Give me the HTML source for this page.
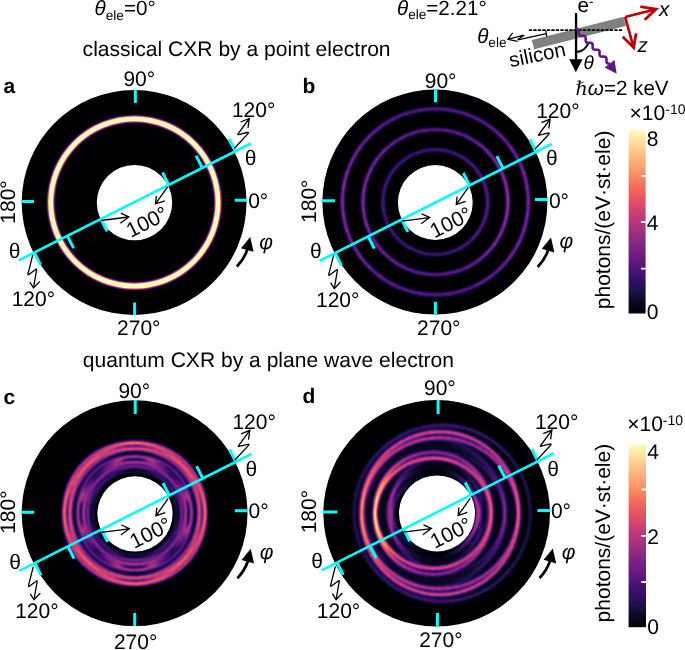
<!DOCTYPE html>
<html lang="en"><head><meta charset="utf-8"><title>CXR figure</title>
<style>html,body{margin:0;padding:0;background:#fff;overflow:hidden}svg{display:block}text{font-family:"Liberation Sans",sans-serif;fill:#000;text-rendering:geometricPrecision}</style></head><body>
<svg width="685" height="650" viewBox="0 0 685 650">
<defs>
<filter id="ma" filterUnits="userSpaceOnUse" x="13.7" y="82.1" width="240.8" height="240.8" color-interpolation-filters="sRGB">
<feGaussianBlur stdDeviation="0.85"/>
<feComponentTransfer><feFuncR type="table" tableValues="0.001 0.022 0.065 0.118 0.185 0.265 0.335 0.403 0.470 0.538 0.614 0.684 0.755 0.823 0.885 0.937 0.968 0.985 0.993 0.997 0.997 0.994 0.990 0.987 0.987 0.987 0.987 0.987 0.987 0.987 0.987 0.987 0.987"/><feFuncG type="table" tableValues="0.000 0.018 0.047 0.066 0.066 0.060 0.078 0.105 0.132 0.157 0.182 0.204 0.229 0.259 0.301 0.365 0.440 0.521 0.602 0.683 0.770 0.849 0.927 0.991 0.991 0.991 0.991 0.991 0.991 0.991 0.991 0.991 0.991"/><feFuncB type="table" tableValues="0.014 0.093 0.185 0.286 0.388 0.462 0.491 0.503 0.508 0.507 0.499 0.484 0.463 0.434 0.400 0.369 0.360 0.377 0.414 0.467 0.535 0.606 0.683 0.750 0.750 0.750 0.750 0.750 0.750 0.750 0.750 0.750 0.750"/></feComponentTransfer></filter>
<clipPath id="clipa"><path clip-rule="evenodd" d="M21.7,202.5a112.4,112.4 0 1,0 224.8,0a112.4,112.4 0 1,0 -224.8,0Z M96.8,202.6a37.7,37.7 0 1,0 75.4,0a37.7,37.7 0 1,0 -75.4,0Z"/></clipPath>
<filter id="mb" filterUnits="userSpaceOnUse" x="314.4" y="81.5" width="241" height="241" color-interpolation-filters="sRGB">
<feGaussianBlur stdDeviation="1.3"/>
<feComponentTransfer><feFuncR type="table" tableValues="0.001 0.014 0.040 0.074 0.113 0.159 0.212 0.265 0.317 0.366 0.415 0.464 0.513 0.563 0.614 0.665 0.716 0.767 0.817 0.863 0.904 0.937 0.961 0.977 0.987 0.993 0.996 0.997 0.997 0.995 0.992 0.989 0.987"/><feFuncG type="table" tableValues="0.000 0.012 0.031 0.052 0.065 0.068 0.062 0.060 0.072 0.090 0.110 0.130 0.148 0.165 0.182 0.198 0.215 0.234 0.256 0.284 0.320 0.365 0.418 0.476 0.536 0.595 0.654 0.712 0.770 0.827 0.884 0.941 0.991"/><feFuncB type="table" tableValues="0.014 0.069 0.134 0.203 0.277 0.353 0.419 0.462 0.485 0.498 0.505 0.508 0.508 0.505 0.499 0.489 0.475 0.458 0.436 0.412 0.388 0.369 0.360 0.364 0.382 0.410 0.446 0.488 0.535 0.586 0.640 0.698 0.750"/></feComponentTransfer></filter>
<clipPath id="clipb"><path clip-rule="evenodd" d="M322.4,202a112.5,112.5 0 1,0 225,0a112.5,112.5 0 1,0 -225,0Z M397.9,202.5a37.4,37.4 0 1,0 74.8,0a37.4,37.4 0 1,0 -74.8,0Z"/></clipPath>
<filter id="mc" filterUnits="userSpaceOnUse" x="13.7" y="392.25" width="241.8" height="241.8" color-interpolation-filters="sRGB">
<feGaussianBlur stdDeviation="1.3"/>
<feComponentTransfer><feFuncR type="table" tableValues="0.001 0.014 0.040 0.074 0.113 0.159 0.212 0.265 0.317 0.366 0.415 0.464 0.513 0.563 0.614 0.665 0.716 0.767 0.817 0.863 0.904 0.937 0.961 0.977 0.987 0.993 0.996 0.997 0.997 0.995 0.992 0.989 0.987"/><feFuncG type="table" tableValues="0.000 0.012 0.031 0.052 0.065 0.068 0.062 0.060 0.072 0.090 0.110 0.130 0.148 0.165 0.182 0.198 0.215 0.234 0.256 0.284 0.320 0.365 0.418 0.476 0.536 0.595 0.654 0.712 0.770 0.827 0.884 0.941 0.991"/><feFuncB type="table" tableValues="0.014 0.069 0.134 0.203 0.277 0.353 0.419 0.462 0.485 0.498 0.505 0.508 0.508 0.505 0.499 0.489 0.475 0.458 0.436 0.412 0.388 0.369 0.360 0.364 0.382 0.410 0.446 0.488 0.535 0.586 0.640 0.698 0.750"/></feComponentTransfer></filter>
<clipPath id="clipc"><path clip-rule="evenodd" d="M21.7,513.15a112.9,112.9 0 1,0 225.8,0a112.9,112.9 0 1,0 -225.8,0Z M97.4,513.9a37.6,37.6 0 1,0 75.2,0a37.6,37.6 0 1,0 -75.2,0Z"/></clipPath>
<filter id="md" filterUnits="userSpaceOnUse" x="315.35" y="391.95" width="242.6" height="242.6" color-interpolation-filters="sRGB">
<feGaussianBlur stdDeviation="1.3"/>
<feComponentTransfer><feFuncR type="table" tableValues="0.001 0.014 0.040 0.074 0.113 0.159 0.212 0.265 0.317 0.366 0.415 0.464 0.513 0.563 0.614 0.665 0.716 0.767 0.817 0.863 0.904 0.937 0.961 0.977 0.987 0.993 0.996 0.997 0.997 0.995 0.992 0.989 0.987"/><feFuncG type="table" tableValues="0.000 0.012 0.031 0.052 0.065 0.068 0.062 0.060 0.072 0.090 0.110 0.130 0.148 0.165 0.182 0.198 0.215 0.234 0.256 0.284 0.320 0.365 0.418 0.476 0.536 0.595 0.654 0.712 0.770 0.827 0.884 0.941 0.991"/><feFuncB type="table" tableValues="0.014 0.069 0.134 0.203 0.277 0.353 0.419 0.462 0.485 0.498 0.505 0.508 0.508 0.505 0.499 0.489 0.475 0.458 0.436 0.412 0.388 0.369 0.360 0.364 0.382 0.410 0.446 0.488 0.535 0.586 0.640 0.698 0.750"/></feComponentTransfer></filter>
<clipPath id="clipd"><path clip-rule="evenodd" d="M323.35,513.25a113.3,113.3 0 1,0 226.6,0a113.3,113.3 0 1,0 -226.6,0Z M399,513.4a38,38 0 1,0 76,0a38,38 0 1,0 -76,0Z"/></clipPath>
<linearGradient id="cb" x1="0" y1="0" x2="0" y2="1"><stop offset="0" stop-color="#fcfdbf"/><stop offset="0.06" stop-color="#fde2a3"/><stop offset="0.12" stop-color="#fec488"/><stop offset="0.19" stop-color="#fea772"/><stop offset="0.25" stop-color="#fc8961"/><stop offset="0.31" stop-color="#f56b5c"/><stop offset="0.38" stop-color="#e75263"/><stop offset="0.44" stop-color="#d0416f"/><stop offset="0.5" stop-color="#b73779"/><stop offset="0.56" stop-color="#9c2e7f"/><stop offset="0.62" stop-color="#832681"/><stop offset="0.69" stop-color="#6a1c81"/><stop offset="0.75" stop-color="#51127c"/><stop offset="0.81" stop-color="#36106b"/><stop offset="0.88" stop-color="#1d1147"/><stop offset="0.94" stop-color="#0a0822"/><stop offset="1" stop-color="#000004"/></linearGradient>
<linearGradient id="gb1" x1="0" y1="0" x2="1" y2="0"><stop offset="0" stop-color="#fff" stop-opacity="0.50"/><stop offset="0.5" stop-color="#fff" stop-opacity="0.36"/><stop offset="1" stop-color="#fff" stop-opacity="0.50"/></linearGradient>
<linearGradient id="gb2" x1="0" y1="0" x2="1" y2="0"><stop offset="0" stop-color="#fff" stop-opacity="0.46"/><stop offset="0.5" stop-color="#fff" stop-opacity="0.36"/><stop offset="1" stop-color="#fff" stop-opacity="0.56"/></linearGradient>
<linearGradient id="gb3" x1="0" y1="0" x2="1" y2="0"><stop offset="0" stop-color="#fff" stop-opacity="0.33"/><stop offset="0.5" stop-color="#fff" stop-opacity="0.28"/><stop offset="1" stop-color="#fff" stop-opacity="0.33"/></linearGradient>
<linearGradient id="gdl" x1="0" y1="0" x2="1" y2="0"><stop offset="0" stop-color="#fff" stop-opacity="1"/><stop offset="0.5" stop-color="#fff" stop-opacity="0.55"/><stop offset="1" stop-color="#fff" stop-opacity="0.35"/></linearGradient>
<linearGradient id="gdr" x1="0" y1="0" x2="1" y2="0"><stop offset="0" stop-color="#fff" stop-opacity="0.35"/><stop offset="0.5" stop-color="#fff" stop-opacity="0.55"/><stop offset="1" stop-color="#fff" stop-opacity="1"/></linearGradient>
</defs>
<rect width="685" height="650" fill="#fff"/>
<g clip-path="url(#clipa)"><g filter="url(#ma)">
<rect x="11.7" y="80.1" width="244.8" height="244.8" fill="#000"/>
<circle cx="134.4" cy="202.5" r="83.65" fill="none" stroke="#fff" stroke-width="5.2" stroke-opacity="1"/>
</g></g>
<g clip-path="url(#clipb)"><g filter="url(#mb)">
<rect x="312.4" y="79.5" width="245" height="245" fill="#000"/>
<g fill="none" stroke="#fff" stroke-width="3.2">
<path d="M528.35,202.04A92.95,92.95 0 0,0 527.17,187.02" stroke-opacity="0.41"/>
<path d="M527.24,187.5A92.95,92.95 0 0,0 523.73,172.85" stroke-opacity="0.41"/>
<path d="M523.88,173.31A92.95,92.95 0 0,0 518.11,159.38" stroke-opacity="0.39"/>
<path d="M518.33,159.82A92.95,92.95 0 0,0 510.45,146.97" stroke-opacity="0.38"/>
<path d="M510.74,147.36A92.95,92.95 0 0,0 500.95,135.9" stroke-opacity="0.36"/>
<path d="M501.3,136.25A92.95,92.95 0 0,0 489.84,126.46" stroke-opacity="0.34"/>
<path d="M490.23,126.75A92.95,92.95 0 0,0 477.38,118.87" stroke-opacity="0.33"/>
<path d="M477.82,119.09A92.95,92.95 0 0,0 463.89,113.32" stroke-opacity="0.31"/>
<path d="M464.35,113.47A92.95,92.95 0 0,0 449.7,109.96" stroke-opacity="0.3"/>
<path d="M450.18,110.03A92.95,92.95 0 0,0 435.16,108.85" stroke-opacity="0.3"/>
<path d="M435.64,108.85A92.95,92.95 0 0,0 420.62,110.03" stroke-opacity="0.3"/>
<path d="M421.1,109.96A92.95,92.95 0 0,0 406.45,113.47" stroke-opacity="0.3"/>
<path d="M406.91,113.32A92.95,92.95 0 0,0 392.98,119.09" stroke-opacity="0.31"/>
<path d="M393.42,118.87A92.95,92.95 0 0,0 380.57,126.75" stroke-opacity="0.33"/>
<path d="M380.96,126.46A92.95,92.95 0 0,0 369.5,136.25" stroke-opacity="0.35"/>
<path d="M369.85,135.9A92.95,92.95 0 0,0 360.06,147.36" stroke-opacity="0.37"/>
<path d="M360.35,146.97A92.95,92.95 0 0,0 352.47,159.82" stroke-opacity="0.39"/>
<path d="M352.69,159.38A92.95,92.95 0 0,0 346.92,173.31" stroke-opacity="0.4"/>
<path d="M347.07,172.85A92.95,92.95 0 0,0 343.56,187.5" stroke-opacity="0.42"/>
<path d="M343.63,187.02A92.95,92.95 0 0,0 342.45,202.04" stroke-opacity="0.42"/>
<path d="M342.45,201.56A92.95,92.95 0 0,0 343.63,216.58" stroke-opacity="0.42"/>
<path d="M343.56,216.1A92.95,92.95 0 0,0 347.07,230.75" stroke-opacity="0.42"/>
<path d="M346.92,230.29A92.95,92.95 0 0,0 352.69,244.22" stroke-opacity="0.4"/>
<path d="M352.47,243.78A92.95,92.95 0 0,0 360.35,256.63" stroke-opacity="0.39"/>
<path d="M360.06,256.24A92.95,92.95 0 0,0 369.85,267.7" stroke-opacity="0.37"/>
<path d="M369.5,267.35A92.95,92.95 0 0,0 380.96,277.14" stroke-opacity="0.35"/>
<path d="M380.57,276.85A92.95,92.95 0 0,0 393.42,284.73" stroke-opacity="0.33"/>
<path d="M392.98,284.51A92.95,92.95 0 0,0 406.91,290.28" stroke-opacity="0.31"/>
<path d="M406.45,290.13A92.95,92.95 0 0,0 421.1,293.64" stroke-opacity="0.3"/>
<path d="M420.62,293.57A92.95,92.95 0 0,0 435.64,294.75" stroke-opacity="0.3"/>
<path d="M435.16,294.75A92.95,92.95 0 0,0 450.18,293.57" stroke-opacity="0.3"/>
<path d="M449.7,293.64A92.95,92.95 0 0,0 464.35,290.13" stroke-opacity="0.3"/>
<path d="M463.89,290.28A92.95,92.95 0 0,0 477.82,284.51" stroke-opacity="0.31"/>
<path d="M477.38,284.73A92.95,92.95 0 0,0 490.23,276.85" stroke-opacity="0.33"/>
<path d="M489.84,277.14A92.95,92.95 0 0,0 501.3,267.35" stroke-opacity="0.34"/>
<path d="M500.95,267.7A92.95,92.95 0 0,0 510.74,256.24" stroke-opacity="0.36"/>
<path d="M510.45,256.63A92.95,92.95 0 0,0 518.33,243.78" stroke-opacity="0.38"/>
<path d="M518.11,244.22A92.95,92.95 0 0,0 523.88,230.29" stroke-opacity="0.39"/>
<path d="M523.73,230.75A92.95,92.95 0 0,0 527.24,216.1" stroke-opacity="0.41"/>
<path d="M527.17,216.58A92.95,92.95 0 0,0 528.35,201.56" stroke-opacity="0.41"/>
</g>
<g fill="none" stroke="#fff" stroke-width="3.2">
<path d="M508,202.24A72.5,72.5 0 0,0 507.08,190.52" stroke-opacity="0.47"/>
<path d="M507.14,190.9A72.5,72.5 0 0,0 504.39,179.47" stroke-opacity="0.46"/>
<path d="M504.51,179.83A72.5,72.5 0 0,0 500.01,168.97" stroke-opacity="0.44"/>
<path d="M500.18,169.3A72.5,72.5 0 0,0 494.04,159.28" stroke-opacity="0.42"/>
<path d="M494.27,159.59A72.5,72.5 0 0,0 486.63,150.65" stroke-opacity="0.4"/>
<path d="M486.9,150.92A72.5,72.5 0 0,0 477.96,143.28" stroke-opacity="0.38"/>
<path d="M478.27,143.51A72.5,72.5 0 0,0 468.25,137.37" stroke-opacity="0.35"/>
<path d="M468.58,137.54A72.5,72.5 0 0,0 457.72,133.04" stroke-opacity="0.33"/>
<path d="M458.08,133.16A72.5,72.5 0 0,0 446.65,130.41" stroke-opacity="0.32"/>
<path d="M447.03,130.47A72.5,72.5 0 0,0 435.31,129.55" stroke-opacity="0.31"/>
<path d="M435.69,129.55A72.5,72.5 0 0,0 423.97,130.47" stroke-opacity="0.31"/>
<path d="M424.35,130.41A72.5,72.5 0 0,0 412.92,133.16" stroke-opacity="0.32"/>
<path d="M413.28,133.04A72.5,72.5 0 0,0 402.42,137.54" stroke-opacity="0.33"/>
<path d="M402.75,137.37A72.5,72.5 0 0,0 392.73,143.51" stroke-opacity="0.34"/>
<path d="M393.04,143.28A72.5,72.5 0 0,0 384.1,150.92" stroke-opacity="0.36"/>
<path d="M384.37,150.65A72.5,72.5 0 0,0 376.73,159.59" stroke-opacity="0.38"/>
<path d="M376.96,159.28A72.5,72.5 0 0,0 370.82,169.3" stroke-opacity="0.39"/>
<path d="M370.99,168.97A72.5,72.5 0 0,0 366.49,179.83" stroke-opacity="0.41"/>
<path d="M366.61,179.47A72.5,72.5 0 0,0 363.86,190.9" stroke-opacity="0.42"/>
<path d="M363.92,190.52A72.5,72.5 0 0,0 363,202.24" stroke-opacity="0.42"/>
<path d="M363,201.86A72.5,72.5 0 0,0 363.92,213.58" stroke-opacity="0.42"/>
<path d="M363.86,213.2A72.5,72.5 0 0,0 366.61,224.63" stroke-opacity="0.42"/>
<path d="M366.49,224.27A72.5,72.5 0 0,0 370.99,235.13" stroke-opacity="0.41"/>
<path d="M370.82,234.8A72.5,72.5 0 0,0 376.96,244.82" stroke-opacity="0.39"/>
<path d="M376.73,244.51A72.5,72.5 0 0,0 384.37,253.45" stroke-opacity="0.38"/>
<path d="M384.1,253.18A72.5,72.5 0 0,0 393.04,260.82" stroke-opacity="0.36"/>
<path d="M392.73,260.59A72.5,72.5 0 0,0 402.75,266.73" stroke-opacity="0.34"/>
<path d="M402.42,266.56A72.5,72.5 0 0,0 413.28,271.06" stroke-opacity="0.33"/>
<path d="M412.92,270.94A72.5,72.5 0 0,0 424.35,273.69" stroke-opacity="0.32"/>
<path d="M423.97,273.63A72.5,72.5 0 0,0 435.69,274.55" stroke-opacity="0.31"/>
<path d="M435.31,274.55A72.5,72.5 0 0,0 447.03,273.63" stroke-opacity="0.31"/>
<path d="M446.65,273.69A72.5,72.5 0 0,0 458.08,270.94" stroke-opacity="0.32"/>
<path d="M457.72,271.06A72.5,72.5 0 0,0 468.58,266.56" stroke-opacity="0.33"/>
<path d="M468.25,266.73A72.5,72.5 0 0,0 478.27,260.59" stroke-opacity="0.35"/>
<path d="M477.96,260.82A72.5,72.5 0 0,0 486.9,253.18" stroke-opacity="0.38"/>
<path d="M486.63,253.45A72.5,72.5 0 0,0 494.27,244.51" stroke-opacity="0.4"/>
<path d="M494.04,244.82A72.5,72.5 0 0,0 500.18,234.8" stroke-opacity="0.42"/>
<path d="M500.01,235.13A72.5,72.5 0 0,0 504.51,224.27" stroke-opacity="0.44"/>
<path d="M504.39,224.63A72.5,72.5 0 0,0 507.14,213.2" stroke-opacity="0.46"/>
<path d="M507.08,213.58A72.5,72.5 0 0,0 508,201.86" stroke-opacity="0.47"/>
</g>
<g fill="none" stroke="#fff" stroke-width="3.2">
<path d="M487.7,202.19A52.4,52.4 0 0,0 487.03,193.72" stroke-opacity="0.31"/>
<path d="M487.08,193.99A52.4,52.4 0 0,0 485.09,185.73" stroke-opacity="0.31"/>
<path d="M485.18,185.99A52.4,52.4 0 0,0 481.93,178.14" stroke-opacity="0.3"/>
<path d="M482.05,178.38A52.4,52.4 0 0,0 477.61,171.14" stroke-opacity="0.29"/>
<path d="M477.77,171.36A52.4,52.4 0 0,0 472.26,164.9" stroke-opacity="0.28"/>
<path d="M472.45,165.09A52.4,52.4 0 0,0 465.99,159.58" stroke-opacity="0.27"/>
<path d="M466.21,159.74A52.4,52.4 0 0,0 458.97,155.3" stroke-opacity="0.26"/>
<path d="M459.21,155.42A52.4,52.4 0 0,0 451.36,152.17" stroke-opacity="0.25"/>
<path d="M451.62,152.26A52.4,52.4 0 0,0 443.36,150.27" stroke-opacity="0.24"/>
<path d="M443.63,150.32A52.4,52.4 0 0,0 435.16,149.65" stroke-opacity="0.23"/>
<path d="M435.44,149.65A52.4,52.4 0 0,0 426.97,150.32" stroke-opacity="0.23"/>
<path d="M427.24,150.27A52.4,52.4 0 0,0 418.98,152.26" stroke-opacity="0.23"/>
<path d="M419.24,152.17A52.4,52.4 0 0,0 411.39,155.42" stroke-opacity="0.24"/>
<path d="M411.63,155.3A52.4,52.4 0 0,0 404.39,159.74" stroke-opacity="0.24"/>
<path d="M404.61,159.58A52.4,52.4 0 0,0 398.15,165.09" stroke-opacity="0.24"/>
<path d="M398.34,164.9A52.4,52.4 0 0,0 392.83,171.36" stroke-opacity="0.25"/>
<path d="M392.99,171.14A52.4,52.4 0 0,0 388.55,178.38" stroke-opacity="0.25"/>
<path d="M388.67,178.14A52.4,52.4 0 0,0 385.42,185.99" stroke-opacity="0.25"/>
<path d="M385.51,185.73A52.4,52.4 0 0,0 383.52,193.99" stroke-opacity="0.25"/>
<path d="M383.57,193.72A52.4,52.4 0 0,0 382.9,202.19" stroke-opacity="0.26"/>
<path d="M382.9,201.91A52.4,52.4 0 0,0 383.57,210.38" stroke-opacity="0.26"/>
<path d="M383.52,210.11A52.4,52.4 0 0,0 385.51,218.37" stroke-opacity="0.25"/>
<path d="M385.42,218.11A52.4,52.4 0 0,0 388.67,225.96" stroke-opacity="0.25"/>
<path d="M388.55,225.72A52.4,52.4 0 0,0 392.99,232.96" stroke-opacity="0.25"/>
<path d="M392.83,232.74A52.4,52.4 0 0,0 398.34,239.2" stroke-opacity="0.25"/>
<path d="M398.15,239.01A52.4,52.4 0 0,0 404.61,244.52" stroke-opacity="0.24"/>
<path d="M404.39,244.36A52.4,52.4 0 0,0 411.63,248.8" stroke-opacity="0.24"/>
<path d="M411.39,248.68A52.4,52.4 0 0,0 419.24,251.93" stroke-opacity="0.24"/>
<path d="M418.98,251.84A52.4,52.4 0 0,0 427.24,253.83" stroke-opacity="0.23"/>
<path d="M426.97,253.78A52.4,52.4 0 0,0 435.44,254.45" stroke-opacity="0.23"/>
<path d="M435.16,254.45A52.4,52.4 0 0,0 443.63,253.78" stroke-opacity="0.23"/>
<path d="M443.36,253.83A52.4,52.4 0 0,0 451.62,251.84" stroke-opacity="0.24"/>
<path d="M451.36,251.93A52.4,52.4 0 0,0 459.21,248.68" stroke-opacity="0.25"/>
<path d="M458.97,248.8A52.4,52.4 0 0,0 466.21,244.36" stroke-opacity="0.26"/>
<path d="M465.99,244.52A52.4,52.4 0 0,0 472.45,239.01" stroke-opacity="0.27"/>
<path d="M472.26,239.2A52.4,52.4 0 0,0 477.77,232.74" stroke-opacity="0.28"/>
<path d="M477.61,232.96A52.4,52.4 0 0,0 482.05,225.72" stroke-opacity="0.29"/>
<path d="M481.93,225.96A52.4,52.4 0 0,0 485.18,218.11" stroke-opacity="0.3"/>
<path d="M485.09,218.37A52.4,52.4 0 0,0 487.08,210.11" stroke-opacity="0.31"/>
<path d="M487.03,210.38A52.4,52.4 0 0,0 487.7,201.91" stroke-opacity="0.31"/>
</g>
</g></g>
<g clip-path="url(#clipc)"><g filter="url(#mc)">
<rect x="11.7" y="390.25" width="245.8" height="245.8" fill="#000"/>
<circle cx="134.7" cy="513.3" r="57" fill="none" stroke="#fff" stroke-width="32" stroke-opacity="0.035"/>
<g fill="none" stroke="#fff" stroke-width="3.6">
<path d="M205.13,510.65A67.6,67.6 0 0,0 204.53,501.47" stroke-opacity="0.47"/>
<path d="M204.57,501.82A67.6,67.6 0 0,0 202.78,492.8" stroke-opacity="0.48"/>
<path d="M202.87,493.15A67.6,67.6 0 0,0 199.91,484.44" stroke-opacity="0.48"/>
<path d="M200.05,484.77A67.6,67.6 0 0,0 195.98,476.52" stroke-opacity="0.48"/>
<path d="M196.16,476.82A67.6,67.6 0 0,0 191.05,469.18" stroke-opacity="0.48"/>
<path d="M191.27,469.46A67.6,67.6 0 0,0 185.2,462.55" stroke-opacity="0.49"/>
<path d="M185.45,462.8A67.6,67.6 0 0,0 178.54,456.73" stroke-opacity="0.49"/>
<path d="M178.82,456.95A67.6,67.6 0 0,0 171.18,451.84" stroke-opacity="0.48"/>
<path d="M171.48,452.02A67.6,67.6 0 0,0 163.23,447.95" stroke-opacity="0.48"/>
<path d="M163.56,448.09A67.6,67.6 0 0,0 154.85,445.13" stroke-opacity="0.48"/>
<path d="M155.2,445.22A67.6,67.6 0 0,0 146.18,443.43" stroke-opacity="0.48"/>
<path d="M146.53,443.47A67.6,67.6 0 0,0 137.35,442.87" stroke-opacity="0.47"/>
<path d="M137.71,442.87A67.6,67.6 0 0,0 128.53,443.47" stroke-opacity="0.47"/>
<path d="M128.88,443.43A67.6,67.6 0 0,0 119.86,445.22" stroke-opacity="0.46"/>
<path d="M120.2,445.13A67.6,67.6 0 0,0 111.5,448.09" stroke-opacity="0.46"/>
<path d="M111.82,447.95A67.6,67.6 0 0,0 103.58,452.02" stroke-opacity="0.45"/>
<path d="M103.88,451.84A67.6,67.6 0 0,0 96.24,456.95" stroke-opacity="0.44"/>
<path d="M96.52,456.73A67.6,67.6 0 0,0 89.6,462.8" stroke-opacity="0.44"/>
<path d="M89.85,462.55A67.6,67.6 0 0,0 83.79,469.46" stroke-opacity="0.43"/>
<path d="M84.01,469.18A67.6,67.6 0 0,0 78.9,476.82" stroke-opacity="0.42"/>
<path d="M79.07,476.52A67.6,67.6 0 0,0 75.01,484.77" stroke-opacity="0.41"/>
<path d="M75.14,484.44A67.6,67.6 0 0,0 72.19,493.15" stroke-opacity="0.41"/>
<path d="M72.28,492.8A67.6,67.6 0 0,0 70.48,501.82" stroke-opacity="0.4"/>
<path d="M70.53,501.47A67.6,67.6 0 0,0 69.93,510.65" stroke-opacity="0.4"/>
<path d="M69.93,510.29A67.6,67.6 0 0,0 70.53,519.47" stroke-opacity="0.39"/>
<path d="M70.48,519.12A67.6,67.6 0 0,0 72.28,528.14" stroke-opacity="0.39"/>
<path d="M72.19,527.8A67.6,67.6 0 0,0 75.14,536.5" stroke-opacity="0.38"/>
<path d="M75.01,536.18A67.6,67.6 0 0,0 79.07,544.42" stroke-opacity="0.38"/>
<path d="M78.9,544.12A67.6,67.6 0 0,0 84.01,551.76" stroke-opacity="0.38"/>
<path d="M83.79,551.48A67.6,67.6 0 0,0 89.85,558.4" stroke-opacity="0.38"/>
<path d="M89.6,558.15A67.6,67.6 0 0,0 96.52,564.21" stroke-opacity="0.38"/>
<path d="M96.24,563.99A67.6,67.6 0 0,0 103.88,569.1" stroke-opacity="0.38"/>
<path d="M103.58,568.93A67.6,67.6 0 0,0 111.82,572.99" stroke-opacity="0.38"/>
<path d="M111.5,572.86A67.6,67.6 0 0,0 120.2,575.81" stroke-opacity="0.38"/>
<path d="M119.86,575.72A67.6,67.6 0 0,0 128.88,577.52" stroke-opacity="0.39"/>
<path d="M128.53,577.47A67.6,67.6 0 0,0 137.71,578.07" stroke-opacity="0.39"/>
<path d="M137.35,578.07A67.6,67.6 0 0,0 146.53,577.47" stroke-opacity="0.4"/>
<path d="M146.18,577.52A67.6,67.6 0 0,0 155.2,575.72" stroke-opacity="0.4"/>
<path d="M154.85,575.81A67.6,67.6 0 0,0 163.56,572.86" stroke-opacity="0.41"/>
<path d="M163.23,572.99A67.6,67.6 0 0,0 171.48,568.93" stroke-opacity="0.41"/>
<path d="M171.18,569.1A67.6,67.6 0 0,0 178.82,563.99" stroke-opacity="0.42"/>
<path d="M178.54,564.21A67.6,67.6 0 0,0 185.45,558.15" stroke-opacity="0.43"/>
<path d="M185.2,558.4A67.6,67.6 0 0,0 191.27,551.48" stroke-opacity="0.44"/>
<path d="M191.05,551.76A67.6,67.6 0 0,0 196.16,544.12" stroke-opacity="0.44"/>
<path d="M195.98,544.42A67.6,67.6 0 0,0 200.05,536.18" stroke-opacity="0.45"/>
<path d="M199.91,536.5A67.6,67.6 0 0,0 202.87,527.8" stroke-opacity="0.46"/>
<path d="M202.78,528.14A67.6,67.6 0 0,0 204.57,519.12" stroke-opacity="0.46"/>
<path d="M204.53,519.47A67.6,67.6 0 0,0 205.13,510.29" stroke-opacity="0.47"/>
</g>
<g fill="none" stroke="#fff" stroke-width="2.6">
<path d="M191.53,510.61A54,54 0 0,0 191.22,504.69" stroke-opacity="0.33"/>
<path d="M191.25,504.97A54,54 0 0,0 190.32,499.11" stroke-opacity="0.33"/>
<path d="M190.38,499.38A54,54 0 0,0 188.84,493.65" stroke-opacity="0.33"/>
<path d="M188.93,493.92A54,54 0 0,0 186.8,488.38" stroke-opacity="0.33"/>
<path d="M186.92,488.64A54,54 0 0,0 184.22,483.35" stroke-opacity="0.33"/>
<path d="M184.36,483.59A54,54 0 0,0 181.13,478.62" stroke-opacity="0.33"/>
<path d="M181.3,478.85A54,54 0 0,0 177.56,474.23" stroke-opacity="0.33"/>
<path d="M177.75,474.44A54,54 0 0,0 173.56,470.25" stroke-opacity="0.33"/>
<path d="M173.77,470.44A54,54 0 0,0 169.15,466.7" stroke-opacity="0.33"/>
<path d="M169.38,466.87A54,54 0 0,0 164.41,463.64" stroke-opacity="0.33"/>
<path d="M164.65,463.78A54,54 0 0,0 159.36,461.08" stroke-opacity="0.33"/>
<path d="M159.62,461.2A54,54 0 0,0 154.08,459.07" stroke-opacity="0.33"/>
<path d="M154.35,459.16A54,54 0 0,0 148.62,457.62" stroke-opacity="0.33"/>
<path d="M148.89,457.68A54,54 0 0,0 143.03,456.75" stroke-opacity="0.33"/>
<path d="M143.31,456.78A54,54 0 0,0 137.39,456.47" stroke-opacity="0.33"/>
<path d="M137.67,456.47A54,54 0 0,0 131.74,456.78" stroke-opacity="0.33"/>
<path d="M132.02,456.75A54,54 0 0,0 126.16,457.68" stroke-opacity="0.33"/>
<path d="M126.44,457.62A54,54 0 0,0 120.71,459.16" stroke-opacity="0.33"/>
<path d="M120.98,459.07A54,54 0 0,0 115.44,461.2" stroke-opacity="0.32"/>
<path d="M115.69,461.08A54,54 0 0,0 110.41,463.78" stroke-opacity="0.29"/>
<path d="M110.65,463.64A54,54 0 0,0 105.67,466.87" stroke-opacity="0.21"/>
<path d="M105.9,466.7A54,54 0 0,0 101.29,470.44" stroke-opacity="0.1"/>
<path d="M101.5,470.25A54,54 0 0,0 97.3,474.44" stroke-opacity="0.05"/>
<path d="M97.49,474.23A54,54 0 0,0 93.76,478.85" stroke-opacity="0.1"/>
<path d="M93.92,478.62A54,54 0 0,0 90.69,483.59" stroke-opacity="0.21"/>
<path d="M90.83,483.35A54,54 0 0,0 88.14,488.64" stroke-opacity="0.29"/>
<path d="M88.25,488.38A54,54 0 0,0 86.13,493.92" stroke-opacity="0.32"/>
<path d="M86.22,493.65A54,54 0 0,0 84.68,499.38" stroke-opacity="0.33"/>
<path d="M84.74,499.11A54,54 0 0,0 83.81,504.97" stroke-opacity="0.33"/>
<path d="M83.84,504.69A54,54 0 0,0 83.53,510.61" stroke-opacity="0.33"/>
<path d="M83.53,510.33A54,54 0 0,0 83.84,516.26" stroke-opacity="0.33"/>
<path d="M83.81,515.98A54,54 0 0,0 84.74,521.84" stroke-opacity="0.33"/>
<path d="M84.68,521.56A54,54 0 0,0 86.22,527.29" stroke-opacity="0.33"/>
<path d="M86.13,527.02A54,54 0 0,0 88.25,532.56" stroke-opacity="0.33"/>
<path d="M88.14,532.31A54,54 0 0,0 90.83,537.59" stroke-opacity="0.33"/>
<path d="M90.69,537.35A54,54 0 0,0 93.92,542.33" stroke-opacity="0.33"/>
<path d="M93.76,542.1A54,54 0 0,0 97.49,546.71" stroke-opacity="0.33"/>
<path d="M97.3,546.5A54,54 0 0,0 101.5,550.7" stroke-opacity="0.33"/>
<path d="M101.29,550.51A54,54 0 0,0 105.9,554.24" stroke-opacity="0.33"/>
<path d="M105.67,554.08A54,54 0 0,0 110.65,557.31" stroke-opacity="0.33"/>
<path d="M110.41,557.17A54,54 0 0,0 115.69,559.86" stroke-opacity="0.33"/>
<path d="M115.44,559.75A54,54 0 0,0 120.98,561.87" stroke-opacity="0.33"/>
<path d="M120.71,561.78A54,54 0 0,0 126.44,563.32" stroke-opacity="0.33"/>
<path d="M126.16,563.26A54,54 0 0,0 132.02,564.19" stroke-opacity="0.33"/>
<path d="M131.74,564.16A54,54 0 0,0 137.67,564.47" stroke-opacity="0.33"/>
<path d="M137.39,564.47A54,54 0 0,0 143.31,564.16" stroke-opacity="0.33"/>
<path d="M143.03,564.19A54,54 0 0,0 148.89,563.26" stroke-opacity="0.33"/>
<path d="M148.62,563.32A54,54 0 0,0 154.35,561.78" stroke-opacity="0.33"/>
<path d="M154.08,561.87A54,54 0 0,0 159.62,559.75" stroke-opacity="0.32"/>
<path d="M159.36,559.86A54,54 0 0,0 164.65,557.17" stroke-opacity="0.29"/>
<path d="M164.41,557.31A54,54 0 0,0 169.38,554.08" stroke-opacity="0.21"/>
<path d="M169.15,554.24A54,54 0 0,0 173.77,550.51" stroke-opacity="0.1"/>
<path d="M173.56,550.7A54,54 0 0,0 177.75,546.5" stroke-opacity="0.05"/>
<path d="M177.56,546.71A54,54 0 0,0 181.3,542.1" stroke-opacity="0.1"/>
<path d="M181.13,542.33A54,54 0 0,0 184.36,537.35" stroke-opacity="0.21"/>
<path d="M184.22,537.59A54,54 0 0,0 186.92,532.31" stroke-opacity="0.29"/>
<path d="M186.8,532.56A54,54 0 0,0 188.93,527.02" stroke-opacity="0.32"/>
<path d="M188.84,527.29A54,54 0 0,0 190.38,521.56" stroke-opacity="0.33"/>
<path d="M190.32,521.84A54,54 0 0,0 191.25,515.98" stroke-opacity="0.33"/>
<path d="M191.22,516.26A54,54 0 0,0 191.53,510.33" stroke-opacity="0.33"/>
</g>
<g fill="none" stroke="#fff" stroke-width="2.6">
<path d="M181.73,510.59A44.2,44.2 0 0,0 181.04,502.68" stroke-opacity="0.24"/>
<path d="M181.08,502.91A44.2,44.2 0 0,0 179.02,495.25" stroke-opacity="0.25"/>
<path d="M179.1,495.46A44.2,44.2 0 0,0 175.75,488.27" stroke-opacity="0.26"/>
<path d="M175.86,488.47A44.2,44.2 0 0,0 171.31,481.97" stroke-opacity="0.26"/>
<path d="M171.46,482.15A44.2,44.2 0 0,0 165.85,476.54" stroke-opacity="0.26"/>
<path d="M166.03,476.69A44.2,44.2 0 0,0 159.53,472.14" stroke-opacity="0.26"/>
<path d="M159.73,472.25A44.2,44.2 0 0,0 152.54,468.9" stroke-opacity="0.26"/>
<path d="M152.75,468.98A44.2,44.2 0 0,0 145.09,466.92" stroke-opacity="0.25"/>
<path d="M145.32,466.96A44.2,44.2 0 0,0 137.41,466.27" stroke-opacity="0.24"/>
<path d="M137.64,466.27A44.2,44.2 0 0,0 129.74,466.96" stroke-opacity="0.22"/>
<path d="M129.97,466.92A44.2,44.2 0 0,0 122.3,468.98" stroke-opacity="0.2"/>
<path d="M122.52,468.9A44.2,44.2 0 0,0 115.33,472.25" stroke-opacity="0.19"/>
<path d="M115.53,472.14A44.2,44.2 0 0,0 109.03,476.69" stroke-opacity="0.17"/>
<path d="M109.21,476.54A44.2,44.2 0 0,0 103.59,482.15" stroke-opacity="0.14"/>
<path d="M103.74,481.97A44.2,44.2 0 0,0 99.19,488.47" stroke-opacity="0.12"/>
<path d="M99.31,488.27A44.2,44.2 0 0,0 95.95,495.46" stroke-opacity="0.1"/>
<path d="M96.03,495.25A44.2,44.2 0 0,0 93.98,502.91" stroke-opacity="0.09"/>
<path d="M94.02,502.68A44.2,44.2 0 0,0 93.33,510.59" stroke-opacity="0.07"/>
<path d="M93.33,510.36A44.2,44.2 0 0,0 94.02,518.26" stroke-opacity="0.05"/>
<path d="M93.98,518.03A44.2,44.2 0 0,0 96.03,525.7" stroke-opacity="0.04"/>
<path d="M95.95,525.48A44.2,44.2 0 0,0 99.31,532.67" stroke-opacity="0.03"/>
<path d="M99.19,532.47A44.2,44.2 0 0,0 103.74,538.97" stroke-opacity="0.03"/>
<path d="M103.59,538.79A44.2,44.2 0 0,0 109.21,544.41" stroke-opacity="0.03"/>
<path d="M109.03,544.26A44.2,44.2 0 0,0 115.53,548.81" stroke-opacity="0.03"/>
<path d="M115.33,548.69A44.2,44.2 0 0,0 122.52,552.05" stroke-opacity="0.03"/>
<path d="M122.3,551.97A44.2,44.2 0 0,0 129.97,554.02" stroke-opacity="0.04"/>
<path d="M129.74,553.98A44.2,44.2 0 0,0 137.64,554.67" stroke-opacity="0.05"/>
<path d="M137.41,554.67A44.2,44.2 0 0,0 145.32,553.98" stroke-opacity="0.07"/>
<path d="M145.09,554.02A44.2,44.2 0 0,0 152.75,551.97" stroke-opacity="0.09"/>
<path d="M152.54,552.05A44.2,44.2 0 0,0 159.73,548.69" stroke-opacity="0.1"/>
<path d="M159.53,548.81A44.2,44.2 0 0,0 166.03,544.26" stroke-opacity="0.12"/>
<path d="M165.85,544.41A44.2,44.2 0 0,0 171.46,538.79" stroke-opacity="0.14"/>
<path d="M171.31,538.97A44.2,44.2 0 0,0 175.86,532.47" stroke-opacity="0.17"/>
<path d="M175.75,532.67A44.2,44.2 0 0,0 179.1,525.48" stroke-opacity="0.19"/>
<path d="M179.02,525.7A44.2,44.2 0 0,0 181.08,518.03" stroke-opacity="0.2"/>
<path d="M181.04,518.26A44.2,44.2 0 0,0 181.73,510.36" stroke-opacity="0.22"/>
</g>
<g fill="none" stroke="#fff" stroke-width="3.6">
<path d="M199.47,510.65A67.6,67.6 0 0,0 198.87,501.47" stroke-opacity="0.4"/>
<path d="M198.92,501.82A67.6,67.6 0 0,0 197.12,492.8" stroke-opacity="0.4"/>
<path d="M197.21,493.15A67.6,67.6 0 0,0 194.26,484.44" stroke-opacity="0.41"/>
<path d="M194.39,484.77A67.6,67.6 0 0,0 190.33,476.52" stroke-opacity="0.41"/>
<path d="M190.5,476.82A67.6,67.6 0 0,0 185.39,469.18" stroke-opacity="0.42"/>
<path d="M185.61,469.46A67.6,67.6 0 0,0 179.55,462.55" stroke-opacity="0.43"/>
<path d="M179.8,462.8A67.6,67.6 0 0,0 172.88,456.73" stroke-opacity="0.44"/>
<path d="M173.16,456.95A67.6,67.6 0 0,0 165.52,451.84" stroke-opacity="0.44"/>
<path d="M165.82,452.02A67.6,67.6 0 0,0 157.58,447.95" stroke-opacity="0.45"/>
<path d="M157.9,448.09A67.6,67.6 0 0,0 149.2,445.13" stroke-opacity="0.46"/>
<path d="M149.54,445.22A67.6,67.6 0 0,0 140.52,443.43" stroke-opacity="0.46"/>
<path d="M140.87,443.47A67.6,67.6 0 0,0 131.69,442.87" stroke-opacity="0.47"/>
<path d="M132.05,442.87A67.6,67.6 0 0,0 122.87,443.47" stroke-opacity="0.47"/>
<path d="M123.22,443.43A67.6,67.6 0 0,0 114.2,445.22" stroke-opacity="0.48"/>
<path d="M114.55,445.13A67.6,67.6 0 0,0 105.84,448.09" stroke-opacity="0.48"/>
<path d="M106.17,447.95A67.6,67.6 0 0,0 97.92,452.02" stroke-opacity="0.48"/>
<path d="M98.22,451.84A67.6,67.6 0 0,0 90.58,456.95" stroke-opacity="0.48"/>
<path d="M90.86,456.73A67.6,67.6 0 0,0 83.95,462.8" stroke-opacity="0.49"/>
<path d="M84.2,462.55A67.6,67.6 0 0,0 78.13,469.46" stroke-opacity="0.49"/>
<path d="M78.35,469.18A67.6,67.6 0 0,0 73.24,476.82" stroke-opacity="0.48"/>
<path d="M73.42,476.52A67.6,67.6 0 0,0 69.35,484.77" stroke-opacity="0.48"/>
<path d="M69.49,484.44A67.6,67.6 0 0,0 66.53,493.15" stroke-opacity="0.48"/>
<path d="M66.62,492.8A67.6,67.6 0 0,0 64.83,501.82" stroke-opacity="0.48"/>
<path d="M64.87,501.47A67.6,67.6 0 0,0 64.27,510.65" stroke-opacity="0.47"/>
<path d="M64.27,510.29A67.6,67.6 0 0,0 64.87,519.47" stroke-opacity="0.47"/>
<path d="M64.83,519.12A67.6,67.6 0 0,0 66.62,528.14" stroke-opacity="0.46"/>
<path d="M66.53,527.8A67.6,67.6 0 0,0 69.49,536.5" stroke-opacity="0.46"/>
<path d="M69.35,536.18A67.6,67.6 0 0,0 73.42,544.42" stroke-opacity="0.45"/>
<path d="M73.24,544.12A67.6,67.6 0 0,0 78.35,551.76" stroke-opacity="0.44"/>
<path d="M78.13,551.48A67.6,67.6 0 0,0 84.2,558.4" stroke-opacity="0.44"/>
<path d="M83.95,558.15A67.6,67.6 0 0,0 90.86,564.21" stroke-opacity="0.43"/>
<path d="M90.58,563.99A67.6,67.6 0 0,0 98.22,569.1" stroke-opacity="0.42"/>
<path d="M97.92,568.93A67.6,67.6 0 0,0 106.17,572.99" stroke-opacity="0.41"/>
<path d="M105.84,572.86A67.6,67.6 0 0,0 114.55,575.81" stroke-opacity="0.41"/>
<path d="M114.2,575.72A67.6,67.6 0 0,0 123.22,577.52" stroke-opacity="0.4"/>
<path d="M122.87,577.47A67.6,67.6 0 0,0 132.05,578.07" stroke-opacity="0.4"/>
<path d="M131.69,578.07A67.6,67.6 0 0,0 140.87,577.47" stroke-opacity="0.39"/>
<path d="M140.52,577.52A67.6,67.6 0 0,0 149.54,575.72" stroke-opacity="0.39"/>
<path d="M149.2,575.81A67.6,67.6 0 0,0 157.9,572.86" stroke-opacity="0.38"/>
<path d="M157.58,572.99A67.6,67.6 0 0,0 165.82,568.93" stroke-opacity="0.38"/>
<path d="M165.52,569.1A67.6,67.6 0 0,0 173.16,563.99" stroke-opacity="0.38"/>
<path d="M172.88,564.21A67.6,67.6 0 0,0 179.8,558.15" stroke-opacity="0.38"/>
<path d="M179.55,558.4A67.6,67.6 0 0,0 185.61,551.48" stroke-opacity="0.38"/>
<path d="M185.39,551.76A67.6,67.6 0 0,0 190.5,544.12" stroke-opacity="0.38"/>
<path d="M190.33,544.42A67.6,67.6 0 0,0 194.39,536.18" stroke-opacity="0.38"/>
<path d="M194.26,536.5A67.6,67.6 0 0,0 197.21,527.8" stroke-opacity="0.38"/>
<path d="M197.12,528.14A67.6,67.6 0 0,0 198.92,519.12" stroke-opacity="0.39"/>
<path d="M198.87,519.47A67.6,67.6 0 0,0 199.47,510.29" stroke-opacity="0.39"/>
</g>
<g fill="none" stroke="#fff" stroke-width="2.6">
<path d="M185.87,510.61A54,54 0 0,0 185.56,504.69" stroke-opacity="0.33"/>
<path d="M185.59,504.97A54,54 0 0,0 184.66,499.11" stroke-opacity="0.33"/>
<path d="M184.72,499.38A54,54 0 0,0 183.18,493.65" stroke-opacity="0.33"/>
<path d="M183.27,493.92A54,54 0 0,0 181.15,488.38" stroke-opacity="0.32"/>
<path d="M181.26,488.64A54,54 0 0,0 178.57,483.35" stroke-opacity="0.29"/>
<path d="M178.71,483.59A54,54 0 0,0 175.48,478.62" stroke-opacity="0.21"/>
<path d="M175.64,478.85A54,54 0 0,0 171.91,474.23" stroke-opacity="0.1"/>
<path d="M172.1,474.44A54,54 0 0,0 167.9,470.25" stroke-opacity="0.05"/>
<path d="M168.11,470.44A54,54 0 0,0 163.5,466.7" stroke-opacity="0.1"/>
<path d="M163.73,466.87A54,54 0 0,0 158.75,463.64" stroke-opacity="0.21"/>
<path d="M158.99,463.78A54,54 0 0,0 153.71,461.08" stroke-opacity="0.29"/>
<path d="M153.96,461.2A54,54 0 0,0 148.42,459.07" stroke-opacity="0.32"/>
<path d="M148.69,459.16A54,54 0 0,0 142.96,457.62" stroke-opacity="0.33"/>
<path d="M143.24,457.68A54,54 0 0,0 137.38,456.75" stroke-opacity="0.33"/>
<path d="M137.66,456.78A54,54 0 0,0 131.73,456.47" stroke-opacity="0.33"/>
<path d="M132.01,456.47A54,54 0 0,0 126.09,456.78" stroke-opacity="0.33"/>
<path d="M126.37,456.75A54,54 0 0,0 120.51,457.68" stroke-opacity="0.33"/>
<path d="M120.78,457.62A54,54 0 0,0 115.05,459.16" stroke-opacity="0.33"/>
<path d="M115.32,459.07A54,54 0 0,0 109.78,461.2" stroke-opacity="0.33"/>
<path d="M110.04,461.08A54,54 0 0,0 104.75,463.78" stroke-opacity="0.33"/>
<path d="M104.99,463.64A54,54 0 0,0 100.02,466.87" stroke-opacity="0.33"/>
<path d="M100.25,466.7A54,54 0 0,0 95.63,470.44" stroke-opacity="0.33"/>
<path d="M95.84,470.25A54,54 0 0,0 91.65,474.44" stroke-opacity="0.33"/>
<path d="M91.84,474.23A54,54 0 0,0 88.1,478.85" stroke-opacity="0.33"/>
<path d="M88.27,478.62A54,54 0 0,0 85.04,483.59" stroke-opacity="0.33"/>
<path d="M85.18,483.35A54,54 0 0,0 82.48,488.64" stroke-opacity="0.33"/>
<path d="M82.6,488.38A54,54 0 0,0 80.47,493.92" stroke-opacity="0.33"/>
<path d="M80.56,493.65A54,54 0 0,0 79.02,499.38" stroke-opacity="0.33"/>
<path d="M79.08,499.11A54,54 0 0,0 78.15,504.97" stroke-opacity="0.33"/>
<path d="M78.18,504.69A54,54 0 0,0 77.87,510.61" stroke-opacity="0.33"/>
<path d="M77.87,510.33A54,54 0 0,0 78.18,516.26" stroke-opacity="0.33"/>
<path d="M78.15,515.98A54,54 0 0,0 79.08,521.84" stroke-opacity="0.33"/>
<path d="M79.02,521.56A54,54 0 0,0 80.56,527.29" stroke-opacity="0.33"/>
<path d="M80.47,527.02A54,54 0 0,0 82.6,532.56" stroke-opacity="0.32"/>
<path d="M82.48,532.31A54,54 0 0,0 85.18,537.59" stroke-opacity="0.29"/>
<path d="M85.04,537.35A54,54 0 0,0 88.27,542.33" stroke-opacity="0.21"/>
<path d="M88.1,542.1A54,54 0 0,0 91.84,546.71" stroke-opacity="0.1"/>
<path d="M91.65,546.5A54,54 0 0,0 95.84,550.7" stroke-opacity="0.05"/>
<path d="M95.63,550.51A54,54 0 0,0 100.25,554.24" stroke-opacity="0.1"/>
<path d="M100.02,554.08A54,54 0 0,0 104.99,557.31" stroke-opacity="0.21"/>
<path d="M104.75,557.17A54,54 0 0,0 110.04,559.86" stroke-opacity="0.29"/>
<path d="M109.78,559.75A54,54 0 0,0 115.32,561.87" stroke-opacity="0.32"/>
<path d="M115.05,561.78A54,54 0 0,0 120.78,563.32" stroke-opacity="0.33"/>
<path d="M120.51,563.26A54,54 0 0,0 126.37,564.19" stroke-opacity="0.33"/>
<path d="M126.09,564.16A54,54 0 0,0 132.01,564.47" stroke-opacity="0.33"/>
<path d="M131.73,564.47A54,54 0 0,0 137.66,564.16" stroke-opacity="0.33"/>
<path d="M137.38,564.19A54,54 0 0,0 143.24,563.26" stroke-opacity="0.33"/>
<path d="M142.96,563.32A54,54 0 0,0 148.69,561.78" stroke-opacity="0.33"/>
<path d="M148.42,561.87A54,54 0 0,0 153.96,559.75" stroke-opacity="0.33"/>
<path d="M153.71,559.86A54,54 0 0,0 158.99,557.17" stroke-opacity="0.33"/>
<path d="M158.75,557.31A54,54 0 0,0 163.73,554.08" stroke-opacity="0.33"/>
<path d="M163.5,554.24A54,54 0 0,0 168.11,550.51" stroke-opacity="0.33"/>
<path d="M167.9,550.7A54,54 0 0,0 172.1,546.5" stroke-opacity="0.33"/>
<path d="M171.91,546.71A54,54 0 0,0 175.64,542.1" stroke-opacity="0.33"/>
<path d="M175.48,542.33A54,54 0 0,0 178.71,537.35" stroke-opacity="0.33"/>
<path d="M178.57,537.59A54,54 0 0,0 181.26,532.31" stroke-opacity="0.33"/>
<path d="M181.15,532.56A54,54 0 0,0 183.27,527.02" stroke-opacity="0.33"/>
<path d="M183.18,527.29A54,54 0 0,0 184.72,521.56" stroke-opacity="0.33"/>
<path d="M184.66,521.84A54,54 0 0,0 185.59,515.98" stroke-opacity="0.33"/>
<path d="M185.56,516.26A54,54 0 0,0 185.87,510.33" stroke-opacity="0.33"/>
</g>
<g fill="none" stroke="#fff" stroke-width="2.6">
<path d="M176.07,510.59A44.2,44.2 0 0,0 175.38,502.68" stroke-opacity="0.07"/>
<path d="M175.42,502.91A44.2,44.2 0 0,0 173.37,495.25" stroke-opacity="0.09"/>
<path d="M173.45,495.46A44.2,44.2 0 0,0 170.09,488.27" stroke-opacity="0.1"/>
<path d="M170.21,488.47A44.2,44.2 0 0,0 165.66,481.97" stroke-opacity="0.12"/>
<path d="M165.81,482.15A44.2,44.2 0 0,0 160.19,476.54" stroke-opacity="0.14"/>
<path d="M160.37,476.69A44.2,44.2 0 0,0 153.87,472.14" stroke-opacity="0.17"/>
<path d="M154.07,472.25A44.2,44.2 0 0,0 146.88,468.9" stroke-opacity="0.19"/>
<path d="M147.1,468.98A44.2,44.2 0 0,0 139.43,466.92" stroke-opacity="0.2"/>
<path d="M139.66,466.96A44.2,44.2 0 0,0 131.76,466.27" stroke-opacity="0.22"/>
<path d="M131.99,466.27A44.2,44.2 0 0,0 124.08,466.96" stroke-opacity="0.24"/>
<path d="M124.31,466.92A44.2,44.2 0 0,0 116.65,468.98" stroke-opacity="0.25"/>
<path d="M116.86,468.9A44.2,44.2 0 0,0 109.67,472.25" stroke-opacity="0.26"/>
<path d="M109.87,472.14A44.2,44.2 0 0,0 103.37,476.69" stroke-opacity="0.26"/>
<path d="M103.55,476.54A44.2,44.2 0 0,0 97.94,482.15" stroke-opacity="0.26"/>
<path d="M98.09,481.97A44.2,44.2 0 0,0 93.54,488.47" stroke-opacity="0.26"/>
<path d="M93.65,488.27A44.2,44.2 0 0,0 90.3,495.46" stroke-opacity="0.26"/>
<path d="M90.38,495.25A44.2,44.2 0 0,0 88.32,502.91" stroke-opacity="0.25"/>
<path d="M88.36,502.68A44.2,44.2 0 0,0 87.67,510.59" stroke-opacity="0.24"/>
<path d="M87.67,510.36A44.2,44.2 0 0,0 88.36,518.26" stroke-opacity="0.22"/>
<path d="M88.32,518.03A44.2,44.2 0 0,0 90.38,525.7" stroke-opacity="0.2"/>
<path d="M90.3,525.48A44.2,44.2 0 0,0 93.65,532.67" stroke-opacity="0.19"/>
<path d="M93.54,532.47A44.2,44.2 0 0,0 98.09,538.97" stroke-opacity="0.17"/>
<path d="M97.94,538.79A44.2,44.2 0 0,0 103.55,544.41" stroke-opacity="0.14"/>
<path d="M103.37,544.26A44.2,44.2 0 0,0 109.87,548.81" stroke-opacity="0.12"/>
<path d="M109.67,548.69A44.2,44.2 0 0,0 116.86,552.05" stroke-opacity="0.1"/>
<path d="M116.65,551.97A44.2,44.2 0 0,0 124.31,554.02" stroke-opacity="0.09"/>
<path d="M124.08,553.98A44.2,44.2 0 0,0 131.99,554.67" stroke-opacity="0.07"/>
<path d="M131.76,554.67A44.2,44.2 0 0,0 139.66,553.98" stroke-opacity="0.05"/>
<path d="M139.43,554.02A44.2,44.2 0 0,0 147.1,551.97" stroke-opacity="0.04"/>
<path d="M146.88,552.05A44.2,44.2 0 0,0 154.07,548.69" stroke-opacity="0.03"/>
<path d="M153.87,548.81A44.2,44.2 0 0,0 160.37,544.26" stroke-opacity="0.03"/>
<path d="M160.19,544.41A44.2,44.2 0 0,0 165.81,538.79" stroke-opacity="0.03"/>
<path d="M165.66,538.97A44.2,44.2 0 0,0 170.21,532.47" stroke-opacity="0.03"/>
<path d="M170.09,532.67A44.2,44.2 0 0,0 173.45,525.48" stroke-opacity="0.03"/>
<path d="M173.37,525.7A44.2,44.2 0 0,0 175.42,518.03" stroke-opacity="0.04"/>
<path d="M175.38,518.26A44.2,44.2 0 0,0 176.07,510.36" stroke-opacity="0.05"/>
</g>
<g fill="none" stroke="#fff" stroke-width="3.6">
<path d="M199.47,516.31A67.6,67.6 0 0,0 198.87,507.13" stroke-opacity="0.39"/>
<path d="M198.92,507.48A67.6,67.6 0 0,0 197.12,498.46" stroke-opacity="0.39"/>
<path d="M197.21,498.8A67.6,67.6 0 0,0 194.26,490.1" stroke-opacity="0.38"/>
<path d="M194.39,490.42A67.6,67.6 0 0,0 190.33,482.18" stroke-opacity="0.38"/>
<path d="M190.5,482.48A67.6,67.6 0 0,0 185.39,474.84" stroke-opacity="0.38"/>
<path d="M185.61,475.12A67.6,67.6 0 0,0 179.55,468.2" stroke-opacity="0.38"/>
<path d="M179.8,468.45A67.6,67.6 0 0,0 172.88,462.39" stroke-opacity="0.38"/>
<path d="M173.16,462.61A67.6,67.6 0 0,0 165.52,457.5" stroke-opacity="0.38"/>
<path d="M165.82,457.67A67.6,67.6 0 0,0 157.58,453.61" stroke-opacity="0.38"/>
<path d="M157.9,453.74A67.6,67.6 0 0,0 149.2,450.79" stroke-opacity="0.38"/>
<path d="M149.54,450.88A67.6,67.6 0 0,0 140.52,449.08" stroke-opacity="0.39"/>
<path d="M140.87,449.13A67.6,67.6 0 0,0 131.69,448.53" stroke-opacity="0.39"/>
<path d="M132.05,448.53A67.6,67.6 0 0,0 122.87,449.13" stroke-opacity="0.4"/>
<path d="M123.22,449.08A67.6,67.6 0 0,0 114.2,450.88" stroke-opacity="0.4"/>
<path d="M114.55,450.79A67.6,67.6 0 0,0 105.84,453.74" stroke-opacity="0.41"/>
<path d="M106.17,453.61A67.6,67.6 0 0,0 97.92,457.67" stroke-opacity="0.41"/>
<path d="M98.22,457.5A67.6,67.6 0 0,0 90.58,462.61" stroke-opacity="0.42"/>
<path d="M90.86,462.39A67.6,67.6 0 0,0 83.95,468.45" stroke-opacity="0.43"/>
<path d="M84.2,468.2A67.6,67.6 0 0,0 78.13,475.12" stroke-opacity="0.44"/>
<path d="M78.35,474.84A67.6,67.6 0 0,0 73.24,482.48" stroke-opacity="0.44"/>
<path d="M73.42,482.18A67.6,67.6 0 0,0 69.35,490.42" stroke-opacity="0.45"/>
<path d="M69.49,490.1A67.6,67.6 0 0,0 66.53,498.8" stroke-opacity="0.46"/>
<path d="M66.62,498.46A67.6,67.6 0 0,0 64.83,507.48" stroke-opacity="0.46"/>
<path d="M64.87,507.13A67.6,67.6 0 0,0 64.27,516.31" stroke-opacity="0.47"/>
<path d="M64.27,515.95A67.6,67.6 0 0,0 64.87,525.13" stroke-opacity="0.47"/>
<path d="M64.83,524.78A67.6,67.6 0 0,0 66.62,533.8" stroke-opacity="0.48"/>
<path d="M66.53,533.45A67.6,67.6 0 0,0 69.49,542.16" stroke-opacity="0.48"/>
<path d="M69.35,541.83A67.6,67.6 0 0,0 73.42,550.08" stroke-opacity="0.48"/>
<path d="M73.24,549.78A67.6,67.6 0 0,0 78.35,557.42" stroke-opacity="0.48"/>
<path d="M78.13,557.14A67.6,67.6 0 0,0 84.2,564.05" stroke-opacity="0.49"/>
<path d="M83.95,563.8A67.6,67.6 0 0,0 90.86,569.87" stroke-opacity="0.49"/>
<path d="M90.58,569.65A67.6,67.6 0 0,0 98.22,574.76" stroke-opacity="0.48"/>
<path d="M97.92,574.58A67.6,67.6 0 0,0 106.17,578.65" stroke-opacity="0.48"/>
<path d="M105.84,578.51A67.6,67.6 0 0,0 114.55,581.47" stroke-opacity="0.48"/>
<path d="M114.2,581.38A67.6,67.6 0 0,0 123.22,583.17" stroke-opacity="0.48"/>
<path d="M122.87,583.13A67.6,67.6 0 0,0 132.05,583.73" stroke-opacity="0.47"/>
<path d="M131.69,583.73A67.6,67.6 0 0,0 140.87,583.13" stroke-opacity="0.47"/>
<path d="M140.52,583.17A67.6,67.6 0 0,0 149.54,581.38" stroke-opacity="0.46"/>
<path d="M149.2,581.47A67.6,67.6 0 0,0 157.9,578.51" stroke-opacity="0.46"/>
<path d="M157.58,578.65A67.6,67.6 0 0,0 165.82,574.58" stroke-opacity="0.45"/>
<path d="M165.52,574.76A67.6,67.6 0 0,0 173.16,569.65" stroke-opacity="0.44"/>
<path d="M172.88,569.87A67.6,67.6 0 0,0 179.8,563.8" stroke-opacity="0.44"/>
<path d="M179.55,564.05A67.6,67.6 0 0,0 185.61,557.14" stroke-opacity="0.43"/>
<path d="M185.39,557.42A67.6,67.6 0 0,0 190.5,549.78" stroke-opacity="0.42"/>
<path d="M190.33,550.08A67.6,67.6 0 0,0 194.39,541.83" stroke-opacity="0.41"/>
<path d="M194.26,542.16A67.6,67.6 0 0,0 197.21,533.45" stroke-opacity="0.41"/>
<path d="M197.12,533.8A67.6,67.6 0 0,0 198.92,524.78" stroke-opacity="0.4"/>
<path d="M198.87,525.13A67.6,67.6 0 0,0 199.47,515.95" stroke-opacity="0.4"/>
</g>
<g fill="none" stroke="#fff" stroke-width="2.6">
<path d="M185.87,516.27A54,54 0 0,0 185.56,510.34" stroke-opacity="0.33"/>
<path d="M185.59,510.62A54,54 0 0,0 184.66,504.76" stroke-opacity="0.33"/>
<path d="M184.72,505.04A54,54 0 0,0 183.18,499.31" stroke-opacity="0.33"/>
<path d="M183.27,499.58A54,54 0 0,0 181.15,494.04" stroke-opacity="0.33"/>
<path d="M181.26,494.29A54,54 0 0,0 178.57,489.01" stroke-opacity="0.33"/>
<path d="M178.71,489.25A54,54 0 0,0 175.48,484.27" stroke-opacity="0.33"/>
<path d="M175.64,484.5A54,54 0 0,0 171.91,479.89" stroke-opacity="0.33"/>
<path d="M172.1,480.1A54,54 0 0,0 167.9,475.9" stroke-opacity="0.33"/>
<path d="M168.11,476.09A54,54 0 0,0 163.5,472.36" stroke-opacity="0.33"/>
<path d="M163.73,472.52A54,54 0 0,0 158.75,469.29" stroke-opacity="0.33"/>
<path d="M158.99,469.43A54,54 0 0,0 153.71,466.74" stroke-opacity="0.33"/>
<path d="M153.96,466.85A54,54 0 0,0 148.42,464.73" stroke-opacity="0.33"/>
<path d="M148.69,464.82A54,54 0 0,0 142.96,463.28" stroke-opacity="0.33"/>
<path d="M143.24,463.34A54,54 0 0,0 137.38,462.41" stroke-opacity="0.33"/>
<path d="M137.66,462.44A54,54 0 0,0 131.73,462.13" stroke-opacity="0.33"/>
<path d="M132.01,462.13A54,54 0 0,0 126.09,462.44" stroke-opacity="0.33"/>
<path d="M126.37,462.41A54,54 0 0,0 120.51,463.34" stroke-opacity="0.33"/>
<path d="M120.78,463.28A54,54 0 0,0 115.05,464.82" stroke-opacity="0.33"/>
<path d="M115.32,464.73A54,54 0 0,0 109.78,466.85" stroke-opacity="0.32"/>
<path d="M110.04,466.74A54,54 0 0,0 104.75,469.43" stroke-opacity="0.29"/>
<path d="M104.99,469.29A54,54 0 0,0 100.02,472.52" stroke-opacity="0.21"/>
<path d="M100.25,472.36A54,54 0 0,0 95.63,476.09" stroke-opacity="0.1"/>
<path d="M95.84,475.9A54,54 0 0,0 91.65,480.1" stroke-opacity="0.05"/>
<path d="M91.84,479.89A54,54 0 0,0 88.1,484.5" stroke-opacity="0.1"/>
<path d="M88.27,484.27A54,54 0 0,0 85.04,489.25" stroke-opacity="0.21"/>
<path d="M85.18,489.01A54,54 0 0,0 82.48,494.29" stroke-opacity="0.29"/>
<path d="M82.6,494.04A54,54 0 0,0 80.47,499.58" stroke-opacity="0.32"/>
<path d="M80.56,499.31A54,54 0 0,0 79.02,505.04" stroke-opacity="0.33"/>
<path d="M79.08,504.76A54,54 0 0,0 78.15,510.62" stroke-opacity="0.33"/>
<path d="M78.18,510.34A54,54 0 0,0 77.87,516.27" stroke-opacity="0.33"/>
<path d="M77.87,515.99A54,54 0 0,0 78.18,521.91" stroke-opacity="0.33"/>
<path d="M78.15,521.63A54,54 0 0,0 79.08,527.49" stroke-opacity="0.33"/>
<path d="M79.02,527.22A54,54 0 0,0 80.56,532.95" stroke-opacity="0.33"/>
<path d="M80.47,532.68A54,54 0 0,0 82.6,538.22" stroke-opacity="0.33"/>
<path d="M82.48,537.96A54,54 0 0,0 85.18,543.25" stroke-opacity="0.33"/>
<path d="M85.04,543.01A54,54 0 0,0 88.27,547.98" stroke-opacity="0.33"/>
<path d="M88.1,547.75A54,54 0 0,0 91.84,552.37" stroke-opacity="0.33"/>
<path d="M91.65,552.16A54,54 0 0,0 95.84,556.35" stroke-opacity="0.33"/>
<path d="M95.63,556.16A54,54 0 0,0 100.25,559.9" stroke-opacity="0.33"/>
<path d="M100.02,559.73A54,54 0 0,0 104.99,562.96" stroke-opacity="0.33"/>
<path d="M104.75,562.82A54,54 0 0,0 110.04,565.52" stroke-opacity="0.33"/>
<path d="M109.78,565.4A54,54 0 0,0 115.32,567.53" stroke-opacity="0.33"/>
<path d="M115.05,567.44A54,54 0 0,0 120.78,568.98" stroke-opacity="0.33"/>
<path d="M120.51,568.92A54,54 0 0,0 126.37,569.85" stroke-opacity="0.33"/>
<path d="M126.09,569.82A54,54 0 0,0 132.01,570.13" stroke-opacity="0.33"/>
<path d="M131.73,570.13A54,54 0 0,0 137.66,569.82" stroke-opacity="0.33"/>
<path d="M137.38,569.85A54,54 0 0,0 143.24,568.92" stroke-opacity="0.33"/>
<path d="M142.96,568.98A54,54 0 0,0 148.69,567.44" stroke-opacity="0.33"/>
<path d="M148.42,567.53A54,54 0 0,0 153.96,565.4" stroke-opacity="0.32"/>
<path d="M153.71,565.52A54,54 0 0,0 158.99,562.82" stroke-opacity="0.29"/>
<path d="M158.75,562.96A54,54 0 0,0 163.73,559.73" stroke-opacity="0.21"/>
<path d="M163.5,559.9A54,54 0 0,0 168.11,556.16" stroke-opacity="0.1"/>
<path d="M167.9,556.35A54,54 0 0,0 172.1,552.16" stroke-opacity="0.05"/>
<path d="M171.91,552.37A54,54 0 0,0 175.64,547.75" stroke-opacity="0.1"/>
<path d="M175.48,547.98A54,54 0 0,0 178.71,543.01" stroke-opacity="0.21"/>
<path d="M178.57,543.25A54,54 0 0,0 181.26,537.96" stroke-opacity="0.29"/>
<path d="M181.15,538.22A54,54 0 0,0 183.27,532.68" stroke-opacity="0.32"/>
<path d="M183.18,532.95A54,54 0 0,0 184.72,527.22" stroke-opacity="0.33"/>
<path d="M184.66,527.49A54,54 0 0,0 185.59,521.63" stroke-opacity="0.33"/>
<path d="M185.56,521.91A54,54 0 0,0 185.87,515.99" stroke-opacity="0.33"/>
</g>
<g fill="none" stroke="#fff" stroke-width="2.6">
<path d="M176.07,516.24A44.2,44.2 0 0,0 175.38,508.34" stroke-opacity="0.05"/>
<path d="M175.42,508.57A44.2,44.2 0 0,0 173.37,500.9" stroke-opacity="0.04"/>
<path d="M173.45,501.12A44.2,44.2 0 0,0 170.09,493.93" stroke-opacity="0.03"/>
<path d="M170.21,494.13A44.2,44.2 0 0,0 165.66,487.63" stroke-opacity="0.03"/>
<path d="M165.81,487.81A44.2,44.2 0 0,0 160.19,482.19" stroke-opacity="0.03"/>
<path d="M160.37,482.34A44.2,44.2 0 0,0 153.87,477.79" stroke-opacity="0.03"/>
<path d="M154.07,477.91A44.2,44.2 0 0,0 146.88,474.55" stroke-opacity="0.03"/>
<path d="M147.1,474.63A44.2,44.2 0 0,0 139.43,472.58" stroke-opacity="0.04"/>
<path d="M139.66,472.62A44.2,44.2 0 0,0 131.76,471.93" stroke-opacity="0.05"/>
<path d="M131.99,471.93A44.2,44.2 0 0,0 124.08,472.62" stroke-opacity="0.07"/>
<path d="M124.31,472.58A44.2,44.2 0 0,0 116.65,474.63" stroke-opacity="0.09"/>
<path d="M116.86,474.55A44.2,44.2 0 0,0 109.67,477.91" stroke-opacity="0.1"/>
<path d="M109.87,477.79A44.2,44.2 0 0,0 103.37,482.34" stroke-opacity="0.12"/>
<path d="M103.55,482.19A44.2,44.2 0 0,0 97.94,487.81" stroke-opacity="0.14"/>
<path d="M98.09,487.63A44.2,44.2 0 0,0 93.54,494.13" stroke-opacity="0.17"/>
<path d="M93.65,493.93A44.2,44.2 0 0,0 90.3,501.12" stroke-opacity="0.19"/>
<path d="M90.38,500.9A44.2,44.2 0 0,0 88.32,508.57" stroke-opacity="0.2"/>
<path d="M88.36,508.34A44.2,44.2 0 0,0 87.67,516.24" stroke-opacity="0.22"/>
<path d="M87.67,516.01A44.2,44.2 0 0,0 88.36,523.92" stroke-opacity="0.24"/>
<path d="M88.32,523.69A44.2,44.2 0 0,0 90.38,531.35" stroke-opacity="0.25"/>
<path d="M90.3,531.14A44.2,44.2 0 0,0 93.65,538.33" stroke-opacity="0.26"/>
<path d="M93.54,538.13A44.2,44.2 0 0,0 98.09,544.63" stroke-opacity="0.26"/>
<path d="M97.94,544.45A44.2,44.2 0 0,0 103.55,550.06" stroke-opacity="0.26"/>
<path d="M103.37,549.91A44.2,44.2 0 0,0 109.87,554.46" stroke-opacity="0.26"/>
<path d="M109.67,554.35A44.2,44.2 0 0,0 116.86,557.7" stroke-opacity="0.26"/>
<path d="M116.65,557.62A44.2,44.2 0 0,0 124.31,559.68" stroke-opacity="0.25"/>
<path d="M124.08,559.64A44.2,44.2 0 0,0 131.99,560.33" stroke-opacity="0.24"/>
<path d="M131.76,560.33A44.2,44.2 0 0,0 139.66,559.64" stroke-opacity="0.22"/>
<path d="M139.43,559.68A44.2,44.2 0 0,0 147.1,557.62" stroke-opacity="0.2"/>
<path d="M146.88,557.7A44.2,44.2 0 0,0 154.07,554.35" stroke-opacity="0.19"/>
<path d="M153.87,554.46A44.2,44.2 0 0,0 160.37,549.91" stroke-opacity="0.17"/>
<path d="M160.19,550.06A44.2,44.2 0 0,0 165.81,544.45" stroke-opacity="0.14"/>
<path d="M165.66,544.63A44.2,44.2 0 0,0 170.21,538.13" stroke-opacity="0.12"/>
<path d="M170.09,538.33A44.2,44.2 0 0,0 173.45,531.14" stroke-opacity="0.1"/>
<path d="M173.37,531.35A44.2,44.2 0 0,0 175.42,523.69" stroke-opacity="0.09"/>
<path d="M175.38,523.92A44.2,44.2 0 0,0 176.07,516.01" stroke-opacity="0.07"/>
</g>
<g fill="none" stroke="#fff" stroke-width="3.6">
<path d="M205.13,516.31A67.6,67.6 0 0,0 204.53,507.13" stroke-opacity="0.47"/>
<path d="M204.57,507.48A67.6,67.6 0 0,0 202.78,498.46" stroke-opacity="0.46"/>
<path d="M202.87,498.8A67.6,67.6 0 0,0 199.91,490.1" stroke-opacity="0.46"/>
<path d="M200.05,490.42A67.6,67.6 0 0,0 195.98,482.18" stroke-opacity="0.45"/>
<path d="M196.16,482.48A67.6,67.6 0 0,0 191.05,474.84" stroke-opacity="0.44"/>
<path d="M191.27,475.12A67.6,67.6 0 0,0 185.2,468.2" stroke-opacity="0.44"/>
<path d="M185.45,468.45A67.6,67.6 0 0,0 178.54,462.39" stroke-opacity="0.43"/>
<path d="M178.82,462.61A67.6,67.6 0 0,0 171.18,457.5" stroke-opacity="0.42"/>
<path d="M171.48,457.67A67.6,67.6 0 0,0 163.23,453.61" stroke-opacity="0.41"/>
<path d="M163.56,453.74A67.6,67.6 0 0,0 154.85,450.79" stroke-opacity="0.41"/>
<path d="M155.2,450.88A67.6,67.6 0 0,0 146.18,449.08" stroke-opacity="0.4"/>
<path d="M146.53,449.13A67.6,67.6 0 0,0 137.35,448.53" stroke-opacity="0.4"/>
<path d="M137.71,448.53A67.6,67.6 0 0,0 128.53,449.13" stroke-opacity="0.39"/>
<path d="M128.88,449.08A67.6,67.6 0 0,0 119.86,450.88" stroke-opacity="0.39"/>
<path d="M120.2,450.79A67.6,67.6 0 0,0 111.5,453.74" stroke-opacity="0.38"/>
<path d="M111.82,453.61A67.6,67.6 0 0,0 103.58,457.67" stroke-opacity="0.38"/>
<path d="M103.88,457.5A67.6,67.6 0 0,0 96.24,462.61" stroke-opacity="0.38"/>
<path d="M96.52,462.39A67.6,67.6 0 0,0 89.6,468.45" stroke-opacity="0.38"/>
<path d="M89.85,468.2A67.6,67.6 0 0,0 83.79,475.12" stroke-opacity="0.38"/>
<path d="M84.01,474.84A67.6,67.6 0 0,0 78.9,482.48" stroke-opacity="0.38"/>
<path d="M79.07,482.18A67.6,67.6 0 0,0 75.01,490.42" stroke-opacity="0.38"/>
<path d="M75.14,490.1A67.6,67.6 0 0,0 72.19,498.8" stroke-opacity="0.38"/>
<path d="M72.28,498.46A67.6,67.6 0 0,0 70.48,507.48" stroke-opacity="0.39"/>
<path d="M70.53,507.13A67.6,67.6 0 0,0 69.93,516.31" stroke-opacity="0.39"/>
<path d="M69.93,515.95A67.6,67.6 0 0,0 70.53,525.13" stroke-opacity="0.4"/>
<path d="M70.48,524.78A67.6,67.6 0 0,0 72.28,533.8" stroke-opacity="0.4"/>
<path d="M72.19,533.45A67.6,67.6 0 0,0 75.14,542.16" stroke-opacity="0.41"/>
<path d="M75.01,541.83A67.6,67.6 0 0,0 79.07,550.08" stroke-opacity="0.41"/>
<path d="M78.9,549.78A67.6,67.6 0 0,0 84.01,557.42" stroke-opacity="0.42"/>
<path d="M83.79,557.14A67.6,67.6 0 0,0 89.85,564.05" stroke-opacity="0.43"/>
<path d="M89.6,563.8A67.6,67.6 0 0,0 96.52,569.87" stroke-opacity="0.44"/>
<path d="M96.24,569.65A67.6,67.6 0 0,0 103.88,574.76" stroke-opacity="0.44"/>
<path d="M103.58,574.58A67.6,67.6 0 0,0 111.82,578.65" stroke-opacity="0.45"/>
<path d="M111.5,578.51A67.6,67.6 0 0,0 120.2,581.47" stroke-opacity="0.46"/>
<path d="M119.86,581.38A67.6,67.6 0 0,0 128.88,583.17" stroke-opacity="0.46"/>
<path d="M128.53,583.13A67.6,67.6 0 0,0 137.71,583.73" stroke-opacity="0.47"/>
<path d="M137.35,583.73A67.6,67.6 0 0,0 146.53,583.13" stroke-opacity="0.47"/>
<path d="M146.18,583.17A67.6,67.6 0 0,0 155.2,581.38" stroke-opacity="0.48"/>
<path d="M154.85,581.47A67.6,67.6 0 0,0 163.56,578.51" stroke-opacity="0.48"/>
<path d="M163.23,578.65A67.6,67.6 0 0,0 171.48,574.58" stroke-opacity="0.48"/>
<path d="M171.18,574.76A67.6,67.6 0 0,0 178.82,569.65" stroke-opacity="0.48"/>
<path d="M178.54,569.87A67.6,67.6 0 0,0 185.45,563.8" stroke-opacity="0.49"/>
<path d="M185.2,564.05A67.6,67.6 0 0,0 191.27,557.14" stroke-opacity="0.49"/>
<path d="M191.05,557.42A67.6,67.6 0 0,0 196.16,549.78" stroke-opacity="0.48"/>
<path d="M195.98,550.08A67.6,67.6 0 0,0 200.05,541.83" stroke-opacity="0.48"/>
<path d="M199.91,542.16A67.6,67.6 0 0,0 202.87,533.45" stroke-opacity="0.48"/>
<path d="M202.78,533.8A67.6,67.6 0 0,0 204.57,524.78" stroke-opacity="0.48"/>
<path d="M204.53,525.13A67.6,67.6 0 0,0 205.13,515.95" stroke-opacity="0.47"/>
</g>
<g fill="none" stroke="#fff" stroke-width="2.6">
<path d="M191.53,516.27A54,54 0 0,0 191.22,510.34" stroke-opacity="0.33"/>
<path d="M191.25,510.62A54,54 0 0,0 190.32,504.76" stroke-opacity="0.33"/>
<path d="M190.38,505.04A54,54 0 0,0 188.84,499.31" stroke-opacity="0.33"/>
<path d="M188.93,499.58A54,54 0 0,0 186.8,494.04" stroke-opacity="0.32"/>
<path d="M186.92,494.29A54,54 0 0,0 184.22,489.01" stroke-opacity="0.29"/>
<path d="M184.36,489.25A54,54 0 0,0 181.13,484.27" stroke-opacity="0.21"/>
<path d="M181.3,484.5A54,54 0 0,0 177.56,479.89" stroke-opacity="0.1"/>
<path d="M177.75,480.1A54,54 0 0,0 173.56,475.9" stroke-opacity="0.05"/>
<path d="M173.77,476.09A54,54 0 0,0 169.15,472.36" stroke-opacity="0.1"/>
<path d="M169.38,472.52A54,54 0 0,0 164.41,469.29" stroke-opacity="0.21"/>
<path d="M164.65,469.43A54,54 0 0,0 159.36,466.74" stroke-opacity="0.29"/>
<path d="M159.62,466.85A54,54 0 0,0 154.08,464.73" stroke-opacity="0.32"/>
<path d="M154.35,464.82A54,54 0 0,0 148.62,463.28" stroke-opacity="0.33"/>
<path d="M148.89,463.34A54,54 0 0,0 143.03,462.41" stroke-opacity="0.33"/>
<path d="M143.31,462.44A54,54 0 0,0 137.39,462.13" stroke-opacity="0.33"/>
<path d="M137.67,462.13A54,54 0 0,0 131.74,462.44" stroke-opacity="0.33"/>
<path d="M132.02,462.41A54,54 0 0,0 126.16,463.34" stroke-opacity="0.33"/>
<path d="M126.44,463.28A54,54 0 0,0 120.71,464.82" stroke-opacity="0.33"/>
<path d="M120.98,464.73A54,54 0 0,0 115.44,466.85" stroke-opacity="0.33"/>
<path d="M115.69,466.74A54,54 0 0,0 110.41,469.43" stroke-opacity="0.33"/>
<path d="M110.65,469.29A54,54 0 0,0 105.67,472.52" stroke-opacity="0.33"/>
<path d="M105.9,472.36A54,54 0 0,0 101.29,476.09" stroke-opacity="0.33"/>
<path d="M101.5,475.9A54,54 0 0,0 97.3,480.1" stroke-opacity="0.33"/>
<path d="M97.49,479.89A54,54 0 0,0 93.76,484.5" stroke-opacity="0.33"/>
<path d="M93.92,484.27A54,54 0 0,0 90.69,489.25" stroke-opacity="0.33"/>
<path d="M90.83,489.01A54,54 0 0,0 88.14,494.29" stroke-opacity="0.33"/>
<path d="M88.25,494.04A54,54 0 0,0 86.13,499.58" stroke-opacity="0.33"/>
<path d="M86.22,499.31A54,54 0 0,0 84.68,505.04" stroke-opacity="0.33"/>
<path d="M84.74,504.76A54,54 0 0,0 83.81,510.62" stroke-opacity="0.33"/>
<path d="M83.84,510.34A54,54 0 0,0 83.53,516.27" stroke-opacity="0.33"/>
<path d="M83.53,515.99A54,54 0 0,0 83.84,521.91" stroke-opacity="0.33"/>
<path d="M83.81,521.63A54,54 0 0,0 84.74,527.49" stroke-opacity="0.33"/>
<path d="M84.68,527.22A54,54 0 0,0 86.22,532.95" stroke-opacity="0.33"/>
<path d="M86.13,532.68A54,54 0 0,0 88.25,538.22" stroke-opacity="0.32"/>
<path d="M88.14,537.96A54,54 0 0,0 90.83,543.25" stroke-opacity="0.29"/>
<path d="M90.69,543.01A54,54 0 0,0 93.92,547.98" stroke-opacity="0.21"/>
<path d="M93.76,547.75A54,54 0 0,0 97.49,552.37" stroke-opacity="0.1"/>
<path d="M97.3,552.16A54,54 0 0,0 101.5,556.35" stroke-opacity="0.05"/>
<path d="M101.29,556.16A54,54 0 0,0 105.9,559.9" stroke-opacity="0.1"/>
<path d="M105.67,559.73A54,54 0 0,0 110.65,562.96" stroke-opacity="0.21"/>
<path d="M110.41,562.82A54,54 0 0,0 115.69,565.52" stroke-opacity="0.29"/>
<path d="M115.44,565.4A54,54 0 0,0 120.98,567.53" stroke-opacity="0.32"/>
<path d="M120.71,567.44A54,54 0 0,0 126.44,568.98" stroke-opacity="0.33"/>
<path d="M126.16,568.92A54,54 0 0,0 132.02,569.85" stroke-opacity="0.33"/>
<path d="M131.74,569.82A54,54 0 0,0 137.67,570.13" stroke-opacity="0.33"/>
<path d="M137.39,570.13A54,54 0 0,0 143.31,569.82" stroke-opacity="0.33"/>
<path d="M143.03,569.85A54,54 0 0,0 148.89,568.92" stroke-opacity="0.33"/>
<path d="M148.62,568.98A54,54 0 0,0 154.35,567.44" stroke-opacity="0.33"/>
<path d="M154.08,567.53A54,54 0 0,0 159.62,565.4" stroke-opacity="0.33"/>
<path d="M159.36,565.52A54,54 0 0,0 164.65,562.82" stroke-opacity="0.33"/>
<path d="M164.41,562.96A54,54 0 0,0 169.38,559.73" stroke-opacity="0.33"/>
<path d="M169.15,559.9A54,54 0 0,0 173.77,556.16" stroke-opacity="0.33"/>
<path d="M173.56,556.35A54,54 0 0,0 177.75,552.16" stroke-opacity="0.33"/>
<path d="M177.56,552.37A54,54 0 0,0 181.3,547.75" stroke-opacity="0.33"/>
<path d="M181.13,547.98A54,54 0 0,0 184.36,543.01" stroke-opacity="0.33"/>
<path d="M184.22,543.25A54,54 0 0,0 186.92,537.96" stroke-opacity="0.33"/>
<path d="M186.8,538.22A54,54 0 0,0 188.93,532.68" stroke-opacity="0.33"/>
<path d="M188.84,532.95A54,54 0 0,0 190.38,527.22" stroke-opacity="0.33"/>
<path d="M190.32,527.49A54,54 0 0,0 191.25,521.63" stroke-opacity="0.33"/>
<path d="M191.22,521.91A54,54 0 0,0 191.53,515.99" stroke-opacity="0.33"/>
</g>
<g fill="none" stroke="#fff" stroke-width="2.6">
<path d="M181.73,516.24A44.2,44.2 0 0,0 181.04,508.34" stroke-opacity="0.22"/>
<path d="M181.08,508.57A44.2,44.2 0 0,0 179.02,500.9" stroke-opacity="0.2"/>
<path d="M179.1,501.12A44.2,44.2 0 0,0 175.75,493.93" stroke-opacity="0.19"/>
<path d="M175.86,494.13A44.2,44.2 0 0,0 171.31,487.63" stroke-opacity="0.17"/>
<path d="M171.46,487.81A44.2,44.2 0 0,0 165.85,482.19" stroke-opacity="0.14"/>
<path d="M166.03,482.34A44.2,44.2 0 0,0 159.53,477.79" stroke-opacity="0.12"/>
<path d="M159.73,477.91A44.2,44.2 0 0,0 152.54,474.55" stroke-opacity="0.1"/>
<path d="M152.75,474.63A44.2,44.2 0 0,0 145.09,472.58" stroke-opacity="0.09"/>
<path d="M145.32,472.62A44.2,44.2 0 0,0 137.41,471.93" stroke-opacity="0.07"/>
<path d="M137.64,471.93A44.2,44.2 0 0,0 129.74,472.62" stroke-opacity="0.05"/>
<path d="M129.97,472.58A44.2,44.2 0 0,0 122.3,474.63" stroke-opacity="0.04"/>
<path d="M122.52,474.55A44.2,44.2 0 0,0 115.33,477.91" stroke-opacity="0.03"/>
<path d="M115.53,477.79A44.2,44.2 0 0,0 109.03,482.34" stroke-opacity="0.03"/>
<path d="M109.21,482.19A44.2,44.2 0 0,0 103.59,487.81" stroke-opacity="0.03"/>
<path d="M103.74,487.63A44.2,44.2 0 0,0 99.19,494.13" stroke-opacity="0.03"/>
<path d="M99.31,493.93A44.2,44.2 0 0,0 95.95,501.12" stroke-opacity="0.03"/>
<path d="M96.03,500.9A44.2,44.2 0 0,0 93.98,508.57" stroke-opacity="0.04"/>
<path d="M94.02,508.34A44.2,44.2 0 0,0 93.33,516.24" stroke-opacity="0.05"/>
<path d="M93.33,516.01A44.2,44.2 0 0,0 94.02,523.92" stroke-opacity="0.07"/>
<path d="M93.98,523.69A44.2,44.2 0 0,0 96.03,531.35" stroke-opacity="0.09"/>
<path d="M95.95,531.14A44.2,44.2 0 0,0 99.31,538.33" stroke-opacity="0.1"/>
<path d="M99.19,538.13A44.2,44.2 0 0,0 103.74,544.63" stroke-opacity="0.12"/>
<path d="M103.59,544.45A44.2,44.2 0 0,0 109.21,550.06" stroke-opacity="0.14"/>
<path d="M109.03,549.91A44.2,44.2 0 0,0 115.53,554.46" stroke-opacity="0.17"/>
<path d="M115.33,554.35A44.2,44.2 0 0,0 122.52,557.7" stroke-opacity="0.19"/>
<path d="M122.3,557.62A44.2,44.2 0 0,0 129.97,559.68" stroke-opacity="0.2"/>
<path d="M129.74,559.64A44.2,44.2 0 0,0 137.64,560.33" stroke-opacity="0.22"/>
<path d="M137.41,560.33A44.2,44.2 0 0,0 145.32,559.64" stroke-opacity="0.24"/>
<path d="M145.09,559.68A44.2,44.2 0 0,0 152.75,557.62" stroke-opacity="0.25"/>
<path d="M152.54,557.7A44.2,44.2 0 0,0 159.73,554.35" stroke-opacity="0.26"/>
<path d="M159.53,554.46A44.2,44.2 0 0,0 166.03,549.91" stroke-opacity="0.26"/>
<path d="M165.85,550.06A44.2,44.2 0 0,0 171.46,544.45" stroke-opacity="0.26"/>
<path d="M171.31,544.63A44.2,44.2 0 0,0 175.86,538.13" stroke-opacity="0.26"/>
<path d="M175.75,538.33A44.2,44.2 0 0,0 179.1,531.14" stroke-opacity="0.26"/>
<path d="M179.02,531.35A44.2,44.2 0 0,0 181.08,523.69" stroke-opacity="0.25"/>
<path d="M181.04,523.92A44.2,44.2 0 0,0 181.73,516.01" stroke-opacity="0.24"/>
</g>
<g fill="none" stroke="#fff" stroke-width="2.6">
<path d="M182.67,538.96A54.4,54.4 0 0,0 183.86,536.59" stroke-opacity="0.03"/>
<path d="M183.74,536.85A54.4,54.4 0 0,0 184.83,534.42" stroke-opacity="0.09"/>
<path d="M184.72,534.69A54.4,54.4 0 0,0 185.7,532.22" stroke-opacity="0.22"/>
<path d="M185.6,532.48A54.4,54.4 0 0,0 186.48,529.98" stroke-opacity="0.33"/>
<path d="M186.39,530.25A54.4,54.4 0 0,0 187.16,527.7" stroke-opacity="0.33"/>
<path d="M187.08,527.97A54.4,54.4 0 0,0 187.74,525.4" stroke-opacity="0.22"/>
<path d="M187.67,525.68A54.4,54.4 0 0,0 188.21,523.07" stroke-opacity="0.09"/>
<path d="M188.16,523.35A54.4,54.4 0 0,0 188.59,520.73" stroke-opacity="0.03"/>
</g>
<g fill="none" stroke="#fff" stroke-width="2.6">
<path d="M188.59,505.87A54.4,54.4 0 0,0 188.16,503.25" stroke-opacity="0.03"/>
<path d="M188.21,503.53A54.4,54.4 0 0,0 187.67,500.92" stroke-opacity="0.09"/>
<path d="M187.74,501.2A54.4,54.4 0 0,0 187.08,498.63" stroke-opacity="0.22"/>
<path d="M187.16,498.9A54.4,54.4 0 0,0 186.39,496.35" stroke-opacity="0.33"/>
<path d="M186.48,496.62A54.4,54.4 0 0,0 185.6,494.12" stroke-opacity="0.33"/>
<path d="M185.7,494.38A54.4,54.4 0 0,0 184.72,491.91" stroke-opacity="0.22"/>
<path d="M184.83,492.18A54.4,54.4 0 0,0 183.74,489.75" stroke-opacity="0.09"/>
<path d="M183.86,490.01A54.4,54.4 0 0,0 182.67,487.64" stroke-opacity="0.03"/>
</g>
<g fill="none" stroke="#fff" stroke-width="2.6">
<path d="M160.36,465.33A54.4,54.4 0 0,0 157.99,464.14" stroke-opacity="0.03"/>
<path d="M158.25,464.26A54.4,54.4 0 0,0 155.82,463.17" stroke-opacity="0.09"/>
<path d="M156.09,463.28A54.4,54.4 0 0,0 153.62,462.3" stroke-opacity="0.22"/>
<path d="M153.88,462.4A54.4,54.4 0 0,0 151.38,461.52" stroke-opacity="0.33"/>
<path d="M151.65,461.61A54.4,54.4 0 0,0 149.1,460.84" stroke-opacity="0.33"/>
<path d="M149.37,460.92A54.4,54.4 0 0,0 146.8,460.26" stroke-opacity="0.22"/>
<path d="M147.08,460.33A54.4,54.4 0 0,0 144.47,459.79" stroke-opacity="0.09"/>
<path d="M144.75,459.84A54.4,54.4 0 0,0 142.13,459.41" stroke-opacity="0.03"/>
</g>
<g fill="none" stroke="#fff" stroke-width="2.6">
<path d="M127.27,459.41A54.4,54.4 0 0,0 124.65,459.84" stroke-opacity="0.03"/>
<path d="M124.93,459.79A54.4,54.4 0 0,0 122.32,460.33" stroke-opacity="0.09"/>
<path d="M122.6,460.26A54.4,54.4 0 0,0 120.03,460.92" stroke-opacity="0.22"/>
<path d="M120.3,460.84A54.4,54.4 0 0,0 117.75,461.61" stroke-opacity="0.33"/>
<path d="M118.02,461.52A54.4,54.4 0 0,0 115.52,462.4" stroke-opacity="0.33"/>
<path d="M115.78,462.3A54.4,54.4 0 0,0 113.31,463.28" stroke-opacity="0.22"/>
<path d="M113.58,463.17A54.4,54.4 0 0,0 111.15,464.26" stroke-opacity="0.09"/>
<path d="M111.41,464.14A54.4,54.4 0 0,0 109.04,465.33" stroke-opacity="0.03"/>
</g>
<g fill="none" stroke="#fff" stroke-width="2.6">
<path d="M86.73,487.64A54.4,54.4 0 0,0 85.54,490.01" stroke-opacity="0.03"/>
<path d="M85.66,489.75A54.4,54.4 0 0,0 84.57,492.18" stroke-opacity="0.09"/>
<path d="M84.68,491.91A54.4,54.4 0 0,0 83.7,494.38" stroke-opacity="0.22"/>
<path d="M83.8,494.12A54.4,54.4 0 0,0 82.92,496.62" stroke-opacity="0.33"/>
<path d="M83.01,496.35A54.4,54.4 0 0,0 82.24,498.9" stroke-opacity="0.33"/>
<path d="M82.32,498.63A54.4,54.4 0 0,0 81.66,501.2" stroke-opacity="0.22"/>
<path d="M81.73,500.92A54.4,54.4 0 0,0 81.19,503.53" stroke-opacity="0.09"/>
<path d="M81.24,503.25A54.4,54.4 0 0,0 80.81,505.87" stroke-opacity="0.03"/>
</g>
<g fill="none" stroke="#fff" stroke-width="2.6">
<path d="M80.81,520.73A54.4,54.4 0 0,0 81.24,523.35" stroke-opacity="0.03"/>
<path d="M81.19,523.07A54.4,54.4 0 0,0 81.73,525.68" stroke-opacity="0.09"/>
<path d="M81.66,525.4A54.4,54.4 0 0,0 82.32,527.97" stroke-opacity="0.22"/>
<path d="M82.24,527.7A54.4,54.4 0 0,0 83.01,530.25" stroke-opacity="0.33"/>
<path d="M82.92,529.98A54.4,54.4 0 0,0 83.8,532.48" stroke-opacity="0.33"/>
<path d="M83.7,532.22A54.4,54.4 0 0,0 84.68,534.69" stroke-opacity="0.22"/>
<path d="M84.57,534.42A54.4,54.4 0 0,0 85.66,536.85" stroke-opacity="0.09"/>
<path d="M85.54,536.59A54.4,54.4 0 0,0 86.73,538.96" stroke-opacity="0.03"/>
</g>
<g fill="none" stroke="#fff" stroke-width="2.6">
<path d="M109.04,561.27A54.4,54.4 0 0,0 111.41,562.46" stroke-opacity="0.03"/>
<path d="M111.15,562.34A54.4,54.4 0 0,0 113.58,563.43" stroke-opacity="0.09"/>
<path d="M113.31,563.32A54.4,54.4 0 0,0 115.78,564.3" stroke-opacity="0.22"/>
<path d="M115.52,564.2A54.4,54.4 0 0,0 118.02,565.08" stroke-opacity="0.33"/>
<path d="M117.75,564.99A54.4,54.4 0 0,0 120.3,565.76" stroke-opacity="0.33"/>
<path d="M120.03,565.68A54.4,54.4 0 0,0 122.6,566.34" stroke-opacity="0.22"/>
<path d="M122.32,566.27A54.4,54.4 0 0,0 124.93,566.81" stroke-opacity="0.09"/>
<path d="M124.65,566.76A54.4,54.4 0 0,0 127.27,567.19" stroke-opacity="0.03"/>
</g>
<g fill="none" stroke="#fff" stroke-width="2.6">
<path d="M142.13,567.19A54.4,54.4 0 0,0 144.75,566.76" stroke-opacity="0.03"/>
<path d="M144.47,566.81A54.4,54.4 0 0,0 147.08,566.27" stroke-opacity="0.09"/>
<path d="M146.8,566.34A54.4,54.4 0 0,0 149.37,565.68" stroke-opacity="0.22"/>
<path d="M149.1,565.76A54.4,54.4 0 0,0 151.65,564.99" stroke-opacity="0.33"/>
<path d="M151.38,565.08A54.4,54.4 0 0,0 153.88,564.2" stroke-opacity="0.33"/>
<path d="M153.62,564.3A54.4,54.4 0 0,0 156.09,563.32" stroke-opacity="0.22"/>
<path d="M155.82,563.43A54.4,54.4 0 0,0 158.25,562.34" stroke-opacity="0.09"/>
<path d="M157.99,562.46A54.4,54.4 0 0,0 160.36,561.27" stroke-opacity="0.03"/>
</g>
</g></g>
<g clip-path="url(#clipd)"><g filter="url(#md)">
<rect x="313.35" y="389.95" width="246.6" height="246.6" fill="#000"/>
<circle cx="436.65" cy="513.25" r="66" fill="none" stroke="#fff" stroke-width="40" stroke-opacity="0.045"/>
<g fill="none" stroke="#fff" stroke-width="3.4">
<path d="M518.55,510.61A78.55,78.55 0 0,0 518.1,501.98" stroke-opacity="0.45"/>
<path d="M518.14,502.39A78.55,78.55 0 0,0 516.79,493.87" stroke-opacity="0.45"/>
<path d="M516.88,494.27A78.55,78.55 0 0,0 514.64,485.93" stroke-opacity="0.46"/>
<path d="M514.77,486.32A78.55,78.55 0 0,0 511.68,478.26" stroke-opacity="0.47"/>
<path d="M511.84,478.64A78.55,78.55 0 0,0 507.92,470.95" stroke-opacity="0.48"/>
<path d="M508.13,471.3A78.55,78.55 0 0,0 503.43,464.06" stroke-opacity="0.49"/>
<path d="M503.67,464.4A78.55,78.55 0 0,0 498.24,457.69" stroke-opacity="0.51"/>
<path d="M498.51,457.99A78.55,78.55 0 0,0 492.41,451.89" stroke-opacity="0.52"/>
<path d="M492.71,452.16A78.55,78.55 0 0,0 486,446.73" stroke-opacity="0.54"/>
<path d="M486.34,446.97A78.55,78.55 0 0,0 479.1,442.27" stroke-opacity="0.55"/>
<path d="M479.45,442.48A78.55,78.55 0 0,0 471.76,438.56" stroke-opacity="0.57"/>
<path d="M472.14,438.72A78.55,78.55 0 0,0 464.08,435.63" stroke-opacity="0.58"/>
<path d="M464.47,435.76A78.55,78.55 0 0,0 456.13,433.52" stroke-opacity="0.59"/>
<path d="M456.53,433.61A78.55,78.55 0 0,0 448.01,432.26" stroke-opacity="0.59"/>
<path d="M448.42,432.3A78.55,78.55 0 0,0 439.79,431.85" stroke-opacity="0.6"/>
<path d="M440.21,431.85A78.55,78.55 0 0,0 431.58,432.3" stroke-opacity="0.6"/>
<path d="M431.99,432.26A78.55,78.55 0 0,0 423.47,433.61" stroke-opacity="0.6"/>
<path d="M423.87,433.52A78.55,78.55 0 0,0 415.53,435.76" stroke-opacity="0.59"/>
<path d="M415.92,435.63A78.55,78.55 0 0,0 407.86,438.72" stroke-opacity="0.59"/>
<path d="M408.24,438.56A78.55,78.55 0 0,0 400.55,442.48" stroke-opacity="0.59"/>
<path d="M400.9,442.27A78.55,78.55 0 0,0 393.66,446.97" stroke-opacity="0.58"/>
<path d="M394,446.73A78.55,78.55 0 0,0 387.29,452.16" stroke-opacity="0.58"/>
<path d="M387.59,451.89A78.55,78.55 0 0,0 381.49,457.99" stroke-opacity="0.57"/>
<path d="M381.76,457.69A78.55,78.55 0 0,0 376.33,464.4" stroke-opacity="0.57"/>
<path d="M376.57,464.06A78.55,78.55 0 0,0 371.87,471.3" stroke-opacity="0.56"/>
<path d="M372.08,470.95A78.55,78.55 0 0,0 368.16,478.64" stroke-opacity="0.56"/>
<path d="M368.32,478.26A78.55,78.55 0 0,0 365.23,486.32" stroke-opacity="0.55"/>
<path d="M365.36,485.93A78.55,78.55 0 0,0 363.12,494.27" stroke-opacity="0.55"/>
<path d="M363.21,493.87A78.55,78.55 0 0,0 361.86,502.39" stroke-opacity="0.55"/>
<path d="M361.9,501.98A78.55,78.55 0 0,0 361.45,510.61" stroke-opacity="0.54"/>
<path d="M361.45,510.19A78.55,78.55 0 0,0 361.9,518.82" stroke-opacity="0.54"/>
<path d="M361.86,518.41A78.55,78.55 0 0,0 363.21,526.93" stroke-opacity="0.54"/>
<path d="M363.12,526.53A78.55,78.55 0 0,0 365.36,534.87" stroke-opacity="0.54"/>
<path d="M365.23,534.48A78.55,78.55 0 0,0 368.32,542.54" stroke-opacity="0.53"/>
<path d="M368.16,542.16A78.55,78.55 0 0,0 372.08,549.85" stroke-opacity="0.52"/>
<path d="M371.87,549.5A78.55,78.55 0 0,0 376.57,556.74" stroke-opacity="0.51"/>
<path d="M376.33,556.4A78.55,78.55 0 0,0 381.76,563.11" stroke-opacity="0.5"/>
<path d="M381.49,562.81A78.55,78.55 0 0,0 387.59,568.91" stroke-opacity="0.49"/>
<path d="M387.29,568.64A78.55,78.55 0 0,0 394,574.07" stroke-opacity="0.48"/>
<path d="M393.66,573.83A78.55,78.55 0 0,0 400.9,578.53" stroke-opacity="0.47"/>
<path d="M400.55,578.32A78.55,78.55 0 0,0 408.24,582.24" stroke-opacity="0.46"/>
<path d="M407.86,582.08A78.55,78.55 0 0,0 415.92,585.17" stroke-opacity="0.45"/>
<path d="M415.53,585.04A78.55,78.55 0 0,0 423.87,587.28" stroke-opacity="0.44"/>
<path d="M423.47,587.19A78.55,78.55 0 0,0 431.99,588.54" stroke-opacity="0.44"/>
<path d="M431.58,588.5A78.55,78.55 0 0,0 440.21,588.95" stroke-opacity="0.44"/>
<path d="M439.79,588.95A78.55,78.55 0 0,0 448.42,588.5" stroke-opacity="0.44"/>
<path d="M448.01,588.54A78.55,78.55 0 0,0 456.53,587.19" stroke-opacity="0.44"/>
<path d="M456.13,587.28A78.55,78.55 0 0,0 464.47,585.04" stroke-opacity="0.44"/>
<path d="M464.08,585.17A78.55,78.55 0 0,0 472.14,582.08" stroke-opacity="0.44"/>
<path d="M471.76,582.24A78.55,78.55 0 0,0 479.45,578.32" stroke-opacity="0.44"/>
<path d="M479.1,578.53A78.55,78.55 0 0,0 486.34,573.83" stroke-opacity="0.44"/>
<path d="M486,574.07A78.55,78.55 0 0,0 492.71,568.64" stroke-opacity="0.44"/>
<path d="M492.41,568.91A78.55,78.55 0 0,0 498.51,562.81" stroke-opacity="0.44"/>
<path d="M498.24,563.11A78.55,78.55 0 0,0 503.67,556.4" stroke-opacity="0.44"/>
<path d="M503.43,556.74A78.55,78.55 0 0,0 508.13,549.5" stroke-opacity="0.44"/>
<path d="M507.92,549.85A78.55,78.55 0 0,0 511.84,542.16" stroke-opacity="0.44"/>
<path d="M511.68,542.54A78.55,78.55 0 0,0 514.77,534.48" stroke-opacity="0.44"/>
<path d="M514.64,534.87A78.55,78.55 0 0,0 516.88,526.53" stroke-opacity="0.45"/>
<path d="M516.79,526.93A78.55,78.55 0 0,0 518.14,518.41" stroke-opacity="0.45"/>
<path d="M518.1,518.82A78.55,78.55 0 0,0 518.55,510.19" stroke-opacity="0.45"/>
</g>
<g fill="none" stroke="#fff" stroke-width="3.4">
<path d="M518.55,516.31A78.55,78.55 0 0,0 518.1,507.68" stroke-opacity="0.45"/>
<path d="M518.14,508.09A78.55,78.55 0 0,0 516.79,499.57" stroke-opacity="0.45"/>
<path d="M516.88,499.97A78.55,78.55 0 0,0 514.64,491.63" stroke-opacity="0.45"/>
<path d="M514.77,492.02A78.55,78.55 0 0,0 511.68,483.96" stroke-opacity="0.44"/>
<path d="M511.84,484.34A78.55,78.55 0 0,0 507.92,476.65" stroke-opacity="0.44"/>
<path d="M508.13,477A78.55,78.55 0 0,0 503.43,469.76" stroke-opacity="0.44"/>
<path d="M503.67,470.1A78.55,78.55 0 0,0 498.24,463.39" stroke-opacity="0.44"/>
<path d="M498.51,463.69A78.55,78.55 0 0,0 492.41,457.59" stroke-opacity="0.44"/>
<path d="M492.71,457.86A78.55,78.55 0 0,0 486,452.43" stroke-opacity="0.44"/>
<path d="M486.34,452.67A78.55,78.55 0 0,0 479.1,447.97" stroke-opacity="0.44"/>
<path d="M479.45,448.18A78.55,78.55 0 0,0 471.76,444.26" stroke-opacity="0.44"/>
<path d="M472.14,444.42A78.55,78.55 0 0,0 464.08,441.33" stroke-opacity="0.44"/>
<path d="M464.47,441.46A78.55,78.55 0 0,0 456.13,439.22" stroke-opacity="0.44"/>
<path d="M456.53,439.31A78.55,78.55 0 0,0 448.01,437.96" stroke-opacity="0.44"/>
<path d="M448.42,438A78.55,78.55 0 0,0 439.79,437.55" stroke-opacity="0.44"/>
<path d="M440.21,437.55A78.55,78.55 0 0,0 431.58,438" stroke-opacity="0.44"/>
<path d="M431.99,437.96A78.55,78.55 0 0,0 423.47,439.31" stroke-opacity="0.44"/>
<path d="M423.87,439.22A78.55,78.55 0 0,0 415.53,441.46" stroke-opacity="0.44"/>
<path d="M415.92,441.33A78.55,78.55 0 0,0 407.86,444.42" stroke-opacity="0.45"/>
<path d="M408.24,444.26A78.55,78.55 0 0,0 400.55,448.18" stroke-opacity="0.46"/>
<path d="M400.9,447.97A78.55,78.55 0 0,0 393.66,452.67" stroke-opacity="0.47"/>
<path d="M394,452.43A78.55,78.55 0 0,0 387.29,457.86" stroke-opacity="0.48"/>
<path d="M387.59,457.59A78.55,78.55 0 0,0 381.49,463.69" stroke-opacity="0.49"/>
<path d="M381.76,463.39A78.55,78.55 0 0,0 376.33,470.1" stroke-opacity="0.5"/>
<path d="M376.57,469.76A78.55,78.55 0 0,0 371.87,477" stroke-opacity="0.51"/>
<path d="M372.08,476.65A78.55,78.55 0 0,0 368.16,484.34" stroke-opacity="0.52"/>
<path d="M368.32,483.96A78.55,78.55 0 0,0 365.23,492.02" stroke-opacity="0.53"/>
<path d="M365.36,491.63A78.55,78.55 0 0,0 363.12,499.97" stroke-opacity="0.54"/>
<path d="M363.21,499.57A78.55,78.55 0 0,0 361.86,508.09" stroke-opacity="0.54"/>
<path d="M361.9,507.68A78.55,78.55 0 0,0 361.45,516.31" stroke-opacity="0.54"/>
<path d="M361.45,515.89A78.55,78.55 0 0,0 361.9,524.52" stroke-opacity="0.54"/>
<path d="M361.86,524.11A78.55,78.55 0 0,0 363.21,532.63" stroke-opacity="0.55"/>
<path d="M363.12,532.23A78.55,78.55 0 0,0 365.36,540.57" stroke-opacity="0.55"/>
<path d="M365.23,540.18A78.55,78.55 0 0,0 368.32,548.24" stroke-opacity="0.55"/>
<path d="M368.16,547.86A78.55,78.55 0 0,0 372.08,555.55" stroke-opacity="0.56"/>
<path d="M371.87,555.2A78.55,78.55 0 0,0 376.57,562.44" stroke-opacity="0.56"/>
<path d="M376.33,562.1A78.55,78.55 0 0,0 381.76,568.81" stroke-opacity="0.57"/>
<path d="M381.49,568.51A78.55,78.55 0 0,0 387.59,574.61" stroke-opacity="0.57"/>
<path d="M387.29,574.34A78.55,78.55 0 0,0 394,579.77" stroke-opacity="0.58"/>
<path d="M393.66,579.53A78.55,78.55 0 0,0 400.9,584.23" stroke-opacity="0.58"/>
<path d="M400.55,584.02A78.55,78.55 0 0,0 408.24,587.94" stroke-opacity="0.59"/>
<path d="M407.86,587.78A78.55,78.55 0 0,0 415.92,590.87" stroke-opacity="0.59"/>
<path d="M415.53,590.74A78.55,78.55 0 0,0 423.87,592.98" stroke-opacity="0.59"/>
<path d="M423.47,592.89A78.55,78.55 0 0,0 431.99,594.24" stroke-opacity="0.6"/>
<path d="M431.58,594.2A78.55,78.55 0 0,0 440.21,594.65" stroke-opacity="0.6"/>
<path d="M439.79,594.65A78.55,78.55 0 0,0 448.42,594.2" stroke-opacity="0.6"/>
<path d="M448.01,594.24A78.55,78.55 0 0,0 456.53,592.89" stroke-opacity="0.59"/>
<path d="M456.13,592.98A78.55,78.55 0 0,0 464.47,590.74" stroke-opacity="0.59"/>
<path d="M464.08,590.87A78.55,78.55 0 0,0 472.14,587.78" stroke-opacity="0.58"/>
<path d="M471.76,587.94A78.55,78.55 0 0,0 479.45,584.02" stroke-opacity="0.57"/>
<path d="M479.1,584.23A78.55,78.55 0 0,0 486.34,579.53" stroke-opacity="0.55"/>
<path d="M486,579.77A78.55,78.55 0 0,0 492.71,574.34" stroke-opacity="0.54"/>
<path d="M492.41,574.61A78.55,78.55 0 0,0 498.51,568.51" stroke-opacity="0.52"/>
<path d="M498.24,568.81A78.55,78.55 0 0,0 503.67,562.1" stroke-opacity="0.51"/>
<path d="M503.43,562.44A78.55,78.55 0 0,0 508.13,555.2" stroke-opacity="0.49"/>
<path d="M507.92,555.55A78.55,78.55 0 0,0 511.84,547.86" stroke-opacity="0.48"/>
<path d="M511.68,548.24A78.55,78.55 0 0,0 514.77,540.18" stroke-opacity="0.47"/>
<path d="M514.64,540.57A78.55,78.55 0 0,0 516.88,532.23" stroke-opacity="0.46"/>
<path d="M516.79,532.63A78.55,78.55 0 0,0 518.14,524.11" stroke-opacity="0.45"/>
<path d="M518.1,524.52A78.55,78.55 0 0,0 518.55,515.89" stroke-opacity="0.45"/>
</g>
<g fill="none" stroke="#fff" stroke-width="3.4">
<path d="M491.3,510.55A58.1,58.1 0 0,0 490.97,504.18" stroke-opacity="0.45"/>
<path d="M491,504.48A58.1,58.1 0 0,0 490,498.17" stroke-opacity="0.44"/>
<path d="M490.06,498.47A58.1,58.1 0 0,0 488.41,492.3" stroke-opacity="0.44"/>
<path d="M488.5,492.59A58.1,58.1 0 0,0 486.21,486.63" stroke-opacity="0.44"/>
<path d="M486.34,486.91A58.1,58.1 0 0,0 483.44,481.22" stroke-opacity="0.43"/>
<path d="M483.59,481.48A58.1,58.1 0 0,0 480.11,476.13" stroke-opacity="0.43"/>
<path d="M480.29,476.37A58.1,58.1 0 0,0 476.27,471.41" stroke-opacity="0.42"/>
<path d="M476.48,471.64A58.1,58.1 0 0,0 471.96,467.12" stroke-opacity="0.41"/>
<path d="M472.19,467.33A58.1,58.1 0 0,0 467.23,463.31" stroke-opacity="0.41"/>
<path d="M467.47,463.49A58.1,58.1 0 0,0 462.12,460.01" stroke-opacity="0.4"/>
<path d="M462.38,460.16A58.1,58.1 0 0,0 456.69,457.26" stroke-opacity="0.39"/>
<path d="M456.97,457.39A58.1,58.1 0 0,0 451.01,455.1" stroke-opacity="0.39"/>
<path d="M451.3,455.19A58.1,58.1 0 0,0 445.13,453.54" stroke-opacity="0.39"/>
<path d="M445.43,453.6A58.1,58.1 0 0,0 439.12,452.6" stroke-opacity="0.38"/>
<path d="M439.42,452.63A58.1,58.1 0 0,0 433.05,452.3" stroke-opacity="0.38"/>
<path d="M433.35,452.3A58.1,58.1 0 0,0 426.98,452.63" stroke-opacity="0.38"/>
<path d="M427.28,452.6A58.1,58.1 0 0,0 420.97,453.6" stroke-opacity="0.39"/>
<path d="M421.27,453.54A58.1,58.1 0 0,0 415.1,455.19" stroke-opacity="0.41"/>
<path d="M415.39,455.1A58.1,58.1 0 0,0 409.43,457.39" stroke-opacity="0.44"/>
<path d="M409.71,457.26A58.1,58.1 0 0,0 404.02,460.16" stroke-opacity="0.47"/>
<path d="M404.28,460.01A58.1,58.1 0 0,0 398.93,463.49" stroke-opacity="0.51"/>
<path d="M399.17,463.31A58.1,58.1 0 0,0 394.21,467.33" stroke-opacity="0.55"/>
<path d="M394.44,467.12A58.1,58.1 0 0,0 389.92,471.64" stroke-opacity="0.59"/>
<path d="M390.13,471.41A58.1,58.1 0 0,0 386.11,476.37" stroke-opacity="0.64"/>
<path d="M386.29,476.13A58.1,58.1 0 0,0 382.81,481.48" stroke-opacity="0.68"/>
<path d="M382.96,481.22A58.1,58.1 0 0,0 380.06,486.91" stroke-opacity="0.72"/>
<path d="M380.19,486.63A58.1,58.1 0 0,0 377.9,492.59" stroke-opacity="0.75"/>
<path d="M377.99,492.3A58.1,58.1 0 0,0 376.34,498.47" stroke-opacity="0.78"/>
<path d="M376.4,498.17A58.1,58.1 0 0,0 375.4,504.48" stroke-opacity="0.79"/>
<path d="M375.43,504.18A58.1,58.1 0 0,0 375.1,510.55" stroke-opacity="0.8"/>
<path d="M375.1,510.25A58.1,58.1 0 0,0 375.43,516.62" stroke-opacity="0.8"/>
<path d="M375.4,516.32A58.1,58.1 0 0,0 376.4,522.63" stroke-opacity="0.8"/>
<path d="M376.34,522.33A58.1,58.1 0 0,0 377.99,528.5" stroke-opacity="0.79"/>
<path d="M377.9,528.21A58.1,58.1 0 0,0 380.19,534.17" stroke-opacity="0.78"/>
<path d="M380.06,533.89A58.1,58.1 0 0,0 382.96,539.58" stroke-opacity="0.76"/>
<path d="M382.81,539.32A58.1,58.1 0 0,0 386.29,544.67" stroke-opacity="0.74"/>
<path d="M386.11,544.43A58.1,58.1 0 0,0 390.13,549.39" stroke-opacity="0.72"/>
<path d="M389.92,549.16A58.1,58.1 0 0,0 394.44,553.68" stroke-opacity="0.7"/>
<path d="M394.21,553.47A58.1,58.1 0 0,0 399.17,557.49" stroke-opacity="0.68"/>
<path d="M398.93,557.31A58.1,58.1 0 0,0 404.28,560.79" stroke-opacity="0.66"/>
<path d="M404.02,560.64A58.1,58.1 0 0,0 409.71,563.54" stroke-opacity="0.64"/>
<path d="M409.43,563.41A58.1,58.1 0 0,0 415.39,565.7" stroke-opacity="0.62"/>
<path d="M415.1,565.61A58.1,58.1 0 0,0 421.27,567.26" stroke-opacity="0.61"/>
<path d="M420.97,567.2A58.1,58.1 0 0,0 427.28,568.2" stroke-opacity="0.6"/>
<path d="M426.98,568.17A58.1,58.1 0 0,0 433.35,568.5" stroke-opacity="0.6"/>
<path d="M433.05,568.5A58.1,58.1 0 0,0 439.42,568.17" stroke-opacity="0.6"/>
<path d="M439.12,568.2A58.1,58.1 0 0,0 445.43,567.2" stroke-opacity="0.59"/>
<path d="M445.13,567.26A58.1,58.1 0 0,0 451.3,565.61" stroke-opacity="0.59"/>
<path d="M451.01,565.7A58.1,58.1 0 0,0 456.97,563.41" stroke-opacity="0.58"/>
<path d="M456.69,563.54A58.1,58.1 0 0,0 462.38,560.64" stroke-opacity="0.57"/>
<path d="M462.12,560.79A58.1,58.1 0 0,0 467.47,557.31" stroke-opacity="0.55"/>
<path d="M467.23,557.49A58.1,58.1 0 0,0 472.19,553.47" stroke-opacity="0.54"/>
<path d="M471.96,553.68A58.1,58.1 0 0,0 476.48,549.16" stroke-opacity="0.52"/>
<path d="M476.27,549.39A58.1,58.1 0 0,0 480.29,544.43" stroke-opacity="0.51"/>
<path d="M480.11,544.67A58.1,58.1 0 0,0 483.59,539.32" stroke-opacity="0.49"/>
<path d="M483.44,539.58A58.1,58.1 0 0,0 486.34,533.89" stroke-opacity="0.48"/>
<path d="M486.21,534.17A58.1,58.1 0 0,0 488.5,528.21" stroke-opacity="0.47"/>
<path d="M488.41,528.5A58.1,58.1 0 0,0 490.06,522.33" stroke-opacity="0.46"/>
<path d="M490,522.63A58.1,58.1 0 0,0 491,516.32" stroke-opacity="0.45"/>
<path d="M490.97,516.62A58.1,58.1 0 0,0 491.3,510.25" stroke-opacity="0.45"/>
</g>
<g fill="none" stroke="#fff" stroke-width="3.4">
<path d="M491.3,516.25A58.1,58.1 0 0,0 490.97,509.88" stroke-opacity="0.45"/>
<path d="M491,510.18A58.1,58.1 0 0,0 490,503.87" stroke-opacity="0.45"/>
<path d="M490.06,504.17A58.1,58.1 0 0,0 488.41,498" stroke-opacity="0.46"/>
<path d="M488.5,498.29A58.1,58.1 0 0,0 486.21,492.33" stroke-opacity="0.47"/>
<path d="M486.34,492.61A58.1,58.1 0 0,0 483.44,486.92" stroke-opacity="0.48"/>
<path d="M483.59,487.18A58.1,58.1 0 0,0 480.11,481.83" stroke-opacity="0.49"/>
<path d="M480.29,482.07A58.1,58.1 0 0,0 476.27,477.11" stroke-opacity="0.51"/>
<path d="M476.48,477.34A58.1,58.1 0 0,0 471.96,472.82" stroke-opacity="0.52"/>
<path d="M472.19,473.03A58.1,58.1 0 0,0 467.23,469.01" stroke-opacity="0.54"/>
<path d="M467.47,469.19A58.1,58.1 0 0,0 462.12,465.71" stroke-opacity="0.55"/>
<path d="M462.38,465.86A58.1,58.1 0 0,0 456.69,462.96" stroke-opacity="0.57"/>
<path d="M456.97,463.09A58.1,58.1 0 0,0 451.01,460.8" stroke-opacity="0.58"/>
<path d="M451.3,460.89A58.1,58.1 0 0,0 445.13,459.24" stroke-opacity="0.59"/>
<path d="M445.43,459.3A58.1,58.1 0 0,0 439.12,458.3" stroke-opacity="0.59"/>
<path d="M439.42,458.33A58.1,58.1 0 0,0 433.05,458" stroke-opacity="0.6"/>
<path d="M433.35,458A58.1,58.1 0 0,0 426.98,458.33" stroke-opacity="0.6"/>
<path d="M427.28,458.3A58.1,58.1 0 0,0 420.97,459.3" stroke-opacity="0.6"/>
<path d="M421.27,459.24A58.1,58.1 0 0,0 415.1,460.89" stroke-opacity="0.61"/>
<path d="M415.39,460.8A58.1,58.1 0 0,0 409.43,463.09" stroke-opacity="0.62"/>
<path d="M409.71,462.96A58.1,58.1 0 0,0 404.02,465.86" stroke-opacity="0.64"/>
<path d="M404.28,465.71A58.1,58.1 0 0,0 398.93,469.19" stroke-opacity="0.66"/>
<path d="M399.17,469.01A58.1,58.1 0 0,0 394.21,473.03" stroke-opacity="0.68"/>
<path d="M394.44,472.82A58.1,58.1 0 0,0 389.92,477.34" stroke-opacity="0.7"/>
<path d="M390.13,477.11A58.1,58.1 0 0,0 386.11,482.07" stroke-opacity="0.72"/>
<path d="M386.29,481.83A58.1,58.1 0 0,0 382.81,487.18" stroke-opacity="0.74"/>
<path d="M382.96,486.92A58.1,58.1 0 0,0 380.06,492.61" stroke-opacity="0.76"/>
<path d="M380.19,492.33A58.1,58.1 0 0,0 377.9,498.29" stroke-opacity="0.78"/>
<path d="M377.99,498A58.1,58.1 0 0,0 376.34,504.17" stroke-opacity="0.79"/>
<path d="M376.4,503.87A58.1,58.1 0 0,0 375.4,510.18" stroke-opacity="0.8"/>
<path d="M375.43,509.88A58.1,58.1 0 0,0 375.1,516.25" stroke-opacity="0.8"/>
<path d="M375.1,515.95A58.1,58.1 0 0,0 375.43,522.32" stroke-opacity="0.8"/>
<path d="M375.4,522.02A58.1,58.1 0 0,0 376.4,528.33" stroke-opacity="0.79"/>
<path d="M376.34,528.03A58.1,58.1 0 0,0 377.99,534.2" stroke-opacity="0.78"/>
<path d="M377.9,533.91A58.1,58.1 0 0,0 380.19,539.87" stroke-opacity="0.75"/>
<path d="M380.06,539.59A58.1,58.1 0 0,0 382.96,545.28" stroke-opacity="0.72"/>
<path d="M382.81,545.02A58.1,58.1 0 0,0 386.29,550.37" stroke-opacity="0.68"/>
<path d="M386.11,550.13A58.1,58.1 0 0,0 390.13,555.09" stroke-opacity="0.64"/>
<path d="M389.92,554.86A58.1,58.1 0 0,0 394.44,559.38" stroke-opacity="0.59"/>
<path d="M394.21,559.17A58.1,58.1 0 0,0 399.17,563.19" stroke-opacity="0.55"/>
<path d="M398.93,563.01A58.1,58.1 0 0,0 404.28,566.49" stroke-opacity="0.51"/>
<path d="M404.02,566.34A58.1,58.1 0 0,0 409.71,569.24" stroke-opacity="0.47"/>
<path d="M409.43,569.11A58.1,58.1 0 0,0 415.39,571.4" stroke-opacity="0.44"/>
<path d="M415.1,571.31A58.1,58.1 0 0,0 421.27,572.96" stroke-opacity="0.41"/>
<path d="M420.97,572.9A58.1,58.1 0 0,0 427.28,573.9" stroke-opacity="0.39"/>
<path d="M426.98,573.87A58.1,58.1 0 0,0 433.35,574.2" stroke-opacity="0.38"/>
<path d="M433.05,574.2A58.1,58.1 0 0,0 439.42,573.87" stroke-opacity="0.38"/>
<path d="M439.12,573.9A58.1,58.1 0 0,0 445.43,572.9" stroke-opacity="0.38"/>
<path d="M445.13,572.96A58.1,58.1 0 0,0 451.3,571.31" stroke-opacity="0.39"/>
<path d="M451.01,571.4A58.1,58.1 0 0,0 456.97,569.11" stroke-opacity="0.39"/>
<path d="M456.69,569.24A58.1,58.1 0 0,0 462.38,566.34" stroke-opacity="0.39"/>
<path d="M462.12,566.49A58.1,58.1 0 0,0 467.47,563.01" stroke-opacity="0.4"/>
<path d="M467.23,563.19A58.1,58.1 0 0,0 472.19,559.17" stroke-opacity="0.41"/>
<path d="M471.96,559.38A58.1,58.1 0 0,0 476.48,554.86" stroke-opacity="0.41"/>
<path d="M476.27,555.09A58.1,58.1 0 0,0 480.29,550.13" stroke-opacity="0.42"/>
<path d="M480.11,550.37A58.1,58.1 0 0,0 483.59,545.02" stroke-opacity="0.43"/>
<path d="M483.44,545.28A58.1,58.1 0 0,0 486.34,539.59" stroke-opacity="0.43"/>
<path d="M486.21,539.87A58.1,58.1 0 0,0 488.5,533.91" stroke-opacity="0.44"/>
<path d="M488.41,534.2A58.1,58.1 0 0,0 490.06,528.03" stroke-opacity="0.44"/>
<path d="M490,528.33A58.1,58.1 0 0,0 491,522.02" stroke-opacity="0.44"/>
<path d="M490.97,522.32A58.1,58.1 0 0,0 491.3,515.95" stroke-opacity="0.45"/>
</g>
<g fill="none" stroke="#fff" stroke-width="3.4">
<path d="M477.65,513.37A44.7,44.7 0 0,0 477.39,508.46" stroke-opacity="0.46"/>
<path d="M477.42,508.69A44.7,44.7 0 0,0 476.65,503.84" stroke-opacity="0.45"/>
<path d="M476.7,504.07A44.7,44.7 0 0,0 475.43,499.33" stroke-opacity="0.43"/>
<path d="M475.5,499.55A44.7,44.7 0 0,0 473.74,494.96" stroke-opacity="0.4"/>
<path d="M473.83,495.18A44.7,44.7 0 0,0 471.6,490.8" stroke-opacity="0.37"/>
<path d="M471.72,491A44.7,44.7 0 0,0 469.04,486.88" stroke-opacity="0.33"/>
<path d="M469.18,487.07A44.7,44.7 0 0,0 466.09,483.25" stroke-opacity="0.29"/>
<path d="M466.25,483.43A44.7,44.7 0 0,0 462.77,479.95" stroke-opacity="0.24"/>
<path d="M462.95,480.11A44.7,44.7 0 0,0 459.13,477.02" stroke-opacity="0.2"/>
<path d="M459.32,477.16A44.7,44.7 0 0,0 455.2,474.48" stroke-opacity="0.16"/>
<path d="M455.4,474.6A44.7,44.7 0 0,0 451.02,472.37" stroke-opacity="0.12"/>
<path d="M451.24,472.46A44.7,44.7 0 0,0 446.65,470.7" stroke-opacity="0.09"/>
<path d="M446.87,470.77A44.7,44.7 0 0,0 442.13,469.5" stroke-opacity="0.06"/>
<path d="M442.36,469.55A44.7,44.7 0 0,0 437.51,468.78" stroke-opacity="0.04"/>
<path d="M437.74,468.81A44.7,44.7 0 0,0 432.83,468.55" stroke-opacity="0.03"/>
<path d="M433.07,468.55A44.7,44.7 0 0,0 428.16,468.81" stroke-opacity="0.03"/>
<path d="M428.39,468.78A44.7,44.7 0 0,0 423.54,469.55" stroke-opacity="0.04"/>
<path d="M423.77,469.5A44.7,44.7 0 0,0 419.03,470.77" stroke-opacity="0.05"/>
<path d="M419.25,470.7A44.7,44.7 0 0,0 414.66,472.46" stroke-opacity="0.07"/>
<path d="M414.88,472.37A44.7,44.7 0 0,0 410.5,474.6" stroke-opacity="0.09"/>
<path d="M410.7,474.48A44.7,44.7 0 0,0 406.58,477.16" stroke-opacity="0.12"/>
<path d="M406.77,477.02A44.7,44.7 0 0,0 402.95,480.11" stroke-opacity="0.15"/>
<path d="M403.13,479.95A44.7,44.7 0 0,0 399.65,483.43" stroke-opacity="0.18"/>
<path d="M399.81,483.25A44.7,44.7 0 0,0 396.72,487.07" stroke-opacity="0.21"/>
<path d="M396.86,486.88A44.7,44.7 0 0,0 394.18,491" stroke-opacity="0.24"/>
<path d="M394.3,490.8A44.7,44.7 0 0,0 392.07,495.18" stroke-opacity="0.27"/>
<path d="M392.16,494.96A44.7,44.7 0 0,0 390.4,499.55" stroke-opacity="0.29"/>
<path d="M390.47,499.33A44.7,44.7 0 0,0 389.2,504.07" stroke-opacity="0.31"/>
<path d="M389.25,503.84A44.7,44.7 0 0,0 388.48,508.69" stroke-opacity="0.32"/>
<path d="M388.51,508.46A44.7,44.7 0 0,0 388.25,513.37" stroke-opacity="0.33"/>
<path d="M388.25,513.13A44.7,44.7 0 0,0 388.51,518.04" stroke-opacity="0.33"/>
<path d="M388.48,517.81A44.7,44.7 0 0,0 389.25,522.66" stroke-opacity="0.32"/>
<path d="M389.2,522.43A44.7,44.7 0 0,0 390.47,527.17" stroke-opacity="0.31"/>
<path d="M390.4,526.95A44.7,44.7 0 0,0 392.16,531.54" stroke-opacity="0.29"/>
<path d="M392.07,531.32A44.7,44.7 0 0,0 394.3,535.7" stroke-opacity="0.27"/>
<path d="M394.18,535.5A44.7,44.7 0 0,0 396.86,539.62" stroke-opacity="0.24"/>
<path d="M396.72,539.43A44.7,44.7 0 0,0 399.81,543.25" stroke-opacity="0.21"/>
<path d="M399.65,543.07A44.7,44.7 0 0,0 403.13,546.55" stroke-opacity="0.18"/>
<path d="M402.95,546.39A44.7,44.7 0 0,0 406.77,549.48" stroke-opacity="0.15"/>
<path d="M406.58,549.34A44.7,44.7 0 0,0 410.7,552.02" stroke-opacity="0.12"/>
<path d="M410.5,551.9A44.7,44.7 0 0,0 414.88,554.13" stroke-opacity="0.09"/>
<path d="M414.66,554.04A44.7,44.7 0 0,0 419.25,555.8" stroke-opacity="0.07"/>
<path d="M419.03,555.73A44.7,44.7 0 0,0 423.77,557" stroke-opacity="0.05"/>
<path d="M423.54,556.95A44.7,44.7 0 0,0 428.39,557.72" stroke-opacity="0.04"/>
<path d="M428.16,557.69A44.7,44.7 0 0,0 433.07,557.95" stroke-opacity="0.03"/>
<path d="M432.83,557.95A44.7,44.7 0 0,0 437.74,557.69" stroke-opacity="0.03"/>
<path d="M437.51,557.72A44.7,44.7 0 0,0 442.36,556.95" stroke-opacity="0.04"/>
<path d="M442.13,557A44.7,44.7 0 0,0 446.87,555.73" stroke-opacity="0.06"/>
<path d="M446.65,555.8A44.7,44.7 0 0,0 451.24,554.04" stroke-opacity="0.09"/>
<path d="M451.02,554.13A44.7,44.7 0 0,0 455.4,551.9" stroke-opacity="0.12"/>
<path d="M455.2,552.02A44.7,44.7 0 0,0 459.32,549.34" stroke-opacity="0.16"/>
<path d="M459.13,549.48A44.7,44.7 0 0,0 462.95,546.39" stroke-opacity="0.2"/>
<path d="M462.77,546.55A44.7,44.7 0 0,0 466.25,543.07" stroke-opacity="0.24"/>
<path d="M466.09,543.25A44.7,44.7 0 0,0 469.18,539.43" stroke-opacity="0.29"/>
<path d="M469.04,539.62A44.7,44.7 0 0,0 471.72,535.5" stroke-opacity="0.33"/>
<path d="M471.6,535.7A44.7,44.7 0 0,0 473.83,531.32" stroke-opacity="0.37"/>
<path d="M473.74,531.54A44.7,44.7 0 0,0 475.5,526.95" stroke-opacity="0.4"/>
<path d="M475.43,527.17A44.7,44.7 0 0,0 476.7,522.43" stroke-opacity="0.43"/>
<path d="M476.65,522.66A44.7,44.7 0 0,0 477.42,517.81" stroke-opacity="0.45"/>
<path d="M477.39,518.04A44.7,44.7 0 0,0 477.65,513.13" stroke-opacity="0.46"/>
</g>
<g fill="none" stroke="#fff" stroke-width="3.4">
<path d="M480.65,506.77A44.5,44.5 0 0,0 480.39,501.88" stroke-opacity="0.18"/>
<path d="M480.42,502.11A44.5,44.5 0 0,0 479.65,497.28" stroke-opacity="0.18"/>
<path d="M479.7,497.51A44.5,44.5 0 0,0 478.44,492.79" stroke-opacity="0.17"/>
<path d="M478.51,493.01A44.5,44.5 0 0,0 476.76,488.44" stroke-opacity="0.16"/>
<path d="M476.85,488.66A44.5,44.5 0 0,0 474.63,484.3" stroke-opacity="0.15"/>
<path d="M474.75,484.5A44.5,44.5 0 0,0 472.08,480.4" stroke-opacity="0.13"/>
<path d="M472.22,480.59A44.5,44.5 0 0,0 469.14,476.79" stroke-opacity="0.11"/>
<path d="M469.3,476.96A44.5,44.5 0 0,0 465.84,473.5" stroke-opacity="0.09"/>
<path d="M466.01,473.66A44.5,44.5 0 0,0 462.21,470.58" stroke-opacity="0.07"/>
<path d="M462.4,470.72A44.5,44.5 0 0,0 458.3,468.05" stroke-opacity="0.05"/>
<path d="M458.5,468.17A44.5,44.5 0 0,0 454.14,465.95" stroke-opacity="0.04"/>
<path d="M454.36,466.04A44.5,44.5 0 0,0 449.79,464.29" stroke-opacity="0.02"/>
<path d="M422.51,464.29A44.5,44.5 0 0,0 417.94,466.04" stroke-opacity="0.02"/>
<path d="M418.16,465.95A44.5,44.5 0 0,0 413.8,468.17" stroke-opacity="0.03"/>
<path d="M414,468.05A44.5,44.5 0 0,0 409.9,470.72" stroke-opacity="0.04"/>
<path d="M410.09,470.58A44.5,44.5 0 0,0 406.29,473.66" stroke-opacity="0.06"/>
<path d="M406.46,473.5A44.5,44.5 0 0,0 403,476.96" stroke-opacity="0.07"/>
<path d="M403.16,476.79A44.5,44.5 0 0,0 400.08,480.59" stroke-opacity="0.09"/>
<path d="M400.22,480.4A44.5,44.5 0 0,0 397.55,484.5" stroke-opacity="0.1"/>
<path d="M397.67,484.3A44.5,44.5 0 0,0 395.45,488.66" stroke-opacity="0.11"/>
<path d="M395.54,488.44A44.5,44.5 0 0,0 393.79,493.01" stroke-opacity="0.12"/>
<path d="M393.86,492.79A44.5,44.5 0 0,0 392.6,497.51" stroke-opacity="0.13"/>
<path d="M392.65,497.28A44.5,44.5 0 0,0 391.88,502.11" stroke-opacity="0.14"/>
<path d="M391.91,501.88A44.5,44.5 0 0,0 391.65,506.77" stroke-opacity="0.14"/>
<path d="M391.65,506.53A44.5,44.5 0 0,0 391.91,511.42" stroke-opacity="0.14"/>
<path d="M391.88,511.19A44.5,44.5 0 0,0 392.65,516.02" stroke-opacity="0.14"/>
<path d="M392.6,515.79A44.5,44.5 0 0,0 393.86,520.51" stroke-opacity="0.14"/>
<path d="M393.79,520.29A44.5,44.5 0 0,0 395.54,524.86" stroke-opacity="0.13"/>
<path d="M395.45,524.64A44.5,44.5 0 0,0 397.67,529" stroke-opacity="0.12"/>
<path d="M397.55,528.8A44.5,44.5 0 0,0 400.22,532.9" stroke-opacity="0.12"/>
<path d="M400.08,532.71A44.5,44.5 0 0,0 403.16,536.51" stroke-opacity="0.11"/>
<path d="M403,536.34A44.5,44.5 0 0,0 406.46,539.8" stroke-opacity="0.1"/>
<path d="M406.29,539.64A44.5,44.5 0 0,0 410.09,542.72" stroke-opacity="0.09"/>
<path d="M409.9,542.58A44.5,44.5 0 0,0 414,545.25" stroke-opacity="0.08"/>
<path d="M413.8,545.13A44.5,44.5 0 0,0 418.16,547.35" stroke-opacity="0.07"/>
<path d="M417.94,547.26A44.5,44.5 0 0,0 422.51,549.01" stroke-opacity="0.07"/>
<path d="M422.29,548.94A44.5,44.5 0 0,0 427.01,550.2" stroke-opacity="0.06"/>
<path d="M426.78,550.15A44.5,44.5 0 0,0 431.61,550.92" stroke-opacity="0.06"/>
<path d="M431.38,550.89A44.5,44.5 0 0,0 436.27,551.15" stroke-opacity="0.05"/>
<path d="M436.03,551.15A44.5,44.5 0 0,0 440.92,550.89" stroke-opacity="0.05"/>
<path d="M440.69,550.92A44.5,44.5 0 0,0 445.52,550.15" stroke-opacity="0.06"/>
<path d="M445.29,550.2A44.5,44.5 0 0,0 450.01,548.94" stroke-opacity="0.06"/>
<path d="M449.79,549.01A44.5,44.5 0 0,0 454.36,547.26" stroke-opacity="0.07"/>
<path d="M454.14,547.35A44.5,44.5 0 0,0 458.5,545.13" stroke-opacity="0.08"/>
<path d="M458.3,545.25A44.5,44.5 0 0,0 462.4,542.58" stroke-opacity="0.09"/>
<path d="M462.21,542.72A44.5,44.5 0 0,0 466.01,539.64" stroke-opacity="0.11"/>
<path d="M465.84,539.8A44.5,44.5 0 0,0 469.3,536.34" stroke-opacity="0.12"/>
<path d="M469.14,536.51A44.5,44.5 0 0,0 472.22,532.71" stroke-opacity="0.13"/>
<path d="M472.08,532.9A44.5,44.5 0 0,0 474.75,528.8" stroke-opacity="0.15"/>
<path d="M474.63,529A44.5,44.5 0 0,0 476.85,524.64" stroke-opacity="0.16"/>
<path d="M476.76,524.86A44.5,44.5 0 0,0 478.51,520.29" stroke-opacity="0.17"/>
<path d="M478.44,520.51A44.5,44.5 0 0,0 479.7,515.79" stroke-opacity="0.18"/>
<path d="M479.65,516.02A44.5,44.5 0 0,0 480.42,511.19" stroke-opacity="0.18"/>
<path d="M480.39,511.42A44.5,44.5 0 0,0 480.65,506.53" stroke-opacity="0.18"/>
</g>
<g fill="none" stroke="#fff" stroke-width="3.4">
<path d="M480.65,519.97A44.5,44.5 0 0,0 480.39,515.08" stroke-opacity="0.18"/>
<path d="M480.42,515.31A44.5,44.5 0 0,0 479.65,510.48" stroke-opacity="0.18"/>
<path d="M479.7,510.71A44.5,44.5 0 0,0 478.44,505.99" stroke-opacity="0.18"/>
<path d="M478.51,506.21A44.5,44.5 0 0,0 476.76,501.64" stroke-opacity="0.17"/>
<path d="M476.85,501.86A44.5,44.5 0 0,0 474.63,497.5" stroke-opacity="0.16"/>
<path d="M474.75,497.7A44.5,44.5 0 0,0 472.08,493.6" stroke-opacity="0.15"/>
<path d="M472.22,493.79A44.5,44.5 0 0,0 469.14,489.99" stroke-opacity="0.13"/>
<path d="M469.3,490.16A44.5,44.5 0 0,0 465.84,486.7" stroke-opacity="0.12"/>
<path d="M466.01,486.86A44.5,44.5 0 0,0 462.21,483.78" stroke-opacity="0.11"/>
<path d="M462.4,483.92A44.5,44.5 0 0,0 458.3,481.25" stroke-opacity="0.09"/>
<path d="M458.5,481.37A44.5,44.5 0 0,0 454.14,479.15" stroke-opacity="0.08"/>
<path d="M454.36,479.24A44.5,44.5 0 0,0 449.79,477.49" stroke-opacity="0.07"/>
<path d="M450.01,477.56A44.5,44.5 0 0,0 445.29,476.3" stroke-opacity="0.06"/>
<path d="M445.52,476.35A44.5,44.5 0 0,0 440.69,475.58" stroke-opacity="0.06"/>
<path d="M440.92,475.61A44.5,44.5 0 0,0 436.03,475.35" stroke-opacity="0.05"/>
<path d="M436.27,475.35A44.5,44.5 0 0,0 431.38,475.61" stroke-opacity="0.05"/>
<path d="M431.61,475.58A44.5,44.5 0 0,0 426.78,476.35" stroke-opacity="0.06"/>
<path d="M427.01,476.3A44.5,44.5 0 0,0 422.29,477.56" stroke-opacity="0.06"/>
<path d="M422.51,477.49A44.5,44.5 0 0,0 417.94,479.24" stroke-opacity="0.07"/>
<path d="M418.16,479.15A44.5,44.5 0 0,0 413.8,481.37" stroke-opacity="0.07"/>
<path d="M414,481.25A44.5,44.5 0 0,0 409.9,483.92" stroke-opacity="0.08"/>
<path d="M410.09,483.78A44.5,44.5 0 0,0 406.29,486.86" stroke-opacity="0.09"/>
<path d="M406.46,486.7A44.5,44.5 0 0,0 403,490.16" stroke-opacity="0.1"/>
<path d="M403.16,489.99A44.5,44.5 0 0,0 400.08,493.79" stroke-opacity="0.11"/>
<path d="M400.22,493.6A44.5,44.5 0 0,0 397.55,497.7" stroke-opacity="0.12"/>
<path d="M397.67,497.5A44.5,44.5 0 0,0 395.45,501.86" stroke-opacity="0.12"/>
<path d="M395.54,501.64A44.5,44.5 0 0,0 393.79,506.21" stroke-opacity="0.13"/>
<path d="M393.86,505.99A44.5,44.5 0 0,0 392.6,510.71" stroke-opacity="0.14"/>
<path d="M392.65,510.48A44.5,44.5 0 0,0 391.88,515.31" stroke-opacity="0.14"/>
<path d="M391.91,515.08A44.5,44.5 0 0,0 391.65,519.97" stroke-opacity="0.14"/>
<path d="M391.65,519.73A44.5,44.5 0 0,0 391.91,524.62" stroke-opacity="0.14"/>
<path d="M391.88,524.39A44.5,44.5 0 0,0 392.65,529.22" stroke-opacity="0.14"/>
<path d="M392.6,528.99A44.5,44.5 0 0,0 393.86,533.71" stroke-opacity="0.13"/>
<path d="M393.79,533.49A44.5,44.5 0 0,0 395.54,538.06" stroke-opacity="0.12"/>
<path d="M395.45,537.84A44.5,44.5 0 0,0 397.67,542.2" stroke-opacity="0.11"/>
<path d="M397.55,542A44.5,44.5 0 0,0 400.22,546.1" stroke-opacity="0.1"/>
<path d="M400.08,545.91A44.5,44.5 0 0,0 403.16,549.71" stroke-opacity="0.09"/>
<path d="M403,549.54A44.5,44.5 0 0,0 406.46,553" stroke-opacity="0.07"/>
<path d="M406.29,552.84A44.5,44.5 0 0,0 410.09,555.92" stroke-opacity="0.06"/>
<path d="M409.9,555.78A44.5,44.5 0 0,0 414,558.45" stroke-opacity="0.04"/>
<path d="M413.8,558.33A44.5,44.5 0 0,0 418.16,560.55" stroke-opacity="0.03"/>
<path d="M417.94,560.46A44.5,44.5 0 0,0 422.51,562.21" stroke-opacity="0.02"/>
<path d="M449.79,562.21A44.5,44.5 0 0,0 454.36,560.46" stroke-opacity="0.02"/>
<path d="M454.14,560.55A44.5,44.5 0 0,0 458.5,558.33" stroke-opacity="0.04"/>
<path d="M458.3,558.45A44.5,44.5 0 0,0 462.4,555.78" stroke-opacity="0.05"/>
<path d="M462.21,555.92A44.5,44.5 0 0,0 466.01,552.84" stroke-opacity="0.07"/>
<path d="M465.84,553A44.5,44.5 0 0,0 469.3,549.54" stroke-opacity="0.09"/>
<path d="M469.14,549.71A44.5,44.5 0 0,0 472.22,545.91" stroke-opacity="0.11"/>
<path d="M472.08,546.1A44.5,44.5 0 0,0 474.75,542" stroke-opacity="0.13"/>
<path d="M474.63,542.2A44.5,44.5 0 0,0 476.85,537.84" stroke-opacity="0.15"/>
<path d="M476.76,538.06A44.5,44.5 0 0,0 478.51,533.49" stroke-opacity="0.16"/>
<path d="M478.44,533.71A44.5,44.5 0 0,0 479.7,528.99" stroke-opacity="0.17"/>
<path d="M479.65,529.22A44.5,44.5 0 0,0 480.42,524.39" stroke-opacity="0.18"/>
<path d="M480.39,524.62A44.5,44.5 0 0,0 480.65,519.73" stroke-opacity="0.18"/>
</g>
<g fill="none" stroke="#fff" stroke-width="3.4">
<path d="M504.95,510.57A64.8,64.8 0 0,0 504.58,503.46" stroke-opacity="0.22"/>
<path d="M504.61,503.8A64.8,64.8 0 0,0 503.5,496.76" stroke-opacity="0.21"/>
<path d="M503.57,497.09A64.8,64.8 0 0,0 501.73,490.21" stroke-opacity="0.21"/>
<path d="M501.83,490.54A64.8,64.8 0 0,0 499.28,483.89" stroke-opacity="0.19"/>
<path d="M499.42,484.2A64.8,64.8 0 0,0 496.18,477.85" stroke-opacity="0.18"/>
<path d="M496.35,478.15A64.8,64.8 0 0,0 492.47,472.17" stroke-opacity="0.16"/>
<path d="M492.67,472.45A64.8,64.8 0 0,0 488.19,466.91" stroke-opacity="0.14"/>
<path d="M488.42,467.17A64.8,64.8 0 0,0 483.38,462.13" stroke-opacity="0.13"/>
<path d="M483.64,462.36A64.8,64.8 0 0,0 478.1,457.88" stroke-opacity="0.11"/>
<path d="M478.38,458.08A64.8,64.8 0 0,0 472.4,454.2" stroke-opacity="0.09"/>
<path d="M472.7,454.37A64.8,64.8 0 0,0 466.35,451.13" stroke-opacity="0.07"/>
<path d="M466.66,451.27A64.8,64.8 0 0,0 460.01,448.72" stroke-opacity="0.06"/>
<path d="M460.34,448.82A64.8,64.8 0 0,0 453.46,446.98" stroke-opacity="0.05"/>
<path d="M453.79,447.05A64.8,64.8 0 0,0 446.75,445.94" stroke-opacity="0.04"/>
<path d="M447.09,445.97A64.8,64.8 0 0,0 439.98,445.6" stroke-opacity="0.03"/>
<path d="M440.32,445.6A64.8,64.8 0 0,0 433.21,445.97" stroke-opacity="0.03"/>
<path d="M433.55,445.94A64.8,64.8 0 0,0 426.51,447.05" stroke-opacity="0.03"/>
<path d="M426.84,446.98A64.8,64.8 0 0,0 419.96,448.82" stroke-opacity="0.03"/>
<path d="M420.29,448.72A64.8,64.8 0 0,0 413.64,451.27" stroke-opacity="0.03"/>
<path d="M413.95,451.13A64.8,64.8 0 0,0 407.6,454.37" stroke-opacity="0.03"/>
<path d="M407.9,454.2A64.8,64.8 0 0,0 401.92,458.08" stroke-opacity="0.02"/>
<path d="M402.2,457.88A64.8,64.8 0 0,0 396.66,462.36" stroke-opacity="0.02"/>
<path d="M396.92,462.13A64.8,64.8 0 0,0 391.88,467.17" stroke-opacity="0.02"/>
<path d="M391.88,553.63A64.8,64.8 0 0,0 396.92,558.67" stroke-opacity="0.02"/>
<path d="M396.66,558.44A64.8,64.8 0 0,0 402.2,562.92" stroke-opacity="0.02"/>
<path d="M401.92,562.72A64.8,64.8 0 0,0 407.9,566.6" stroke-opacity="0.02"/>
<path d="M407.6,566.43A64.8,64.8 0 0,0 413.95,569.67" stroke-opacity="0.03"/>
<path d="M413.64,569.53A64.8,64.8 0 0,0 420.29,572.08" stroke-opacity="0.03"/>
<path d="M419.96,571.98A64.8,64.8 0 0,0 426.84,573.82" stroke-opacity="0.03"/>
<path d="M426.51,573.75A64.8,64.8 0 0,0 433.55,574.86" stroke-opacity="0.03"/>
<path d="M433.21,574.83A64.8,64.8 0 0,0 440.32,575.2" stroke-opacity="0.03"/>
<path d="M439.98,575.2A64.8,64.8 0 0,0 447.09,574.83" stroke-opacity="0.03"/>
<path d="M446.75,574.86A64.8,64.8 0 0,0 453.79,573.75" stroke-opacity="0.04"/>
<path d="M453.46,573.82A64.8,64.8 0 0,0 460.34,571.98" stroke-opacity="0.05"/>
<path d="M460.01,572.08A64.8,64.8 0 0,0 466.66,569.53" stroke-opacity="0.06"/>
<path d="M466.35,569.67A64.8,64.8 0 0,0 472.7,566.43" stroke-opacity="0.07"/>
<path d="M472.4,566.6A64.8,64.8 0 0,0 478.38,562.72" stroke-opacity="0.09"/>
<path d="M478.1,562.92A64.8,64.8 0 0,0 483.64,558.44" stroke-opacity="0.11"/>
<path d="M483.38,558.67A64.8,64.8 0 0,0 488.42,553.63" stroke-opacity="0.13"/>
<path d="M488.19,553.89A64.8,64.8 0 0,0 492.67,548.35" stroke-opacity="0.14"/>
<path d="M492.47,548.63A64.8,64.8 0 0,0 496.35,542.65" stroke-opacity="0.16"/>
<path d="M496.18,542.95A64.8,64.8 0 0,0 499.42,536.6" stroke-opacity="0.18"/>
<path d="M499.28,536.91A64.8,64.8 0 0,0 501.83,530.26" stroke-opacity="0.19"/>
<path d="M501.73,530.59A64.8,64.8 0 0,0 503.57,523.71" stroke-opacity="0.21"/>
<path d="M503.5,524.04A64.8,64.8 0 0,0 504.61,517" stroke-opacity="0.21"/>
<path d="M504.58,517.34A64.8,64.8 0 0,0 504.95,510.23" stroke-opacity="0.22"/>
</g>
<g fill="none" stroke="#fff" stroke-width="3.4">
<path d="M504.95,516.27A64.8,64.8 0 0,0 504.58,509.16" stroke-opacity="0.22"/>
<path d="M504.61,509.5A64.8,64.8 0 0,0 503.5,502.46" stroke-opacity="0.21"/>
<path d="M503.57,502.79A64.8,64.8 0 0,0 501.73,495.91" stroke-opacity="0.21"/>
<path d="M501.83,496.24A64.8,64.8 0 0,0 499.28,489.59" stroke-opacity="0.19"/>
<path d="M499.42,489.9A64.8,64.8 0 0,0 496.18,483.55" stroke-opacity="0.18"/>
<path d="M496.35,483.85A64.8,64.8 0 0,0 492.47,477.87" stroke-opacity="0.16"/>
<path d="M492.67,478.15A64.8,64.8 0 0,0 488.19,472.61" stroke-opacity="0.14"/>
<path d="M488.42,472.87A64.8,64.8 0 0,0 483.38,467.83" stroke-opacity="0.13"/>
<path d="M483.64,468.06A64.8,64.8 0 0,0 478.1,463.58" stroke-opacity="0.11"/>
<path d="M478.38,463.78A64.8,64.8 0 0,0 472.4,459.9" stroke-opacity="0.09"/>
<path d="M472.7,460.07A64.8,64.8 0 0,0 466.35,456.83" stroke-opacity="0.07"/>
<path d="M466.66,456.97A64.8,64.8 0 0,0 460.01,454.42" stroke-opacity="0.06"/>
<path d="M460.34,454.52A64.8,64.8 0 0,0 453.46,452.68" stroke-opacity="0.05"/>
<path d="M453.79,452.75A64.8,64.8 0 0,0 446.75,451.64" stroke-opacity="0.04"/>
<path d="M447.09,451.67A64.8,64.8 0 0,0 439.98,451.3" stroke-opacity="0.03"/>
<path d="M440.32,451.3A64.8,64.8 0 0,0 433.21,451.67" stroke-opacity="0.03"/>
<path d="M433.55,451.64A64.8,64.8 0 0,0 426.51,452.75" stroke-opacity="0.03"/>
<path d="M426.84,452.68A64.8,64.8 0 0,0 419.96,454.52" stroke-opacity="0.03"/>
<path d="M420.29,454.42A64.8,64.8 0 0,0 413.64,456.97" stroke-opacity="0.03"/>
<path d="M413.95,456.83A64.8,64.8 0 0,0 407.6,460.07" stroke-opacity="0.03"/>
<path d="M407.9,459.9A64.8,64.8 0 0,0 401.92,463.78" stroke-opacity="0.02"/>
<path d="M402.2,463.58A64.8,64.8 0 0,0 396.66,468.06" stroke-opacity="0.02"/>
<path d="M396.92,467.83A64.8,64.8 0 0,0 391.88,472.87" stroke-opacity="0.02"/>
<path d="M391.88,559.33A64.8,64.8 0 0,0 396.92,564.37" stroke-opacity="0.02"/>
<path d="M396.66,564.14A64.8,64.8 0 0,0 402.2,568.62" stroke-opacity="0.02"/>
<path d="M401.92,568.42A64.8,64.8 0 0,0 407.9,572.3" stroke-opacity="0.02"/>
<path d="M407.6,572.13A64.8,64.8 0 0,0 413.95,575.37" stroke-opacity="0.03"/>
<path d="M413.64,575.23A64.8,64.8 0 0,0 420.29,577.78" stroke-opacity="0.03"/>
<path d="M419.96,577.68A64.8,64.8 0 0,0 426.84,579.52" stroke-opacity="0.03"/>
<path d="M426.51,579.45A64.8,64.8 0 0,0 433.55,580.56" stroke-opacity="0.03"/>
<path d="M433.21,580.53A64.8,64.8 0 0,0 440.32,580.9" stroke-opacity="0.03"/>
<path d="M439.98,580.9A64.8,64.8 0 0,0 447.09,580.53" stroke-opacity="0.03"/>
<path d="M446.75,580.56A64.8,64.8 0 0,0 453.79,579.45" stroke-opacity="0.04"/>
<path d="M453.46,579.52A64.8,64.8 0 0,0 460.34,577.68" stroke-opacity="0.05"/>
<path d="M460.01,577.78A64.8,64.8 0 0,0 466.66,575.23" stroke-opacity="0.06"/>
<path d="M466.35,575.37A64.8,64.8 0 0,0 472.7,572.13" stroke-opacity="0.07"/>
<path d="M472.4,572.3A64.8,64.8 0 0,0 478.38,568.42" stroke-opacity="0.09"/>
<path d="M478.1,568.62A64.8,64.8 0 0,0 483.64,564.14" stroke-opacity="0.11"/>
<path d="M483.38,564.37A64.8,64.8 0 0,0 488.42,559.33" stroke-opacity="0.13"/>
<path d="M488.19,559.59A64.8,64.8 0 0,0 492.67,554.05" stroke-opacity="0.14"/>
<path d="M492.47,554.33A64.8,64.8 0 0,0 496.35,548.35" stroke-opacity="0.16"/>
<path d="M496.18,548.65A64.8,64.8 0 0,0 499.42,542.3" stroke-opacity="0.18"/>
<path d="M499.28,542.61A64.8,64.8 0 0,0 501.83,535.96" stroke-opacity="0.19"/>
<path d="M501.73,536.29A64.8,64.8 0 0,0 503.57,529.41" stroke-opacity="0.21"/>
<path d="M503.5,529.74A64.8,64.8 0 0,0 504.61,522.7" stroke-opacity="0.21"/>
<path d="M504.58,523.04A64.8,64.8 0 0,0 504.95,515.93" stroke-opacity="0.22"/>
</g>
<g fill="none" stroke="#fff" stroke-width="3.4">
<path d="M530.15,513.48A88,88 0 0,0 529.64,503.82" stroke-opacity="0.13"/>
<path d="M529.69,504.28A88,88 0 0,0 528.18,494.73" stroke-opacity="0.13"/>
<path d="M528.27,495.18A88,88 0 0,0 525.77,485.84" stroke-opacity="0.14"/>
<path d="M525.91,486.28A88,88 0 0,0 522.45,477.25" stroke-opacity="0.14"/>
<path d="M522.64,477.67A88,88 0 0,0 518.24,469.05" stroke-opacity="0.15"/>
<path d="M518.48,469.45A88,88 0 0,0 513.21,461.34" stroke-opacity="0.16"/>
<path d="M513.48,461.71A88,88 0 0,0 507.39,454.2" stroke-opacity="0.16"/>
<path d="M507.7,454.54A88,88 0 0,0 500.86,447.7" stroke-opacity="0.17"/>
<path d="M501.2,448.01A88,88 0 0,0 493.69,441.92" stroke-opacity="0.18"/>
<path d="M494.06,442.19A88,88 0 0,0 485.95,436.92" stroke-opacity="0.19"/>
<path d="M486.35,437.16A88,88 0 0,0 477.73,432.76" stroke-opacity="0.2"/>
<path d="M478.15,432.95A88,88 0 0,0 469.12,429.49" stroke-opacity="0.21"/>
<path d="M469.56,429.63A88,88 0 0,0 460.22,427.13" stroke-opacity="0.21"/>
<path d="M460.67,427.22A88,88 0 0,0 451.12,425.71" stroke-opacity="0.22"/>
<path d="M451.58,425.76A88,88 0 0,0 441.92,425.25" stroke-opacity="0.22"/>
<path d="M442.38,425.25A88,88 0 0,0 432.72,425.76" stroke-opacity="0.22"/>
<path d="M433.18,425.71A88,88 0 0,0 423.63,427.22" stroke-opacity="0.21"/>
<path d="M424.08,427.13A88,88 0 0,0 414.74,429.63" stroke-opacity="0.21"/>
<path d="M415.18,429.49A88,88 0 0,0 406.15,432.95" stroke-opacity="0.2"/>
<path d="M406.57,432.76A88,88 0 0,0 397.95,437.16" stroke-opacity="0.19"/>
<path d="M398.35,436.92A88,88 0 0,0 390.24,442.19" stroke-opacity="0.18"/>
<path d="M390.61,441.92A88,88 0 0,0 383.1,448.01" stroke-opacity="0.17"/>
<path d="M383.44,447.7A88,88 0 0,0 376.6,454.54" stroke-opacity="0.15"/>
<path d="M376.91,454.2A88,88 0 0,0 370.82,461.71" stroke-opacity="0.14"/>
<path d="M371.09,461.34A88,88 0 0,0 365.82,469.45" stroke-opacity="0.13"/>
<path d="M366.06,469.05A88,88 0 0,0 361.66,477.67" stroke-opacity="0.11"/>
<path d="M361.85,477.25A88,88 0 0,0 358.39,486.28" stroke-opacity="0.1"/>
<path d="M358.53,485.84A88,88 0 0,0 356.03,495.18" stroke-opacity="0.1"/>
<path d="M356.12,494.73A88,88 0 0,0 354.61,504.28" stroke-opacity="0.09"/>
<path d="M354.66,503.82A88,88 0 0,0 354.15,513.48" stroke-opacity="0.09"/>
<path d="M354.15,513.02A88,88 0 0,0 354.66,522.68" stroke-opacity="0.09"/>
<path d="M354.61,522.22A88,88 0 0,0 356.12,531.77" stroke-opacity="0.09"/>
<path d="M356.03,531.32A88,88 0 0,0 358.53,540.66" stroke-opacity="0.1"/>
<path d="M358.39,540.22A88,88 0 0,0 361.85,549.25" stroke-opacity="0.1"/>
<path d="M361.66,548.83A88,88 0 0,0 366.06,557.45" stroke-opacity="0.11"/>
<path d="M365.82,557.05A88,88 0 0,0 371.09,565.16" stroke-opacity="0.13"/>
<path d="M370.82,564.79A88,88 0 0,0 376.91,572.3" stroke-opacity="0.14"/>
<path d="M376.6,571.96A88,88 0 0,0 383.44,578.8" stroke-opacity="0.15"/>
<path d="M383.1,578.49A88,88 0 0,0 390.61,584.58" stroke-opacity="0.17"/>
<path d="M390.24,584.31A88,88 0 0,0 398.35,589.58" stroke-opacity="0.18"/>
<path d="M397.95,589.34A88,88 0 0,0 406.57,593.74" stroke-opacity="0.19"/>
<path d="M406.15,593.55A88,88 0 0,0 415.18,597.01" stroke-opacity="0.2"/>
<path d="M414.74,596.87A88,88 0 0,0 424.08,599.37" stroke-opacity="0.21"/>
<path d="M423.63,599.28A88,88 0 0,0 433.18,600.79" stroke-opacity="0.21"/>
<path d="M432.72,600.74A88,88 0 0,0 442.38,601.25" stroke-opacity="0.22"/>
<path d="M441.92,601.25A88,88 0 0,0 451.58,600.74" stroke-opacity="0.22"/>
<path d="M451.12,600.79A88,88 0 0,0 460.67,599.28" stroke-opacity="0.22"/>
<path d="M460.22,599.37A88,88 0 0,0 469.56,596.87" stroke-opacity="0.21"/>
<path d="M469.12,597.01A88,88 0 0,0 478.15,593.55" stroke-opacity="0.21"/>
<path d="M477.73,593.74A88,88 0 0,0 486.35,589.34" stroke-opacity="0.2"/>
<path d="M485.95,589.58A88,88 0 0,0 494.06,584.31" stroke-opacity="0.19"/>
<path d="M493.69,584.58A88,88 0 0,0 501.2,578.49" stroke-opacity="0.18"/>
<path d="M500.86,578.8A88,88 0 0,0 507.7,571.96" stroke-opacity="0.17"/>
<path d="M507.39,572.3A88,88 0 0,0 513.48,564.79" stroke-opacity="0.16"/>
<path d="M513.21,565.16A88,88 0 0,0 518.48,557.05" stroke-opacity="0.16"/>
<path d="M518.24,557.45A88,88 0 0,0 522.64,548.83" stroke-opacity="0.15"/>
<path d="M522.45,549.25A88,88 0 0,0 525.91,540.22" stroke-opacity="0.14"/>
<path d="M525.77,540.66A88,88 0 0,0 528.27,531.32" stroke-opacity="0.14"/>
<path d="M528.18,531.77A88,88 0 0,0 529.69,522.22" stroke-opacity="0.13"/>
<path d="M529.64,522.68A88,88 0 0,0 530.15,513.02" stroke-opacity="0.13"/>
</g>
<g fill="none" stroke="#fff" stroke-width="3.4">
<path d="M488.65,507.38A49,49 0 0,0 488.37,502" stroke-opacity="0.09"/>
<path d="M488.39,502.26A49,49 0 0,0 487.55,496.94" stroke-opacity="0.09"/>
<path d="M487.61,497.19A49,49 0 0,0 486.21,491.99" stroke-opacity="0.09"/>
<path d="M486.29,492.23A49,49 0 0,0 484.36,487.2" stroke-opacity="0.09"/>
<path d="M484.47,487.44A49,49 0 0,0 482.02,482.64" stroke-opacity="0.1"/>
<path d="M482.15,482.86A49,49 0 0,0 479.22,478.34" stroke-opacity="0.1"/>
<path d="M479.37,478.55A49,49 0 0,0 475.98,474.37" stroke-opacity="0.1"/>
<path d="M476.15,474.56A49,49 0 0,0 472.34,470.75" stroke-opacity="0.11"/>
<path d="M472.53,470.92A49,49 0 0,0 468.35,467.53" stroke-opacity="0.11"/>
<path d="M468.56,467.68A49,49 0 0,0 464.04,464.75" stroke-opacity="0.12"/>
<path d="M464.26,464.88A49,49 0 0,0 459.46,462.43" stroke-opacity="0.12"/>
<path d="M459.7,462.54A49,49 0 0,0 454.67,460.61" stroke-opacity="0.12"/>
<path d="M454.91,460.69A49,49 0 0,0 449.71,459.29" stroke-opacity="0.13"/>
<path d="M449.96,459.35A49,49 0 0,0 444.64,458.51" stroke-opacity="0.13"/>
<path d="M444.9,458.53A49,49 0 0,0 439.52,458.25" stroke-opacity="0.13"/>
<path d="M439.78,458.25A49,49 0 0,0 434.4,458.53" stroke-opacity="0.13"/>
<path d="M434.66,458.51A49,49 0 0,0 429.34,459.35" stroke-opacity="0.13"/>
<path d="M429.59,459.29A49,49 0 0,0 424.39,460.69" stroke-opacity="0.13"/>
<path d="M424.63,460.61A49,49 0 0,0 419.6,462.54" stroke-opacity="0.13"/>
<path d="M419.84,462.43A49,49 0 0,0 415.04,464.88" stroke-opacity="0.14"/>
<path d="M415.26,464.75A49,49 0 0,0 410.74,467.68" stroke-opacity="0.14"/>
<path d="M410.95,467.53A49,49 0 0,0 406.77,470.92" stroke-opacity="0.14"/>
<path d="M406.96,470.75A49,49 0 0,0 403.15,474.56" stroke-opacity="0.14"/>
<path d="M403.32,474.37A49,49 0 0,0 399.93,478.55" stroke-opacity="0.14"/>
<path d="M400.08,478.34A49,49 0 0,0 397.15,482.86" stroke-opacity="0.15"/>
<path d="M397.28,482.64A49,49 0 0,0 394.83,487.44" stroke-opacity="0.15"/>
<path d="M394.94,487.2A49,49 0 0,0 393.01,492.23" stroke-opacity="0.15"/>
<path d="M393.09,491.99A49,49 0 0,0 391.69,497.19" stroke-opacity="0.15"/>
<path d="M391.75,496.94A49,49 0 0,0 390.91,502.26" stroke-opacity="0.15"/>
<path d="M390.93,502A49,49 0 0,0 390.65,507.38" stroke-opacity="0.15"/>
<path d="M390.65,507.12A49,49 0 0,0 390.93,512.5" stroke-opacity="0.15"/>
<path d="M390.91,512.24A49,49 0 0,0 391.75,517.56" stroke-opacity="0.15"/>
<path d="M391.69,517.31A49,49 0 0,0 393.09,522.51" stroke-opacity="0.14"/>
<path d="M393.01,522.27A49,49 0 0,0 394.94,527.3" stroke-opacity="0.13"/>
<path d="M394.83,527.06A49,49 0 0,0 397.28,531.86" stroke-opacity="0.12"/>
<path d="M397.15,531.64A49,49 0 0,0 400.08,536.16" stroke-opacity="0.11"/>
<path d="M399.93,535.95A49,49 0 0,0 403.32,540.13" stroke-opacity="0.09"/>
<path d="M403.15,539.94A49,49 0 0,0 406.96,543.75" stroke-opacity="0.08"/>
<path d="M406.77,543.58A49,49 0 0,0 410.95,546.97" stroke-opacity="0.06"/>
<path d="M410.74,546.82A49,49 0 0,0 415.26,549.75" stroke-opacity="0.05"/>
<path d="M415.04,549.62A49,49 0 0,0 419.84,552.07" stroke-opacity="0.03"/>
<path d="M419.6,551.96A49,49 0 0,0 424.63,553.89" stroke-opacity="0.02"/>
<path d="M459.46,552.07A49,49 0 0,0 464.26,549.62" stroke-opacity="0.02"/>
<path d="M464.04,549.75A49,49 0 0,0 468.56,546.82" stroke-opacity="0.03"/>
<path d="M468.35,546.97A49,49 0 0,0 472.53,543.58" stroke-opacity="0.03"/>
<path d="M472.34,543.75A49,49 0 0,0 476.15,539.94" stroke-opacity="0.04"/>
<path d="M475.98,540.13A49,49 0 0,0 479.37,535.95" stroke-opacity="0.05"/>
<path d="M479.22,536.16A49,49 0 0,0 482.15,531.64" stroke-opacity="0.06"/>
<path d="M482.02,531.86A49,49 0 0,0 484.47,527.06" stroke-opacity="0.07"/>
<path d="M484.36,527.3A49,49 0 0,0 486.29,522.27" stroke-opacity="0.08"/>
<path d="M486.21,522.51A49,49 0 0,0 487.61,517.31" stroke-opacity="0.08"/>
<path d="M487.55,517.56A49,49 0 0,0 488.39,512.24" stroke-opacity="0.08"/>
<path d="M488.37,512.5A49,49 0 0,0 488.65,507.12" stroke-opacity="0.09"/>
</g>
<g fill="none" stroke="#fff" stroke-width="3.4">
<path d="M488.65,519.38A49,49 0 0,0 488.37,514" stroke-opacity="0.09"/>
<path d="M488.39,514.26A49,49 0 0,0 487.55,508.94" stroke-opacity="0.08"/>
<path d="M487.61,509.19A49,49 0 0,0 486.21,503.99" stroke-opacity="0.08"/>
<path d="M486.29,504.23A49,49 0 0,0 484.36,499.2" stroke-opacity="0.08"/>
<path d="M484.47,499.44A49,49 0 0,0 482.02,494.64" stroke-opacity="0.07"/>
<path d="M482.15,494.86A49,49 0 0,0 479.22,490.34" stroke-opacity="0.06"/>
<path d="M479.37,490.55A49,49 0 0,0 475.98,486.37" stroke-opacity="0.05"/>
<path d="M476.15,486.56A49,49 0 0,0 472.34,482.75" stroke-opacity="0.04"/>
<path d="M472.53,482.92A49,49 0 0,0 468.35,479.53" stroke-opacity="0.03"/>
<path d="M468.56,479.68A49,49 0 0,0 464.04,476.75" stroke-opacity="0.03"/>
<path d="M464.26,476.88A49,49 0 0,0 459.46,474.43" stroke-opacity="0.02"/>
<path d="M424.63,472.61A49,49 0 0,0 419.6,474.54" stroke-opacity="0.02"/>
<path d="M419.84,474.43A49,49 0 0,0 415.04,476.88" stroke-opacity="0.03"/>
<path d="M415.26,476.75A49,49 0 0,0 410.74,479.68" stroke-opacity="0.05"/>
<path d="M410.95,479.53A49,49 0 0,0 406.77,482.92" stroke-opacity="0.06"/>
<path d="M406.96,482.75A49,49 0 0,0 403.15,486.56" stroke-opacity="0.08"/>
<path d="M403.32,486.37A49,49 0 0,0 399.93,490.55" stroke-opacity="0.09"/>
<path d="M400.08,490.34A49,49 0 0,0 397.15,494.86" stroke-opacity="0.11"/>
<path d="M397.28,494.64A49,49 0 0,0 394.83,499.44" stroke-opacity="0.12"/>
<path d="M394.94,499.2A49,49 0 0,0 393.01,504.23" stroke-opacity="0.13"/>
<path d="M393.09,503.99A49,49 0 0,0 391.69,509.19" stroke-opacity="0.14"/>
<path d="M391.75,508.94A49,49 0 0,0 390.91,514.26" stroke-opacity="0.15"/>
<path d="M390.93,514A49,49 0 0,0 390.65,519.38" stroke-opacity="0.15"/>
<path d="M390.65,519.12A49,49 0 0,0 390.93,524.5" stroke-opacity="0.15"/>
<path d="M390.91,524.24A49,49 0 0,0 391.75,529.56" stroke-opacity="0.15"/>
<path d="M391.69,529.31A49,49 0 0,0 393.09,534.51" stroke-opacity="0.15"/>
<path d="M393.01,534.27A49,49 0 0,0 394.94,539.3" stroke-opacity="0.15"/>
<path d="M394.83,539.06A49,49 0 0,0 397.28,543.86" stroke-opacity="0.15"/>
<path d="M397.15,543.64A49,49 0 0,0 400.08,548.16" stroke-opacity="0.15"/>
<path d="M399.93,547.95A49,49 0 0,0 403.32,552.13" stroke-opacity="0.14"/>
<path d="M403.15,551.94A49,49 0 0,0 406.96,555.75" stroke-opacity="0.14"/>
<path d="M406.77,555.58A49,49 0 0,0 410.95,558.97" stroke-opacity="0.14"/>
<path d="M410.74,558.82A49,49 0 0,0 415.26,561.75" stroke-opacity="0.14"/>
<path d="M415.04,561.62A49,49 0 0,0 419.84,564.07" stroke-opacity="0.14"/>
<path d="M419.6,563.96A49,49 0 0,0 424.63,565.89" stroke-opacity="0.13"/>
<path d="M424.39,565.81A49,49 0 0,0 429.59,567.21" stroke-opacity="0.13"/>
<path d="M429.34,567.15A49,49 0 0,0 434.66,567.99" stroke-opacity="0.13"/>
<path d="M434.4,567.97A49,49 0 0,0 439.78,568.25" stroke-opacity="0.13"/>
<path d="M439.52,568.25A49,49 0 0,0 444.9,567.97" stroke-opacity="0.13"/>
<path d="M444.64,567.99A49,49 0 0,0 449.96,567.15" stroke-opacity="0.13"/>
<path d="M449.71,567.21A49,49 0 0,0 454.91,565.81" stroke-opacity="0.13"/>
<path d="M454.67,565.89A49,49 0 0,0 459.7,563.96" stroke-opacity="0.12"/>
<path d="M459.46,564.07A49,49 0 0,0 464.26,561.62" stroke-opacity="0.12"/>
<path d="M464.04,561.75A49,49 0 0,0 468.56,558.82" stroke-opacity="0.12"/>
<path d="M468.35,558.97A49,49 0 0,0 472.53,555.58" stroke-opacity="0.11"/>
<path d="M472.34,555.75A49,49 0 0,0 476.15,551.94" stroke-opacity="0.11"/>
<path d="M475.98,552.13A49,49 0 0,0 479.37,547.95" stroke-opacity="0.1"/>
<path d="M479.22,548.16A49,49 0 0,0 482.15,543.64" stroke-opacity="0.1"/>
<path d="M482.02,543.86A49,49 0 0,0 484.47,539.06" stroke-opacity="0.1"/>
<path d="M484.36,539.3A49,49 0 0,0 486.29,534.27" stroke-opacity="0.09"/>
<path d="M486.21,534.51A49,49 0 0,0 487.61,529.31" stroke-opacity="0.09"/>
<path d="M487.55,529.56A49,49 0 0,0 488.39,524.24" stroke-opacity="0.09"/>
<path d="M488.37,524.5A49,49 0 0,0 488.65,519.12" stroke-opacity="0.09"/>
</g>
<g fill="none" stroke="#fff" stroke-width="3.4">
<path d="M498.8,486.95A69.5,69.5 0 0,0 496.07,479.82" stroke-opacity="0.02"/>
<path d="M496.22,480.15A69.5,69.5 0 0,0 492.75,473.34" stroke-opacity="0.03"/>
<path d="M492.93,473.66A69.5,69.5 0 0,0 488.77,467.25" stroke-opacity="0.04"/>
<path d="M488.98,467.55A69.5,69.5 0 0,0 484.18,461.61" stroke-opacity="0.05"/>
<path d="M484.42,461.88A69.5,69.5 0 0,0 479.02,456.48" stroke-opacity="0.07"/>
<path d="M479.29,456.72A69.5,69.5 0 0,0 473.35,451.92" stroke-opacity="0.08"/>
<path d="M473.65,452.13A69.5,69.5 0 0,0 467.24,447.97" stroke-opacity="0.09"/>
<path d="M467.56,448.15A69.5,69.5 0 0,0 460.75,444.68" stroke-opacity="0.1"/>
<path d="M461.08,444.83A69.5,69.5 0 0,0 453.95,442.1" stroke-opacity="0.11"/>
<path d="M454.3,442.21A69.5,69.5 0 0,0 446.92,440.23" stroke-opacity="0.12"/>
<path d="M447.28,440.31A69.5,69.5 0 0,0 439.73,439.11" stroke-opacity="0.13"/>
<path d="M440.1,439.15A69.5,69.5 0 0,0 432.47,438.75" stroke-opacity="0.13"/>
<path d="M432.83,438.75A69.5,69.5 0 0,0 425.2,439.15" stroke-opacity="0.13"/>
<path d="M425.57,439.11A69.5,69.5 0 0,0 418.02,440.31" stroke-opacity="0.13"/>
<path d="M418.38,440.23A69.5,69.5 0 0,0 411,442.21" stroke-opacity="0.13"/>
<path d="M411.35,442.1A69.5,69.5 0 0,0 404.22,444.83" stroke-opacity="0.13"/>
<path d="M404.55,444.68A69.5,69.5 0 0,0 397.74,448.15" stroke-opacity="0.13"/>
<path d="M398.06,447.97A69.5,69.5 0 0,0 391.65,452.13" stroke-opacity="0.13"/>
<path d="M391.95,451.92A69.5,69.5 0 0,0 386.01,456.72" stroke-opacity="0.13"/>
<path d="M386.28,456.48A69.5,69.5 0 0,0 380.88,461.88" stroke-opacity="0.13"/>
<path d="M381.12,461.61A69.5,69.5 0 0,0 376.32,467.55" stroke-opacity="0.13"/>
<path d="M376.53,467.25A69.5,69.5 0 0,0 372.37,473.66" stroke-opacity="0.13"/>
<path d="M372.55,473.34A69.5,69.5 0 0,0 369.08,480.15" stroke-opacity="0.13"/>
<path d="M369.23,479.82A69.5,69.5 0 0,0 366.5,486.95" stroke-opacity="0.13"/>
<path d="M366.61,486.6A69.5,69.5 0 0,0 364.63,493.98" stroke-opacity="0.13"/>
<path d="M364.71,493.62A69.5,69.5 0 0,0 363.51,501.17" stroke-opacity="0.13"/>
<path d="M363.55,500.8A69.5,69.5 0 0,0 363.15,508.43" stroke-opacity="0.13"/>
<path d="M363.15,508.07A69.5,69.5 0 0,0 363.55,515.7" stroke-opacity="0.13"/>
<path d="M363.51,515.33A69.5,69.5 0 0,0 364.71,522.88" stroke-opacity="0.13"/>
<path d="M364.63,522.52A69.5,69.5 0 0,0 366.61,529.9" stroke-opacity="0.12"/>
<path d="M366.5,529.55A69.5,69.5 0 0,0 369.23,536.68" stroke-opacity="0.11"/>
<path d="M369.08,536.35A69.5,69.5 0 0,0 372.55,543.16" stroke-opacity="0.1"/>
<path d="M372.37,542.84A69.5,69.5 0 0,0 376.53,549.25" stroke-opacity="0.09"/>
<path d="M376.32,548.95A69.5,69.5 0 0,0 381.12,554.89" stroke-opacity="0.08"/>
<path d="M380.88,554.62A69.5,69.5 0 0,0 386.28,560.02" stroke-opacity="0.07"/>
<path d="M386.01,559.78A69.5,69.5 0 0,0 391.95,564.58" stroke-opacity="0.05"/>
<path d="M391.65,564.37A69.5,69.5 0 0,0 398.06,568.53" stroke-opacity="0.04"/>
<path d="M397.74,568.35A69.5,69.5 0 0,0 404.55,571.82" stroke-opacity="0.03"/>
<path d="M404.22,571.67A69.5,69.5 0 0,0 411.35,574.4" stroke-opacity="0.02"/>
</g>
<g fill="none" stroke="#fff" stroke-width="3.4">
<path d="M411.35,452.1A69.5,69.5 0 0,0 404.22,454.83" stroke-opacity="0.02"/>
<path d="M404.55,454.68A69.5,69.5 0 0,0 397.74,458.15" stroke-opacity="0.03"/>
<path d="M398.06,457.97A69.5,69.5 0 0,0 391.65,462.13" stroke-opacity="0.04"/>
<path d="M391.95,461.92A69.5,69.5 0 0,0 386.01,466.72" stroke-opacity="0.05"/>
<path d="M386.28,466.48A69.5,69.5 0 0,0 380.88,471.88" stroke-opacity="0.07"/>
<path d="M381.12,471.61A69.5,69.5 0 0,0 376.32,477.55" stroke-opacity="0.08"/>
<path d="M376.53,477.25A69.5,69.5 0 0,0 372.37,483.66" stroke-opacity="0.09"/>
<path d="M372.55,483.34A69.5,69.5 0 0,0 369.08,490.15" stroke-opacity="0.1"/>
<path d="M369.23,489.82A69.5,69.5 0 0,0 366.5,496.95" stroke-opacity="0.11"/>
<path d="M366.61,496.6A69.5,69.5 0 0,0 364.63,503.98" stroke-opacity="0.12"/>
<path d="M364.71,503.62A69.5,69.5 0 0,0 363.51,511.17" stroke-opacity="0.13"/>
<path d="M363.55,510.8A69.5,69.5 0 0,0 363.15,518.43" stroke-opacity="0.13"/>
<path d="M363.15,518.07A69.5,69.5 0 0,0 363.55,525.7" stroke-opacity="0.13"/>
<path d="M363.51,525.33A69.5,69.5 0 0,0 364.71,532.88" stroke-opacity="0.13"/>
<path d="M364.63,532.52A69.5,69.5 0 0,0 366.61,539.9" stroke-opacity="0.13"/>
<path d="M366.5,539.55A69.5,69.5 0 0,0 369.23,546.68" stroke-opacity="0.13"/>
<path d="M369.08,546.35A69.5,69.5 0 0,0 372.55,553.16" stroke-opacity="0.13"/>
<path d="M372.37,552.84A69.5,69.5 0 0,0 376.53,559.25" stroke-opacity="0.13"/>
<path d="M376.32,558.95A69.5,69.5 0 0,0 381.12,564.89" stroke-opacity="0.13"/>
<path d="M380.88,564.62A69.5,69.5 0 0,0 386.28,570.02" stroke-opacity="0.13"/>
<path d="M386.01,569.78A69.5,69.5 0 0,0 391.95,574.58" stroke-opacity="0.13"/>
<path d="M391.65,574.37A69.5,69.5 0 0,0 398.06,578.53" stroke-opacity="0.13"/>
<path d="M397.74,578.35A69.5,69.5 0 0,0 404.55,581.82" stroke-opacity="0.13"/>
<path d="M404.22,581.67A69.5,69.5 0 0,0 411.35,584.4" stroke-opacity="0.13"/>
<path d="M411,584.29A69.5,69.5 0 0,0 418.38,586.27" stroke-opacity="0.13"/>
<path d="M418.02,586.19A69.5,69.5 0 0,0 425.57,587.39" stroke-opacity="0.13"/>
<path d="M425.2,587.35A69.5,69.5 0 0,0 432.83,587.75" stroke-opacity="0.13"/>
<path d="M432.47,587.75A69.5,69.5 0 0,0 440.1,587.35" stroke-opacity="0.13"/>
<path d="M439.73,587.39A69.5,69.5 0 0,0 447.28,586.19" stroke-opacity="0.13"/>
<path d="M446.92,586.27A69.5,69.5 0 0,0 454.3,584.29" stroke-opacity="0.12"/>
<path d="M453.95,584.4A69.5,69.5 0 0,0 461.08,581.67" stroke-opacity="0.11"/>
<path d="M460.75,581.82A69.5,69.5 0 0,0 467.56,578.35" stroke-opacity="0.1"/>
<path d="M467.24,578.53A69.5,69.5 0 0,0 473.65,574.37" stroke-opacity="0.09"/>
<path d="M473.35,574.58A69.5,69.5 0 0,0 479.29,569.78" stroke-opacity="0.08"/>
<path d="M479.02,570.02A69.5,69.5 0 0,0 484.42,564.62" stroke-opacity="0.07"/>
<path d="M484.18,564.89A69.5,69.5 0 0,0 488.98,558.95" stroke-opacity="0.05"/>
<path d="M488.77,559.25A69.5,69.5 0 0,0 492.93,552.84" stroke-opacity="0.04"/>
<path d="M492.75,553.16A69.5,69.5 0 0,0 496.22,546.35" stroke-opacity="0.03"/>
<path d="M496.07,546.68A69.5,69.5 0 0,0 498.8,539.55" stroke-opacity="0.02"/>
</g>
<g fill="none" stroke="#fff" stroke-width="3.6">
<path d="M380.39,489.52A58.1,58.1 0 0,0 379.18,492.36" stroke-opacity="0.02"/>
<path d="M379.29,492.08A58.1,58.1 0 0,0 378.22,494.98" stroke-opacity="0.04"/>
<path d="M378.32,494.69A58.1,58.1 0 0,0 377.38,497.64" stroke-opacity="0.07"/>
<path d="M377.46,497.35A58.1,58.1 0 0,0 376.67,500.33" stroke-opacity="0.14"/>
<path d="M376.74,500.04A58.1,58.1 0 0,0 376.09,503.06" stroke-opacity="0.23"/>
<path d="M376.15,502.76A58.1,58.1 0 0,0 375.64,505.81" stroke-opacity="0.36"/>
<path d="M375.69,505.51A58.1,58.1 0 0,0 375.33,508.59" stroke-opacity="0.52"/>
<path d="M375.36,508.28A58.1,58.1 0 0,0 375.15,511.37" stroke-opacity="0.68"/>
<path d="M375.16,511.06A58.1,58.1 0 0,0 375.1,514.16" stroke-opacity="0.81"/>
<path d="M375.1,513.85A58.1,58.1 0 0,0 375.19,516.94" stroke-opacity="0.89"/>
<path d="M375.17,516.64A58.1,58.1 0 0,0 375.41,519.72" stroke-opacity="0.89"/>
<path d="M375.38,519.42A58.1,58.1 0 0,0 375.76,522.49" stroke-opacity="0.81"/>
<path d="M375.72,522.19A58.1,58.1 0 0,0 376.25,525.23" stroke-opacity="0.68"/>
<path d="M376.19,524.94A58.1,58.1 0 0,0 376.86,527.95" stroke-opacity="0.52"/>
<path d="M376.79,527.66A58.1,58.1 0 0,0 377.61,530.64" stroke-opacity="0.36"/>
<path d="M377.52,530.35A58.1,58.1 0 0,0 378.48,533.29" stroke-opacity="0.23"/>
<path d="M378.38,533A58.1,58.1 0 0,0 379.48,535.89" stroke-opacity="0.14"/>
<path d="M379.37,535.61A58.1,58.1 0 0,0 380.61,538.44" stroke-opacity="0.07"/>
<path d="M380.48,538.17A58.1,58.1 0 0,0 381.85,540.94" stroke-opacity="0.04"/>
<path d="M381.71,540.67A58.1,58.1 0 0,0 383.22,543.37" stroke-opacity="0.02"/>
</g>
</g></g>
<g stroke="#00ffff" fill="none" stroke-width="3">
<path d="M135.3,89.8V103.1M134.6,302.4V315.3M20.9,201.45H34.1M234.8,200.3H246.9"/>
</g>
<path d="M18.77,260.31L250.83,143.49" stroke="#00ffff" fill="none" stroke-width="2.6"/>
<path d="M168.74,184.81l-6.2,-12.33M100.86,218.99l6.2,12.33M202.24,167.95l-6.2,-12.33M67.36,235.85l6.2,12.33M235.29,151.32l-6.2,-12.33M34.31,252.48l6.2,12.33" stroke="#00ffff" fill="none" stroke-width="3"/>
<g stroke="#00ffff" fill="none" stroke-width="3">
<path d="M435.5,89.2V102.3M435.4,301.7V314.8M321.3,200.7H334.9M534.9,199.5H547.8"/>
</g>
<path d="M319.57,260.81L551.63,143.99" stroke="#00ffff" fill="none" stroke-width="2.6"/>
<path d="M469.54,185.31l-6.2,-12.33M401.66,219.49l6.2,12.33M503.04,168.45l-6.2,-12.33M368.16,236.35l6.2,12.33M536.09,151.82l-6.2,-12.33M335.11,252.98l6.2,12.33" stroke="#00ffff" fill="none" stroke-width="3"/>
<g stroke="#00ffff" fill="none" stroke-width="3">
<path d="M135.2,400.1V413.9M134.7,613.1V626.2M21,512.3H34.2M234.8,510.7H247.9"/>
</g>
<path d="M19.27,570.81L251.33,453.99" stroke="#00ffff" fill="none" stroke-width="2.6"/>
<path d="M169.24,495.31l-6.2,-12.33M101.36,529.49l6.2,12.33M202.74,478.45l-6.2,-12.33M67.86,546.35l6.2,12.33M235.79,461.82l-6.2,-12.33M34.81,562.98l6.2,12.33" stroke="#00ffff" fill="none" stroke-width="3"/>
<g stroke="#00ffff" fill="none" stroke-width="3">
<path d="M438.1,399.8V413.9M437.4,612.9V626.7M322.6,511.9H337.3M537.4,510.5H550.4"/>
</g>
<path d="M321.47,570.31L553.53,453.49" stroke="#00ffff" fill="none" stroke-width="2.6"/>
<path d="M471.44,494.81l-6.2,-12.33M403.56,528.99l6.2,12.33M504.94,477.95l-6.2,-12.33M370.06,545.85l6.2,12.33M537.99,461.32l-6.2,-12.33M337.01,562.48l6.2,12.33" stroke="#00ffff" fill="none" stroke-width="3"/>
<g transform="translate(0,0)">
<g fill="none" stroke="#000" stroke-width="1.3" stroke-linejoin="miter" stroke-linecap="butt">
<path d="M234.2,148.5L248,133.6Q249.4,132 247,132.5L238.6,134.6Q237,135 238.4,133.4L249,119"/>
<path d="M240.6,122L249.3,118.5L248,127.8"/>
<path d="M32.8,254.8L28,273.6Q27.6,275.4 29.2,274.2L35.6,269.4Q37,268.4 36.6,270L33.6,287.2"/>
<path d="M29.8,282L33.5,288L39.8,281.4"/>
<path d="M167.6,186.8L155.7,203.6M156.3,196L155.5,203.9L164.8,200.8"/>
<path d="M100.9,220.5L128.4,217M120.9,213.2L128.8,216.9L120.3,223.2"/>
</g>
<path d="M236.9,266.4Q244.2,259 247.3,249.5" fill="none" stroke="#000" stroke-width="2.8"/>
<path d="M250.2,237L253.6,251.8L241,248.2Z" fill="#000"/>
</g>
<g transform="translate(300.8,0.6)">
<g fill="none" stroke="#000" stroke-width="1.3" stroke-linejoin="miter" stroke-linecap="butt">
<path d="M234.2,148.5L248,133.6Q249.4,132 247,132.5L238.6,134.6Q237,135 238.4,133.4L249,119"/>
<path d="M240.6,122L249.3,118.5L248,127.8"/>
<path d="M32.8,254.8L28,273.6Q27.6,275.4 29.2,274.2L35.6,269.4Q37,268.4 36.6,270L33.6,287.2"/>
<path d="M29.8,282L33.5,288L39.8,281.4"/>
<path d="M167.6,186.8L155.7,203.6M156.3,196L155.5,203.9L164.8,200.8"/>
<path d="M100.9,220.5L128.4,217M120.9,213.2L128.8,216.9L120.3,223.2"/>
</g>
<path d="M236.9,266.4Q244.2,259 247.3,249.5" fill="none" stroke="#000" stroke-width="2.8"/>
<path d="M250.2,237L253.6,251.8L241,248.2Z" fill="#000"/>
</g>
<g transform="translate(0.5,311.8)">
<g fill="none" stroke="#000" stroke-width="1.3" stroke-linejoin="miter" stroke-linecap="butt">
<path d="M234.2,148.5L248,133.6Q249.4,132 247,132.5L238.6,134.6Q237,135 238.4,133.4L249,119"/>
<path d="M240.6,122L249.3,118.5L248,127.8"/>
<path d="M32.8,254.8L28,273.6Q27.6,275.4 29.2,274.2L35.6,269.4Q37,268.4 36.6,270L33.6,287.2"/>
<path d="M29.8,282L33.5,288L39.8,281.4"/>
<path d="M167.6,186.8L155.7,203.6M156.3,196L155.5,203.9L164.8,200.8"/>
<path d="M100.9,220.5L128.4,217M120.9,213.2L128.8,216.9L120.3,223.2"/>
</g>
<path d="M236.9,266.4Q244.2,259 247.3,249.5" fill="none" stroke="#000" stroke-width="2.8"/>
<path d="M250.2,237L253.6,251.8L241,248.2Z" fill="#000"/>
</g>
<g transform="translate(302.6,311.6)">
<g fill="none" stroke="#000" stroke-width="1.3" stroke-linejoin="miter" stroke-linecap="butt">
<path d="M234.2,148.5L248,133.6Q249.4,132 247,132.5L238.6,134.6Q237,135 238.4,133.4L249,119"/>
<path d="M240.6,122L249.3,118.5L248,127.8"/>
<path d="M32.8,254.8L28,273.6Q27.6,275.4 29.2,274.2L35.6,269.4Q37,268.4 36.6,270L33.6,287.2"/>
<path d="M29.8,282L33.5,288L39.8,281.4"/>
<path d="M167.6,186.8L155.7,203.6M156.3,196L155.5,203.9L164.8,200.8"/>
<path d="M100.9,220.5L128.4,217M120.9,213.2L128.8,216.9L120.3,223.2"/>
</g>
<path d="M236.9,266.4Q244.2,259 247.3,249.5" fill="none" stroke="#000" stroke-width="2.8"/>
<path d="M250.2,237L253.6,251.8L241,248.2Z" fill="#000"/>
</g>
<text x="3.6" y="93" font-size="21" text-anchor="start" font-weight="bold">a</text>
<text x="302.6" y="92.6" font-size="21" text-anchor="start" font-weight="bold">b</text>
<text x="3.4" y="403.6" font-size="21" text-anchor="start" font-weight="bold">c</text>
<text x="302.4" y="403.4" font-size="21" text-anchor="start" font-weight="bold">d</text>
<text x="139.3" y="86" font-size="21" text-anchor="middle">90°</text>
<text x="138.8" y="334.5" font-size="21" text-anchor="middle">270°</text>
<text x="248.2" y="208" font-size="21" text-anchor="start">0°</text>
<text x="15.2" y="202" font-size="21" text-anchor="middle" transform="rotate(-90 15.2 202)">180°</text>
<text x="253.6" y="116.6" font-size="21" text-anchor="middle">120°</text>
<text x="33.4" y="306.4" font-size="21" text-anchor="middle">120°</text>
<text x="250.6" y="165.2" font-size="21" text-anchor="middle">θ</text>
<text x="14.6" y="257.6" font-size="21" text-anchor="middle">θ</text>
<text x="266" y="248.6" font-size="21" text-anchor="middle" font-style="italic">φ</text>
<text x="150.2" y="228.2" font-size="21" text-anchor="middle" transform="rotate(-26.7 150.2 228.2)">100°</text>
<text x="440.6" y="87.5" font-size="21" text-anchor="middle">90°</text>
<text x="438.8" y="334.5" font-size="21" text-anchor="middle">270°</text>
<text x="548.9" y="207.7" font-size="21" text-anchor="start">0°</text>
<text x="315.8" y="201.2" font-size="21" text-anchor="middle" transform="rotate(-90 315.8 201.2)">180°</text>
<text x="557.9" y="117.6" font-size="21" text-anchor="middle">120°</text>
<text x="337.7" y="307.4" font-size="21" text-anchor="middle">120°</text>
<text x="551.8" y="165" font-size="21" text-anchor="middle">θ</text>
<text x="315.8" y="257.6" font-size="21" text-anchor="middle">θ</text>
<text x="566.4" y="248.1" font-size="21" text-anchor="middle" font-style="italic">φ</text>
<text x="454" y="228.7" font-size="21" text-anchor="middle" transform="rotate(-26.7 454 228.7)">100°</text>
<text x="134.3" y="397.5" font-size="21" text-anchor="middle">90°</text>
<text x="135.6" y="649.1" font-size="21" text-anchor="middle">270°</text>
<text x="248.5" y="518.3" font-size="21" text-anchor="start">0°</text>
<text x="15.2" y="512.1" font-size="21" text-anchor="middle" transform="rotate(-90 15.2 512.1)">180°</text>
<text x="254.1" y="428.7" font-size="21" text-anchor="middle">120°</text>
<text x="36.9" y="618.2" font-size="21" text-anchor="middle">120°</text>
<text x="251.4" y="476.1" font-size="21" text-anchor="middle">θ</text>
<text x="15.1" y="569.2" font-size="21" text-anchor="middle">θ</text>
<text x="266.5" y="559.2" font-size="21" text-anchor="middle" font-style="italic">φ</text>
<text x="153.7" y="539.3" font-size="21" text-anchor="middle" transform="rotate(-26.7 153.7 539.3)">100°</text>
<text x="439.9" y="395.4" font-size="21" text-anchor="middle">90°</text>
<text x="440.9" y="647.1" font-size="21" text-anchor="middle">270°</text>
<text x="550.9" y="518.3" font-size="21" text-anchor="start">0°</text>
<text x="316.1" y="511.6" font-size="21" text-anchor="middle" transform="rotate(-90 316.1 511.6)">180°</text>
<text x="556.6" y="428.6" font-size="21" text-anchor="middle">120°</text>
<text x="338.5" y="617.7" font-size="21" text-anchor="middle">120°</text>
<text x="553.2" y="475.5" font-size="21" text-anchor="middle">θ</text>
<text x="317.2" y="567.9" font-size="21" text-anchor="middle">θ</text>
<text x="568.6" y="558.9" font-size="21" text-anchor="middle" font-style="italic">φ</text>
<text x="454.2" y="539.2" font-size="21" text-anchor="middle" transform="rotate(-26.7 454.2 539.2)">100°</text>
<text x="82.6" y="56.1" font-size="21" text-anchor="start" textLength="308" lengthAdjust="spacingAndGlyphs">classical CXR by a point electron</text>
<text x="82.8" y="366.5" font-size="21" text-anchor="start" textLength="371.2" lengthAdjust="spacingAndGlyphs">quantum CXR by a plane wave electron</text>
<text x="94.6" y="15.1" font-size="20.6"><tspan font-style="italic">θ</tspan><tspan font-size="13.6" dy="4.8">ele</tspan><tspan dy="-4.8">=0°</tspan></text>
<text x="397" y="14.5" font-size="20.6"><tspan font-style="italic">θ</tspan><tspan font-size="13.6" dy="4.8">ele</tspan><tspan dy="-4.8">=2.21°</tspan></text>
<g>
<path d="M531.8,40.1L623.5,16.7L625.8,25.9L534.2,49.2Z" fill="#808080"/>
<path d="M528.8,30.1H622.5" stroke="#000" stroke-width="1.6" stroke-dasharray="3.3,1.2" fill="none"/>
<path d="M576.05,13.1V61" stroke="#000" stroke-width="2.3" fill="none"/>
<path d="M569.2,59.3H582.6L575.9,72.3Z" fill="#000"/>
<path d="M575.9,51.9A13.1,13.1 0 0,0 588.2,43.4" stroke="#000" stroke-width="2" fill="none"/>
<path d="M575.3,28.9L576,28.89L576.67,28.92L577.27,29.01L577.78,29.2L578.18,29.49L578.47,29.89L578.65,30.4L578.75,31L578.77,31.66L578.76,32.36L578.76,33.07L578.78,33.73L578.88,34.33L579.06,34.84L579.35,35.24L579.75,35.53L580.26,35.72L580.86,35.81L581.53,35.84L582.23,35.83L582.93,35.82L583.6,35.85L584.2,35.94L584.7,36.13L585.11,36.42L585.4,36.82L585.58,37.33L585.67,37.93L585.7,38.59L585.69,39.29L585.69,39.99L585.71,40.66L585.81,41.26L585.99,41.77L586.28,42.17L586.68,42.46L587.19,42.65L587.79,42.74L588.46,42.77L589.16,42.76L589.86,42.75L590.53,42.78L591.13,42.87L591.63,43.06L592.04,43.35L592.33,43.75L592.51,44.26L592.6,44.86L592.63,45.52L592.62,46.22L592.62,46.92L592.64,47.59L592.74,48.19L592.92,48.7L593.21,49.1L593.61,49.39L594.12,49.58L594.72,49.67L595.39,49.7L596.09,49.69L596.79,49.68L597.46,49.71L598.05,49.8L598.56,49.99L598.97,50.28L599.26,50.68L599.44,51.19L599.53,51.79L599.56,52.45L599.55,53.15L599.55,53.85L599.57,54.52L599.67,55.12L599.85,55.63L600.14,56.03L600.54,56.32L601.05,56.51L601.65,56.6L602.32,56.63L603.02,56.62L603.72,56.61L604.38,56.64L604.98,56.73L605.49,56.91L605.9,57.21L606.19,57.61L606.37,58.12L606.46,58.72L606.49,59.38L606.48,60.08L606.48,60.78L606.5,61.45L606.6,62.05L606.78,62.56L607.07,62.96L607.47,63.25L607.98,63.44L608.58,63.53L609.25,63.56L609.95,63.55" stroke="#5c1a8a" stroke-width="2.6" fill="none" stroke-linejoin="round"/>
<path d="M616.7,73.7L604.6,67.6L614.5,60.1Z" fill="#5c1a8a"/>
<g stroke="#c00000" stroke-width="2.7" fill="none" stroke-linejoin="miter"><path d="M625.1,17L655.6,9.3M640.3,6.6L656.2,9.1L644.7,19.7"/><path d="M625.1,17L633.5,47M622.7,36.8L633.7,47.7L636.1,33.3"/></g>
<path d="M546.4,33.6L519,39.6Q517,40 518.8,38.8L523.4,35.8Q524.6,35 523,35.4L508.6,39.2" stroke="#000" stroke-width="1.2" fill="none"/>
<path d="M512.6,32.8L507.9,39.3L517.6,41.4" stroke="#000" stroke-width="1.2" fill="none"/>
<path d="M545.9,30.4Q545.9,33.6 546.9,36.8" stroke="#000" stroke-width="1.2" fill="none"/>
</g>
<text x="477.2" y="42.6" font-size="20.6"><tspan font-style="italic">θ</tspan><tspan font-size="13.6" dy="4.8">ele</tspan></text>
<text x="577.6" y="11.9" font-size="20.6">e<tspan font-size="13.6" dy="-6.4">-</tspan></text>
<text x="659" y="16.1" font-size="20.6" text-anchor="start" font-style="italic">x</text>
<text x="637.4" y="52" font-size="20.6" text-anchor="start" font-style="italic">z</text>
<text x="583.6" y="69.2" font-size="19" text-anchor="start" font-style="italic">θ</text>
<text x="510.6" y="67.2" font-size="20.6" text-anchor="start" transform="rotate(-11.5 510.6 67.2)">silicon</text>
<text x="575.6" y="94.8" font-size="20.6"><tspan font-family="'DejaVu Serif',serif" font-style="italic" font-size="19">ℏ</tspan><tspan font-style="italic">ω</tspan>=2 keV</text>
<rect x="628.6" y="130.1" width="17" height="183.4" fill="url(#cb)"/>
<path d="M641,175.9H645.6M641,222H645.6M641,268.7H645.6" stroke="#fff" stroke-width="1.8" fill="none"/>
<text x="646.8" y="145.9" font-size="21" text-anchor="start">8</text>
<text x="646.8" y="229.9" font-size="21" text-anchor="start">4</text>
<text x="646.8" y="319.3" font-size="21" text-anchor="start">0</text>
<text x="629.6" y="120.3" font-size="21">×10<tspan font-size="14" dy="-6.1">-10</tspan></text>
<rect x="628.6" y="444.3" width="17.4" height="182.9" fill="url(#cb)"/>
<path d="M641.4,489.5H646M641.4,535.8H646M641.4,582H646" stroke="#fff" stroke-width="1.8" fill="none"/>
<text x="647.2" y="459.2" font-size="21" text-anchor="start">4</text>
<text x="647.2" y="543.9" font-size="21" text-anchor="start">2</text>
<text x="647.2" y="633.7" font-size="21" text-anchor="start">0</text>
<text x="627.2" y="430.6" font-size="21">×10<tspan font-size="14" dy="-6.1">-10</tspan></text>
<text x="610.2" y="309.2" font-size="21" text-anchor="start" transform="rotate(-90 610.2 309.2)">photons/(eV·st·ele)</text>
<text x="610.4" y="622.4" font-size="21" text-anchor="start" transform="rotate(-90 610.4 622.4)">photons/(eV·st·ele)</text>
</svg></body></html>
